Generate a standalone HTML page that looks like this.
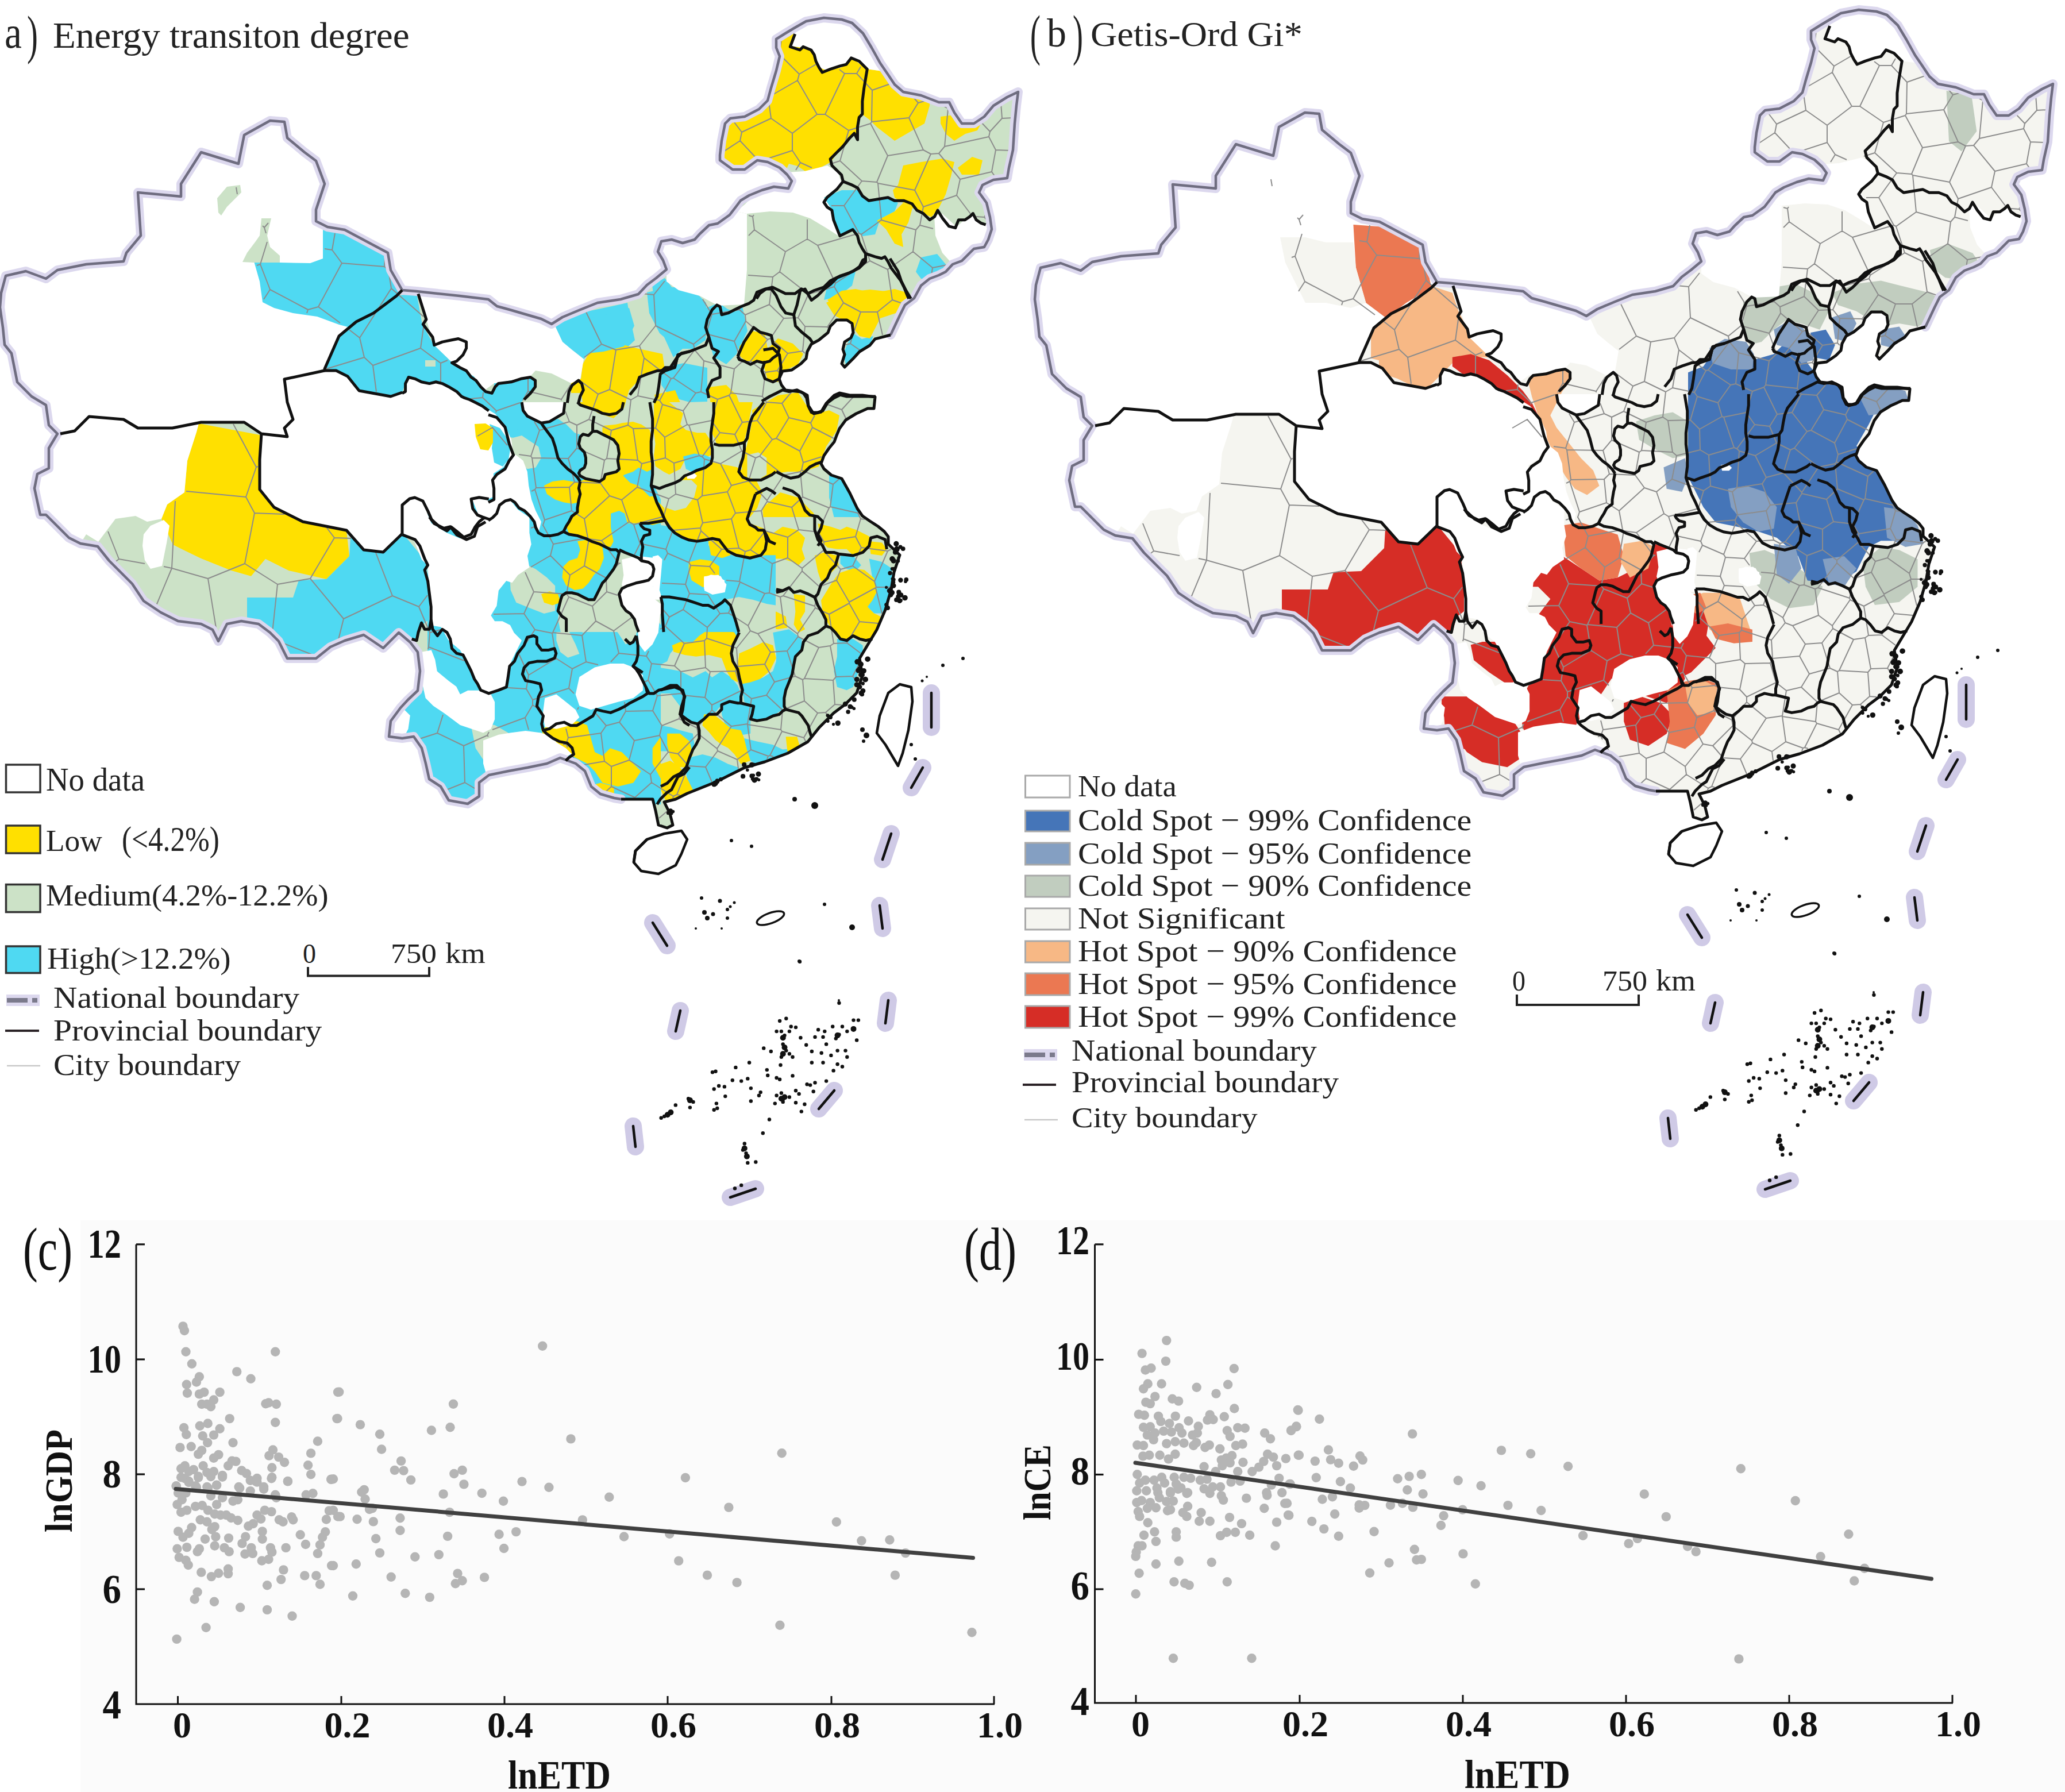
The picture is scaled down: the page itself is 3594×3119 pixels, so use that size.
<!DOCTYPE html><html><head><meta charset="utf-8"><style>html,body{margin:0;padding:0;background:#fff}svg{display:block}text{font-family:"Liberation Serif","Times New Roman",serif}</style></head><body>
<svg xmlns="http://www.w3.org/2000/svg" width="3594" height="3119" viewBox="0 0 3594 3119">
<rect width="3594" height="3119" fill="#fff"/>
<rect x="140" y="2124" width="3454" height="995" fill="#fbfbfb"/>
<clipPath id="clipA"><polygon points="70,896 60,850 65,825 85,815 85,780 100,755 85,740 80,705 55,690 30,665 20,615 8,600 5,570 0,535 2,510 10,480 45,472 80,485 100,470 150,460 215,455 220,440 245,410 240,335 315,342 315,320 350,265 415,285 425,235 470,210 495,212 500,240 530,265 550,280 565,320 550,365 550,385 570,395 600,400 675,440 680,470 700,505 725,507 800,515 850,521 865,533 887,539 911,546 942,555 960,564 979,552 1010,539 1040,527 1080,521 1111,512 1126,496 1142,484 1160,469 1154,453 1145,438 1151,420 1169,417 1188,423 1209,417 1218,407 1234,392 1249,389 1270,374 1280,361 1289,349 1304,340 1326,331 1347,325 1372,328 1378,315 1370,304 1357,292 1336,282 1318,279 1296,295 1275,295 1253,279 1253,270 1256,245 1262,215 1271,206 1296,203 1321,190 1336,175 1342,153 1351,123 1357,98 1351,83 1351,68 1367,58 1382,49 1403,37 1434,31 1465,34 1483,40 1502,58 1517,83 1532,110 1545,129 1557,147 1572,160 1603,166 1634,178 1652,178 1661,196 1674,215 1695,215 1713,203 1729,184 1753,169 1772,160 1769,184 1766,215 1763,261 1756,292 1753,310 1729,313 1710,322 1704,335 1717,353 1723,378 1726,399 1720,417 1713,430 1695,433 1686,442 1674,454 1658,460 1646,473 1634,479 1618,485 1603,497 1591,519 1575,531 1566,549 1550,583 1523,590 1514,601 1496,612 1485,624 1470,639 1465,633 1470,617 1467,608 1470,595 1481,588 1485,579 1483,563 1474,557 1456,557 1445,568 1441,579 1425,592 1412,599 1405,612 1403,624 1394,633 1378,644 1362,646 1356,659 1360,670 1367,679 1394,682 1405,688 1407,706 1416,720 1429,717 1438,702 1452,688 1461,684 1479,688 1501,688 1523,691 1521,711 1510,711 1490,720 1472,731 1461,746 1456,758 1452,769 1443,780 1434,793 1429,807 1434,816 1447,827 1465,833 1479,858 1492,885 1501,898 1514,907 1528,916 1539,925 1546,934 1546,947 1566,966 1556,996 1551,1026 1541,1061 1526,1096 1511,1121 1496,1146 1501,1176 1491,1206 1471,1226 1451,1241 1426,1266 1406,1291 1371,1311 1331,1326 1296,1336 1276,1346 1246,1361 1221,1371 1196,1381 1176,1391 1156,1396 1166,1416 1171,1436 1161,1441 1146,1436 1141,1411 1136,1391 1106,1391 1081,1391 1069,1389 1045,1382 1029,1369 1018,1342 1002,1329 975,1319 952,1329 918,1336 885,1342 851,1349 834,1362 834,1386 814,1399 781,1393 767,1369 747,1356 741,1329 734,1302 720,1282 700,1285 677,1282 680,1255 697,1232 710,1218 727,1202 731,1168 727,1135 714,1118 694,1101 667,1128 633,1105 600,1115 575,1126 550,1146 500,1146 485,1116 470,1101 450,1086 420,1081 395,1086 380,1116 370,1096 350,1086 310,1081 280,1066 250,1046 230,1016 210,996 190,976 170,951 140,946 120,936 100,916 80,896"/><polygon points="1106,1481 1126,1461 1156,1451 1186,1446 1196,1461 1186,1486 1176,1506 1146,1521 1116,1516 1103,1501"/><polygon points="1566,1191 1586,1196 1588,1221 1581,1271 1571,1311 1563,1333 1541,1296 1526,1276 1531,1246 1546,1206"/></clipPath>
<polygon points="70,896 60,850 65,825 85,815 85,780 100,755 85,740 80,705 55,690 30,665 20,615 8,600 5,570 0,535 2,510 10,480 45,472 80,485 100,470 150,460 215,455 220,440 245,410 240,335 315,342 315,320 350,265 415,285 425,235 470,210 495,212 500,240 530,265 550,280 565,320 550,365 550,385 570,395 600,400 675,440 680,470 700,505 725,507 800,515 850,521 865,533 887,539 911,546 942,555 960,564 979,552 1010,539 1040,527 1080,521 1111,512 1126,496 1142,484 1160,469 1154,453 1145,438 1151,420 1169,417 1188,423 1209,417 1218,407 1234,392 1249,389 1270,374 1280,361 1289,349 1304,340 1326,331 1347,325 1372,328 1378,315 1370,304 1357,292 1336,282 1318,279 1296,295 1275,295 1253,279 1253,270 1256,245 1262,215 1271,206 1296,203 1321,190 1336,175 1342,153 1351,123 1357,98 1351,83 1351,68 1367,58 1382,49 1403,37 1434,31 1465,34 1483,40 1502,58 1517,83 1532,110 1545,129 1557,147 1572,160 1603,166 1634,178 1652,178 1661,196 1674,215 1695,215 1713,203 1729,184 1753,169 1772,160 1769,184 1766,215 1763,261 1756,292 1753,310 1729,313 1710,322 1704,335 1717,353 1723,378 1726,399 1720,417 1713,430 1695,433 1686,442 1674,454 1658,460 1646,473 1634,479 1618,485 1603,497 1591,519 1575,531 1566,549 1550,583 1523,590 1514,601 1496,612 1485,624 1470,639 1465,633 1470,617 1467,608 1470,595 1481,588 1485,579 1483,563 1474,557 1456,557 1445,568 1441,579 1425,592 1412,599 1405,612 1403,624 1394,633 1378,644 1362,646 1356,659 1360,670 1367,679 1394,682 1405,688 1407,706 1416,720 1429,717 1438,702 1452,688 1461,684 1479,688 1501,688 1523,691 1521,711 1510,711 1490,720 1472,731 1461,746 1456,758 1452,769 1443,780 1434,793 1429,807 1434,816 1447,827 1465,833 1479,858 1492,885 1501,898 1514,907 1528,916 1539,925 1546,934 1546,947 1566,966 1556,996 1551,1026 1541,1061 1526,1096 1511,1121 1496,1146 1501,1176 1491,1206 1471,1226 1451,1241 1426,1266 1406,1291 1371,1311 1331,1326 1296,1336 1276,1346 1246,1361 1221,1371 1196,1381 1176,1391 1156,1396 1166,1416 1171,1436 1161,1441 1146,1436 1141,1411 1136,1391 1106,1391 1081,1391 1069,1389 1045,1382 1029,1369 1018,1342 1002,1329 975,1319 952,1329 918,1336 885,1342 851,1349 834,1362 834,1386 814,1399 781,1393 767,1369 747,1356 741,1329 734,1302 720,1282 700,1285 677,1282 680,1255 697,1232 710,1218 727,1202 731,1168 727,1135 714,1118 694,1101 667,1128 633,1105 600,1115 575,1126 550,1146 500,1146 485,1116 470,1101 450,1086 420,1081 395,1086 380,1116 370,1096 350,1086 310,1081 280,1066 250,1046 230,1016 210,996 190,976 170,951 140,946 120,936 100,916 80,896" fill="#CCE2C7"/>
<g clip-path="url(#clipA)">
<polygon points="442,455 487,457 540,458 562,450 562,400 600,405 653,426 680,450 693,471 703,505 690,515 650,545 620,560 613,571 590,565 552,551 510,545 477,536 457,526 452,490" fill="#4FD9F2"/>
<polygon points="422,456 430,440 445,420 452,410 455,380 472,380 465,410 470,430 487,445 487,457 442,457" fill="#CCE2C7"/>
<polygon points="380,370 378,345 395,325 418,322 420,335 395,360 385,375" fill="#CCE2C7"/>
<polygon points="565,642 590,585 620,560 650,545 690,515 725,510 735,565 755,600 787,631 798,638 811,647 825,655 842,680 854,685 860,673 860,667 900,660 923,655 932,664 932,676 907,700 910,716 934,736 945,738 954,752 968,765 972,783 972,801 981,812 1004,828 1008,837 1004,854 1008,868 1006,890 988,908 985,930 972,935 956,939 945,935 936,926 934,912 928,899 914,895 901,890 896,879 890,870 879,872 870,884 861,895 852,904 845,897 834,890 825,881 818,872 825,863 838,868 856,868 861,857 858,846 865,837 870,823 879,817 888,808 892,794 888,783 883,770 881,756 874,745 865,734 856,727 838,718 825,712 816,705 803,694 794,689 778,676 765,665 751,665 740,674 722,658 709,656 700,683 680,690 625,680 605,655 585,645" fill="#4FD9F2"/>
<polygon points="827,736 849,737 858,759 858,786 836,784 828,760" fill="#FFE000"/>
<polygon points="887,761 915,765 943,790 943,814 925,815 900,800 887,780" fill="#CCE2C7"/>
<polygon points="740,627 758,627 758,638 740,638" fill="#CCE2C7"/>
<polygon points="346,737 452,757 452,852 477,883 527,908 603,923 608,968 568,1008 502,993 462,973 437,1003 402,993 352,973 321,958 301,948 281,903 291,878 321,857 326,802 342,752" fill="#FFE000"/>
<polygon points="150,930 171,943 201,903 236,898 256,908 250,930 248,950 252,975 262,990 282,985 290,945 296,948 321,963 352,973 402,993 437,1003 462,973 502,993 515,1005 510,1035 440,1040 430,1086 420,1081 395,1086 380,1116 370,1096 350,1086 310,1081 280,1066 250,1046 230,1016 210,996 190,976 170,951" fill="#CCE2C7"/>
<polygon points="430,1040 510,1040 520,1010 568,1008 608,968 610,935 640,960 700,927 741,977 747,1034 747,1078 734,1088 727,1115 714,1118 694,1101 667,1128 633,1105 600,1115 575,1126 550,1146 500,1146 485,1116 470,1101 450,1086 430,1086" fill="#4FD9F2"/>
<polygon points="966,567 985,555 1022,542 1065,533 1092,527 1095,546 1105,592 1089,607 1065,601 1034,604 1016,625 997,610 979,595" fill="#4FD9F2"/>
<polygon points="1135,496 1157,484 1181,515 1218,533 1234,536 1228,592 1206,607 1188,607 1172,622 1151,576 1141,540" fill="#4FD9F2"/>
<polygon points="1234,546 1249,533 1280,542 1292,533 1301,576 1286,607 1261,631 1243,613 1231,585" fill="#4FD9F2"/>
<polygon points="1151,640 1190,632 1231,640 1231,699 1200,700 1165,690 1151,670" fill="#4FD9F2"/>
<polygon points="1253,279 1253,270 1256,245 1262,215 1271,206 1296,203 1321,190 1336,175 1342,153 1351,123 1357,98 1351,83 1351,68 1367,58 1382,49 1382,58 1376,80 1397,83 1416,89 1425,117 1440,123 1465,117 1483,101 1508,120 1505,147 1499,178 1496,209 1492,239 1483,233 1465,255 1446,282 1422,295 1403,299 1388,289 1373,285 1367,298 1357,292 1336,282 1318,279 1296,295 1275,295" fill="#FFE000"/>
<polygon points="1508,120 1530,123 1545,129 1557,147 1572,160 1603,166 1618,175 1618,184 1609,215 1588,227 1557,245 1526,221 1514,209 1502,200 1505,147" fill="#FFE000"/>
<polygon points="1637,203 1660,200 1674,215 1695,215 1709,212 1701,227 1680,233 1661,245 1646,233 1637,215" fill="#FFE000"/>
<polygon points="1563,322 1572,288 1603,282 1640,276 1661,282 1655,307 1646,338 1634,362 1621,378 1588,362 1557,344 1554,331" fill="#FFE000"/>
<polygon points="1667,292 1692,273 1710,279 1704,304 1674,304" fill="#FFE000"/>
<polygon points="1434,344 1465,331 1496,331 1508,347 1548,344 1563,353 1557,368 1532,381 1523,408 1502,411 1483,399 1465,411 1456,393 1446,362" fill="#4FD9F2"/>
<polygon points="1526,384 1557,368 1572,353 1588,362 1581,387 1569,408 1572,430 1557,424 1542,399" fill="#FFE000"/>
<polygon points="1603,448 1631,442 1646,460 1649,485 1624,491 1603,485 1594,473" fill="#4FD9F2"/>
<polygon points="1440,497 1465,479 1489,473 1483,497 1459,516 1434,522" fill="#4FD9F2"/>
<polygon points="1440,522 1465,506 1489,503 1520,510 1557,503 1581,510 1585,528 1557,540 1526,550 1480,556 1465,550" fill="#FFE000"/>
<polygon points="1485,580 1500,590 1520,585 1514,601 1496,612 1485,624 1472,635 1468,615 1475,598" fill="#4FD9F2"/>
<polygon points="1014,634 1032,603 1068,596 1112,607 1153,616 1157,643 1121,652 1095,679 1086,710 1068,728 1041,719 1014,701 1010,670" fill="#FFE000"/>
<polygon points="994,659 1016,659 1016,684 994,684" fill="#FFE000"/>
<polygon points="1050,741 1090,737 1121,750 1130,786 1130,830 1126,857 1148,879 1157,902 1121,915 1086,911 1068,893 1050,870 1032,866 1010,857 1014,839 1050,821 1059,790" fill="#FFE000"/>
<polygon points="992,902 1014,888 1050,893 1068,911 1063,946 1037,951 1014,942 992,929" fill="#FFE000"/>
<polygon points="947,848 987,839 1005,857 1001,870 970,875 952,866" fill="#FFE000"/>
<polygon points="979,973 1014,946 1041,955 1050,973 1032,1000 1005,1022 987,1013 979,991" fill="#FFE000"/>
<polygon points="1139,687 1175,679 1184,701 1179,741 1202,750 1229,750 1237,777 1229,795 1202,804 1184,812 1153,812 1139,790 1139,750 1144,714" fill="#FFE000"/>
<polygon points="1233,674 1264,670 1282,688 1291,714 1300,750 1282,768 1246,768 1233,741 1237,705" fill="#FFE000"/>
<polygon points="1309,714 1354,688 1389,683 1403,705 1425,719 1443,714 1461,723 1456,750 1438,777 1425,812 1398,821 1371,821 1336,826 1295,821 1287,804 1300,777 1313,750" fill="#FFE000"/>
<polygon points="1166,835 1202,821 1237,804 1282,813 1313,830 1327,857 1318,884 1304,902 1327,929 1331,955 1309,969 1273,955 1246,942 1211,938 1184,929 1166,902 1162,866" fill="#FFE000"/>
<polygon points="1327,884 1358,857 1389,866 1416,893 1425,924 1452,938 1470,929 1496,929 1514,946 1532,969 1514,991 1479,982 1447,973 1425,960 1398,973 1371,982 1349,978 1336,955 1331,929" fill="#FFE000"/>
<polygon points="1425,1045 1452,1000 1487,987 1514,991 1532,1018 1532,1063 1523,1098 1505,1116 1470,1116 1447,1089 1429,1071" fill="#FFE000"/>
<polygon points="1287,1129 1313,1116 1345,1121 1349,1161 1336,1188 1304,1192 1287,1170" fill="#FFE000"/>
<polygon points="1170,1116 1202,1107 1237,1098 1273,1094 1282,1116 1277,1152 1260,1170 1233,1156 1202,1147 1175,1134" fill="#FFE000"/>
<polygon points="1202,982 1229,969 1246,973 1242,1004 1220,1018 1202,1004" fill="#FFE000"/>
<polygon points="947,1259 987,1254 1014,1268 1050,1277 1068,1300 1080,1330 1100,1370 1080,1391 1046,1386 1026,1371 1016,1346 996,1331 976,1321 956,1331 950,1300" fill="#FFE000"/>
<polygon points="1287,603 1309,576 1331,580 1336,607 1354,589 1380,598 1398,616 1389,634 1362,647 1354,665 1336,661 1327,629 1300,629 1287,620" fill="#FFE000"/>
<polygon points="1438,527 1470,509 1514,504 1559,509 1577,527 1559,545 1532,554 1514,589 1496,585 1479,563 1452,549" fill="#FFE000"/>
<polygon points="963,567 1005,558 1050,549 1095,536 1104,567 1086,603 1050,612 1014,616 987,607 970,589" fill="#4FD9F2"/>
<polygon points="1126,509 1166,500 1202,500 1229,527 1229,580 1202,603 1175,603 1148,580 1130,545" fill="#4FD9F2"/>
<polygon points="1229,536 1251,527 1282,549 1291,580 1282,616 1264,634 1242,621 1233,589" fill="#4FD9F2"/>
<polygon points="1063,902 1104,911 1130,929 1148,946 1157,969 1139,991 1104,1004 1068,996 1050,973 1059,946" fill="#4FD9F2"/>
<polygon points="1112,920 1157,911 1184,929 1202,955 1202,982 1193,1018 1229,1022 1264,1027 1291,1013 1327,1013 1349,1045 1336,1058 1291,1058 1246,1049 1202,1045 1157,1049 1130,1027 1121,991 1112,955" fill="#4FD9F2"/>
<polygon points="912,1116 952,1098 996,1098 1032,1089 1068,1098 1095,1125 1112,1161 1121,1196 1112,1232 1086,1250 1050,1250 1032,1232 1010,1214 987,1223 961,1237 934,1223 916,1196 907,1161" fill="#4FD9F2"/>
<polygon points="1443,826 1470,830 1487,866 1496,902 1487,929 1470,924 1452,902 1443,866" fill="#4FD9F2"/>
<polygon points="1461,1116 1496,1107 1514,1134 1505,1170 1487,1205 1461,1214 1443,1188 1452,1152" fill="#4FD9F2"/>
<polygon points="1291,1188 1336,1188 1362,1161 1389,1125 1398,1152 1380,1196 1362,1232 1336,1259 1300,1259 1291,1223" fill="#4FD9F2"/>
<polygon points="1139,1170 1179,1161 1215,1179 1246,1196 1264,1237 1246,1268 1202,1286 1166,1272 1139,1237" fill="#4FD9F2"/>
<polygon points="1014,1254 1050,1250 1086,1259 1112,1286 1130,1330 1140,1380 1110,1391 1081,1391 1075,1350 1050,1300 1020,1280" fill="#4FD9F2"/>
<polygon points="854,1013 889,991 916,1004 934,1058 961,1080 979,1116 934,1125 889,1170 867,1196 854,1147 862,1080" fill="#4FD9F2"/>
<polygon points="912,801 950,810 980,830 1008,860 1008,935 970,940 930,930 914,900" fill="#4FD9F2"/>
<polygon points="934,1000 970,995 1000,1030 990,1060 950,1070 925,1050" fill="#4FD9F2"/>
<polygon points="741,1150 760,1175 790,1180 810,1210 834,1240 840,1275 800,1280 780,1300 760,1290 745,1270 740,1230 735,1190" fill="#4FD9F2"/>
<polygon points="870,1180 890,1160 930,1170 950,1200 946,1260 930,1280 900,1290 880,1270 870,1230" fill="#4FD9F2"/>
<polygon points="760,1300 800,1300 830,1330 835,1362 814,1370 790,1350 770,1330" fill="#4FD9F2"/>
<polygon points="1150.0,900.0 1568.5,900.0 1568.5,1400.0 1150.0,1400.0" fill="#CCE2C7"/>
<polygon points="1150.0,914.0 1166.7,916.7 1177.9,927.9 1194.6,936.3 1211.4,941.9 1233.7,939.1 1230.9,972.5 1200.2,980.9 1200.2,1017.2 1222.5,1031.1 1225.3,1003.2 1264.4,1006.0 1267.2,1028.3 1286.7,1025.6 1283.9,1011.6 1295.1,1006.0 1289.5,983.7 1289.5,969.8 1306.2,972.5 1323.0,980.9 1331.4,992.1 1339.7,1000.4 1345.3,1017.2 1345.3,1028.3 1328.6,1033.9 1317.4,1045.1 1295.1,1056.2 1278.3,1067.4 1272.8,1067.4 1267.2,1056.2 1261.6,1045.1 1233.7,1050.7 1205.8,1050.7 1177.9,1042.3 1150.0,1045.1" fill="#4FD9F2"/>
<polygon points="1150.0,1056.2 1166.7,1073.0 1177.9,1095.3 1205.8,1092.5 1217.0,1073.0 1233.7,1067.4 1267.2,1073.0 1281.1,1078.6 1286.7,1100.9 1281.1,1112.1 1272.8,1123.2 1256.0,1123.2 1250.4,1117.6 1233.7,1114.8 1211.4,1114.8 1205.8,1123.2 1177.9,1123.2 1166.7,1137.2 1161.2,1151.1 1150.0,1156.7" fill="#4FD9F2"/>
<polygon points="1150.0,1162.3 1166.7,1165.1 1183.5,1167.9 1205.8,1179.0 1228.1,1167.9 1239.3,1179.0 1256.0,1167.9 1272.8,1179.0 1283.9,1193.0 1289.5,1206.9 1289.5,1223.7 1275.6,1223.7 1256.0,1226.5 1242.1,1243.2 1225.3,1251.6 1214.2,1259.9 1203.0,1257.1 1191.9,1251.6 1183.5,1243.2 1183.5,1229.2 1166.7,1206.9 1150.0,1206.9" fill="#4FD9F2"/>
<polygon points="1345.3,1100.9 1373.2,1095.3 1395.5,1112.1 1395.5,1131.6 1384.4,1142.7 1381.6,1156.7 1378.8,1173.4 1373.2,1187.4 1367.6,1201.3 1364.8,1215.3 1362.1,1234.8 1345.3,1246.0 1328.6,1251.6 1311.8,1254.4 1306.2,1246.0 1306.2,1229.2 1295.1,1220.9 1292.3,1201.3 1289.5,1190.2 1311.8,1184.6 1328.6,1179.0 1345.3,1167.9 1350.9,1151.1 1350.9,1137.2" fill="#4FD9F2"/>
<polygon points="1456.9,1112.1 1484.8,1112.1 1501.6,1123.2 1501.6,1151.1 1490.4,1179.0 1484.8,1195.8 1473.7,1201.3 1456.9,1195.8 1451.3,1167.9 1456.9,1142.7" fill="#4FD9F2"/>
<polygon points="1512.7,972.5 1535.0,978.1 1551.8,989.3 1554.6,1017.2 1546.2,1045.1 1535.0,1067.4 1521.1,1067.4 1509.9,1056.2 1512.7,1031.1 1518.3,1006.0" fill="#4FD9F2"/>
<polygon points="1462.5,964.2 1484.8,967.0 1498.8,983.7 1487.6,994.9 1470.9,989.3 1462.5,980.9" fill="#4FD9F2"/>
<polygon points="1256.0,1223.7 1270.0,1220.9 1283.9,1223.7 1300.7,1226.5 1311.8,1229.2 1309.0,1243.2 1306.2,1251.6 1306.2,1276.7 1289.5,1279.5 1272.8,1271.1 1261.6,1259.9 1256.0,1243.2" fill="#4FD9F2"/>
<polygon points="1295.1,1285.0 1317.4,1290.6 1345.3,1296.2 1362.1,1304.6 1390.0,1301.8 1401.1,1290.6 1406.7,1296.2 1395.5,1318.5 1373.2,1329.7 1345.3,1335.3 1323.0,1335.3 1306.2,1324.1 1295.1,1307.4" fill="#4FD9F2"/>
<polygon points="1200.2,1318.5 1222.5,1312.9 1244.9,1318.5 1267.2,1329.7 1283.9,1335.3 1289.5,1352.0 1272.8,1368.8 1250.4,1379.9 1233.7,1391.1 1211.4,1400.0 1200.2,1400.0 1197.4,1374.3 1194.6,1346.4" fill="#4FD9F2"/>
<polygon points="1150.0,1262.7 1166.7,1265.5 1183.5,1271.1 1205.8,1276.7 1208.6,1296.2 1200.2,1312.9 1183.5,1307.4 1166.7,1307.4 1150.0,1307.4" fill="#4FD9F2"/>
<polygon points="1166.7,900.0 1242.1,900.0 1242.1,933.5 1233.7,939.1 1211.4,941.9 1194.6,936.3 1177.9,927.9 1166.7,916.7" fill="#FFE000"/>
<polygon points="1256.0,900.0 1292.3,900.0 1306.2,911.2 1328.6,919.5 1331.4,927.9 1331.4,950.2 1325.8,964.2 1317.4,967.0 1300.7,964.2 1283.9,961.4 1267.2,958.6 1258.8,953.0 1256.0,941.9 1247.7,936.3 1256.0,916.7" fill="#FFE000"/>
<polygon points="1200.2,978.1 1233.7,972.5 1250.4,983.7 1253.2,1006.0 1233.7,1017.2 1217.0,1017.2 1203.0,1006.0" fill="#FFE000"/>
<polygon points="1233.7,941.9 1256.0,941.9 1267.2,958.6 1272.8,972.5 1256.0,978.1 1236.5,972.5" fill="#FFE000"/>
<polygon points="1247.7,969.8 1283.9,967.0 1295.1,983.7 1295.1,1006.0 1283.9,1011.6 1286.7,1025.6 1267.2,1028.3 1264.4,1006.0 1253.2,1006.0" fill="#CCE2C7"/>
<polygon points="1323.0,922.3 1345.3,927.9 1362.1,916.7 1387.2,922.3 1401.1,936.3 1395.5,955.8 1401.1,972.5 1390.0,983.7 1378.8,978.1 1362.1,972.5 1345.3,972.5 1328.6,967.0 1320.2,955.8 1328.6,941.9" fill="#FFE000"/>
<polygon points="1417.9,967.0 1434.6,961.4 1456.9,967.0 1459.7,983.7 1445.8,997.7 1440.2,1011.6 1429.0,1011.6 1423.4,994.9" fill="#FFE000"/>
<polygon points="1423.4,911.2 1445.8,916.7 1462.5,922.3 1473.7,916.7 1490.4,922.3 1512.7,933.5 1515.5,950.2 1501.6,961.4 1484.8,967.0 1473.7,955.8 1456.9,955.8 1440.2,953.0 1429.0,941.9" fill="#FFE000"/>
<polygon points="1512.7,941.9 1535.0,944.6 1543.4,955.8 1535.0,967.0 1515.5,964.2" fill="#FFE000"/>
<polygon points="1429.0,1045.1 1445.8,1017.2 1459.7,997.7 1484.8,989.3 1504.4,992.1 1521.1,1006.0 1526.7,1028.3 1518.3,1045.1 1509.9,1056.2 1521.1,1067.4 1532.3,1073.0 1529.5,1095.3 1518.3,1112.1 1496.0,1114.8 1484.8,1106.5 1473.7,1114.8 1462.5,1112.1 1454.1,1100.9 1445.8,1092.5 1437.4,1078.6 1431.8,1067.4" fill="#FFE000"/>
<polygon points="1169.5,1123.2 1183.5,1117.6 1205.8,1117.6 1217.0,1106.5 1233.7,1095.3 1256.0,1092.5 1278.3,1100.9 1283.9,1112.1 1275.6,1123.2 1272.8,1137.2 1275.6,1151.1 1283.9,1165.1 1283.9,1187.4 1272.8,1181.8 1264.4,1167.9 1256.0,1145.5 1233.7,1140.0 1211.4,1142.7 1191.9,1140.0 1172.3,1134.4" fill="#FFE000"/>
<polygon points="1286.7,1137.2 1306.2,1128.8 1328.6,1117.6 1345.3,1123.2 1350.9,1145.5 1339.7,1167.9 1323.0,1181.8 1306.2,1187.4 1292.3,1190.2 1286.7,1173.4 1283.9,1156.7" fill="#FFE000"/>
<polygon points="1331.4,1067.4 1350.9,1064.6 1367.6,1073.0 1370.4,1092.5 1353.7,1095.3 1336.9,1092.5 1331.4,1081.4" fill="#FFE000"/>
<polygon points="1381.6,1033.9 1401.1,1036.7 1401.1,1064.6 1392.7,1078.6 1401.1,1095.3 1390.0,1100.9 1381.6,1086.9 1384.4,1064.6" fill="#FFE000"/>
<polygon points="1225.3,1243.2 1242.1,1243.2 1256.0,1254.4 1272.8,1268.3 1289.5,1271.1 1295.1,1285.0 1300.7,1307.4 1306.2,1324.1 1289.5,1329.7 1278.3,1312.9 1267.2,1301.8 1256.0,1296.2 1244.9,1287.8 1233.7,1273.9 1222.5,1262.7" fill="#FFE000"/>
<polygon points="1367.6,1282.3 1387.2,1282.3 1392.7,1301.8 1384.4,1312.9 1370.4,1307.4" fill="#FFE000"/>
<polygon points="1161.2,1276.7 1183.5,1276.7 1200.2,1290.6 1205.8,1312.9 1194.6,1335.3 1177.9,1335.3 1166.7,1318.5 1161.2,1296.2" fill="#FFE000"/>
<polygon points="1150.0,1329.7 1166.7,1324.1 1183.5,1335.3 1194.6,1352.0 1205.8,1374.3 1200.2,1400.0 1161.2,1400.0 1150.0,1374.3" fill="#FFE000"/>
<polygon points="744.0,800.0 1150.1,800.0 1150.1,1399.9 677.0,1399.9 677.0,1201.7 744.0,1201.7" fill="#4FD9F2"/>
<polygon points="971.6,1044.4 985.0,1034.3 1001.7,1031.0 1018.5,1034.3 1035.2,1021.0 1052.0,1007.6 1068.7,987.5 1075.4,967.4 1095.5,974.1 1122.3,987.5 1135.7,1000.9 1129.0,1014.3 1115.6,1021.0 1102.2,1034.3 1088.8,1054.4 1095.5,1074.5 1108.9,1094.6 1105.5,1114.7 1088.8,1121.4 1075.4,1101.3 1062.0,1087.9 1045.3,1084.6 1028.5,1091.3 1015.1,1101.3 1001.7,1094.6 988.3,1081.2 975.0,1067.8" fill="#CCE2C7"/>
<polygon points="894.6,1014.3 911.3,994.2 928.1,987.5 948.2,1000.9 968.3,1014.3 978.3,1034.3 971.6,1054.4 968.3,1074.5 961.6,1087.9 948.2,1094.6 934.8,1087.9 924.7,1067.8 908.0,1054.4 898.0,1034.3" fill="#CCE2C7"/>
<polygon points="968.3,1087.9 988.3,1094.6 1001.7,1121.4 1008.4,1138.1 988.3,1144.8 975.0,1134.8 968.3,1114.7" fill="#CCE2C7"/>
<polygon points="948.2,840.2 975.0,833.5 1001.7,836.8 1011.8,860.3 1001.7,877.0 978.3,877.0 958.2,867.0 948.2,853.6" fill="#FFE000"/>
<polygon points="978.3,987.5 995.0,974.1 1008.4,957.3 1028.5,947.3 1045.3,954.0 1052.0,974.1 1041.9,1000.9 1028.5,1017.6 1011.8,1027.7 991.7,1027.7 981.7,1010.9" fill="#FFE000"/>
<polygon points="988.3,900.4 1001.7,887.0 1015.1,880.3 1008.4,860.3 1015.1,836.8 1035.2,840.2 1055.3,830.1 1075.4,833.5 1068.7,860.3 1068.7,887.0 1065.3,910.5 1062.0,933.9 1045.3,940.6 1028.5,933.9 1008.4,927.2 995.0,917.2" fill="#FFE000"/>
<polygon points="1082.1,900.4 1095.5,883.7 1115.6,867.0 1135.7,863.6 1155.7,883.7 1162.4,907.1 1135.7,913.8 1115.6,910.5" fill="#FFE000"/>
<polygon points="944.8,1034.3 961.6,1031.0 978.3,1041.0 975.0,1054.4 951.5,1056.1" fill="#FFE000"/>
<polygon points="941.5,1268.7 961.6,1262.0 985.0,1258.7 1005.1,1255.3 1021.8,1262.0 1028.5,1285.4 1035.2,1308.9 1048.6,1315.6 1062.0,1302.2 1082.1,1308.9 1102.2,1329.0 1115.6,1342.4 1102.2,1362.4 1075.4,1369.1 1048.6,1362.4 1035.2,1342.4 1021.8,1329.0 1001.7,1318.9 988.3,1308.9 968.3,1295.5 948.2,1285.4" fill="#FFE000"/>
<polygon points="1135.7,1302.2 1150.1,1282.1 1150.1,1355.7 1135.7,1329.0" fill="#FFE000"/>
<polygon points="1021.8,1369.1 1045.3,1362.4 1068.7,1369.1 1068.7,1399.9 1025.2,1399.9" fill="#FFE000"/>
<polygon points="821.0,1268.7 841.0,1258.7 861.1,1262.0 884.6,1275.4 881.2,1295.5 861.1,1308.9 841.0,1322.3 827.7,1302.2" fill="#CCE2C7"/>
<polygon points="1122.3,1034.3 1142.4,1031.0 1150.1,1034.3 1150.1,1087.9 1135.7,1067.8" fill="#CCE2C7"/>
<polygon points="942.0,736.3 971.1,729.1 985.6,738.7 1000.1,753.3 1014.6,758.1 1019.5,772.6 1019.5,796.9 1009.8,821.1 1009.8,838.0 1007.4,869.5 1005.0,891.3 985.6,915.5 975.9,930.0 990.4,930.0 1019.5,937.3 1067.9,956.7 1077.6,961.5 1072.8,980.9 1053.4,1009.9 1034.0,1043.8 985.6,1031.7 975.9,1043.8 971.1,1077.7 975.9,1100.0 850.0,1100.0 850.0,905.8 864.5,893.7 879.1,871.9 896.0,874.3 913.0,888.9 932.3,908.2 942.0,927.6 929.9,908.2 922.6,893.7 917.8,869.5 922.6,845.3 917.8,821.1 910.5,801.7 898.4,792.0 891.2,772.6 898.4,748.4 922.6,736.3" fill="#4FD9F2"/>
<polygon points="888.7,763.0 908.1,758.1 922.6,767.8 937.2,777.5 942.0,796.9 932.3,813.8 917.8,816.2 898.4,804.1 891.2,787.2" fill="#CCE2C7"/>
<polygon points="1031.6,750.8 1024.3,758.1 1014.6,755.7 1009.8,760.5 1007.4,772.6 1009.8,779.9 1017.1,787.2 1019.5,796.9 1019.5,806.5 1017.1,813.8 1009.8,818.6 1007.4,823.5 1009.8,828.3 1014.6,830.8 1019.5,833.2 1031.6,835.6 1043.7,838.0 1051.0,833.2 1053.4,825.9 1063.1,823.5 1072.8,821.1 1077.6,816.2 1075.2,801.7 1077.6,789.6 1075.2,775.1 1067.9,765.4 1058.2,760.5 1048.5,755.7 1038.9,750.8" fill="#CCE2C7"/>
<polygon points="886.3,990.6 913.0,980.9 932.3,990.6 951.7,1005.1 966.2,1019.6 966.2,1063.2 946.9,1068.0 922.6,1058.4 898.4,1048.7 888.7,1026.9" fill="#CCE2C7"/>
<polygon points="1077.6,961.5 1087.3,961.5 1099.4,966.3 1111.5,971.2 1116.3,976.0 1128.5,978.5 1135.7,983.3 1138.1,990.6 1135.7,1002.7 1128.5,1009.9 1118.8,1012.3 1106.7,1014.8 1092.1,1019.6 1082.4,1024.5 1077.6,1034.1 1080.0,1043.8 1082.4,1053.5 1089.7,1063.2 1097.0,1068.0 1104.2,1077.7 1106.7,1087.4 1111.5,1100.0 975.9,1100.0 971.1,1077.7 973.5,1053.5 975.9,1043.8 978.3,1036.6 985.6,1031.7 1005.0,1034.1 1024.3,1043.8 1034.0,1043.8 1043.7,1024.5 1053.4,1009.9 1067.9,990.6 1075.2,971.2" fill="#CCE2C7"/>
<polygon points="1005.0,700.0 1084.9,700.0 1082.4,712.1 1072.8,719.4 1060.7,721.8 1048.5,719.4 1038.9,714.5 1024.3,709.7 1009.8,704.8" fill="#FFE000"/>
<polygon points="1048.5,743.6 1063.1,741.2 1082.4,736.3 1101.8,733.9 1116.3,738.7 1130.9,748.4 1135.7,772.6 1133.3,796.9 1135.7,816.2 1126.0,821.1 1111.5,813.8 1101.8,821.1 1087.3,825.9 1080.0,830.8 1077.6,816.2 1075.2,801.7 1077.6,789.6 1075.2,775.1 1067.9,765.4 1058.2,760.5 1048.5,755.7" fill="#FFE000"/>
<polygon points="1009.8,838.0 1019.5,833.2 1031.6,835.6 1043.7,838.0 1051.0,833.2 1053.4,825.9 1063.1,823.5 1077.6,821.1 1087.3,830.8 1097.0,840.4 1111.5,845.3 1121.2,855.0 1130.9,864.6 1143.0,874.3 1150.2,888.9 1157.5,905.8 1143.0,908.2 1128.5,910.7 1113.9,910.7 1092.1,913.1 1082.4,908.2 1067.9,893.7 1063.1,898.5 1063.1,917.9 1067.9,942.1 1063.1,951.8 1053.4,951.8 1043.7,947.0 1029.2,942.1 1019.5,937.3 1005.0,932.4 990.4,930.0 985.6,915.5 990.4,908.2 995.3,898.5 1005.0,891.3 1005.0,884.0 1007.4,869.5 1009.8,859.8 1007.4,850.1" fill="#FFE000"/>
<polygon points="1063.1,893.7 1077.6,888.9 1087.3,893.7 1092.1,910.7 1111.5,910.7 1121.2,920.3 1130.9,922.8 1130.9,930.0 1121.2,932.4 1116.3,942.1 1118.8,951.8 1116.3,966.3 1111.5,971.2 1099.4,966.3 1087.3,961.5 1077.6,956.7 1072.8,956.7 1067.9,942.1 1063.1,917.9" fill="#4FD9F2"/>
<polygon points="946.9,845.3 961.4,838.0 980.8,835.6 995.3,838.0 1007.4,840.4 1009.8,857.4 1007.4,874.3 995.3,876.8 980.8,874.3 966.2,869.5 951.7,859.8" fill="#FFE000"/>
<polygon points="1135.7,700.0 1242.3,700.0 1237.4,767.8 1237.4,796.9 1227.7,813.8 1213.2,818.6 1191.4,828.3 1174.5,840.4 1147.8,850.1 1133.3,845.3 1135.7,772.6" fill="#CCE2C7"/>
<polygon points="1138.1,700.0 1164.8,700.0 1176.9,709.7 1189.0,719.4 1184.1,738.7 1193.8,748.4 1213.2,753.3 1227.7,753.3 1237.4,767.8 1237.4,792.0 1227.7,796.9 1208.4,792.0 1193.8,796.9 1189.0,806.5 1184.1,816.2 1174.5,821.1 1164.8,825.9 1155.1,821.1 1140.6,811.4 1138.1,792.0 1140.6,772.6 1138.1,753.3 1138.1,729.1" fill="#FFE000"/>
<polygon points="1189.0,794.4 1208.4,789.6 1227.7,792.0 1237.4,796.9 1232.6,809.0 1218.0,818.6 1203.5,821.1 1193.8,816.2" fill="#4FD9F2"/>
<polygon points="1164.8,855.0 1179.3,850.1 1193.8,835.6 1213.2,830.8 1227.7,825.9 1242.3,821.1 1261.6,825.9 1281.0,835.6 1285.8,850.1 1295.5,864.6 1310.0,874.3 1305.2,893.7 1300.4,908.2 1310.0,917.9 1322.2,925.2 1331.8,932.4 1331.8,956.7 1319.7,966.3 1305.2,971.2 1285.8,966.3 1266.5,961.5 1256.8,947.0 1247.1,939.7 1227.7,939.7 1213.2,942.1 1198.7,939.7 1184.1,932.4 1172.0,922.8 1162.3,910.7 1155.1,893.7 1159.9,874.3" fill="#FFE000"/>
<polygon points="1140.6,850.1 1159.9,845.3 1174.5,840.4 1189.0,835.6 1203.5,835.6 1213.2,845.3 1208.4,864.6 1193.8,884.0 1174.5,888.9 1159.9,884.0 1150.2,869.5" fill="#CCE2C7"/>
<polygon points="1242.3,700.0 1310.0,700.0 1305.2,724.2 1300.4,748.4 1295.5,767.8 1281.0,772.6 1261.6,772.6 1247.1,772.6 1239.8,748.4" fill="#FFE000"/>
<polygon points="1319.7,709.7 1334.3,700.0 1350.0,700.0 1350.0,821.1 1334.3,830.8 1314.9,835.6 1297.9,835.6 1290.7,821.1 1293.1,801.7 1297.9,782.3 1302.8,763.0 1310.0,729.1" fill="#FFE000"/>
<polygon points="1300.4,792.0 1319.7,787.2 1334.3,796.9 1334.3,825.9 1319.7,835.6 1300.4,830.8" fill="#CCE2C7"/>
<polygon points="1116.3,976.0 1135.7,966.3 1164.8,961.5 1184.1,956.7 1203.5,951.8 1227.7,947.0 1261.6,961.5 1281.0,968.8 1310.0,973.6 1331.8,966.3 1350.0,966.3 1350.0,1100.0 1152.7,1100.0 1150.2,1039.0 1135.7,1014.8 1138.1,990.6" fill="#4FD9F2"/>
<polygon points="1198.7,978.5 1218.0,973.6 1237.4,976.0 1251.9,985.7 1251.9,1005.1 1237.4,1019.6 1222.9,1022.0 1203.5,1009.9 1198.7,993.0" fill="#FFE000"/>
<polygon points="1232.6,942.1 1251.9,939.7 1266.5,951.8 1271.3,966.3 1256.8,971.2 1237.4,966.3" fill="#FFE000"/>
<polygon points="942.0,1034.1 956.5,1029.3 971.1,1034.1 975.9,1048.7 961.4,1053.5 946.9,1048.7" fill="#FFE000"/>
<polygon points="1005.0,942.1 1019.5,939.7 1034.0,944.6 1048.5,951.8 1051.0,971.2 1043.7,990.6 1034.0,1000.2 1024.3,1014.8 1014.6,1024.5 1000.1,1026.9 985.6,1019.6 978.3,1005.1 980.8,985.7 990.4,976.0 1005.0,971.2 1009.8,956.7" fill="#FFE000"/>
<polygon points="1261.6,1043.8 1285.8,1039.0 1310.0,1043.8 1334.3,1051.1 1350.0,1053.5 1350.0,1100.0 1285.8,1100.0 1276.2,1068.0" fill="#CCE2C7"/>
<polygon points="105,755 100,755 85,740 80,705 55,690 30,665 20,615 8,600 5,570 0,535 2,510 10,480 45,472 80,485 100,470 150,460 215,455 220,440 245,410 240,335 315,342 315,320 350,265 415,285 425,235 470,210 495,212 500,240 530,265 550,280 565,320 550,365 550,385 570,395 600,400 675,440 680,470 700,505 690,515 650,545 620,560 590,585 565,642 495,660 500,700 510,730 495,745 500,760 455,755 425,735 350,735 300,745 240,745 215,730 155,725 130,750" fill="#ffffff"/>
<polygon points="495,660 565,645 585,645 605,655 625,680 680,690 700,684 705.6,681.6 705.6,667.6 711,656.5 722.3,659 733.5,664.8 747.4,667.6 758.6,664.8 781,673 795,681.6 803,690 817,695.5 839.5,706.7 862,720.6 878.6,740 890,765 892.5,785 890,793 876,813 859,824 859,846 862,863 850.7,868.5 834,866 820,868.5 823,885 831,896 845,902 852,904 843,901 834,908 827,917 820,930 807,935 794,924 785,917 778,924 765,917 751,904 745,890 736,872 722,866 713,868 700,879 700,929 667,961 633,957 603,923 527,908 477,883 452,852 452,800 455,755 500,760 495,745 510,730 500,700" fill="#ffffff"/>
<polygon points="105,755 130,750 155,725 215,730 240,745 300,745 350,735 346,737 342,752 326,802 321,857 291,878 281,903 256,908 236,898 201,903 171,943 150,930 140,946 120,936 100,916 80,896 70,896 60,850 65,825 85,815 85,780 100,755" fill="#ffffff"/>
<polygon points="250,930 262,915 285,905 295,915 290,945 282,985 262,990 252,975 248,950" fill="#ffffff"/>
<polygon points="921.4,927.2 924.7,947.3 918.0,967.4 921.4,987.5 901.3,1000.9 891.3,1014.3 881.2,1010.9 867.8,1027.7 864.5,1054.4 854.4,1071.2 861.1,1081.2 874.5,1081.2 887.9,1087.9 894.6,1101.3 908.0,1114.7 901.3,1128.1 891.3,1148.2 884.6,1168.3 881.2,1198.4 854.4,1208.4 834.3,1201.7 817.6,1161.6 800.9,1131.4 780.8,1114.7 767.4,1091.3 747.3,1087.9 747.3,1034.3 744.0,984.1 733.9,974.1 720.5,940.6 700.4,930.6 700.4,877.0 717.2,867.0 733.9,870.3 750.7,910.5 777.4,927.2 800.9,937.3 824.3,927.2 834.3,900.4 821.0,867.0 834.3,863.6 854.4,873.7 867.8,880.3 887.9,870.3 901.3,887.0 921.4,900.4" fill="#ffffff"/>
<polygon points="733.9,1134.8 750.7,1131.4 757.3,1148.2 760.7,1168.3 780.8,1185.0 794.2,1195.0 800.9,1208.4 814.3,1201.7 834.3,1201.7 854.4,1208.4 861.1,1221.8 861.1,1252.0 854.4,1268.7 841.0,1275.4 821.0,1268.7 800.9,1262.0 774.1,1241.9 754.0,1228.5 740.6,1215.1 733.9,1185.0" fill="#ffffff"/>
<polygon points="841.0,1288.8 867.8,1278.7 887.9,1275.4 914.7,1272.0 941.5,1275.4 961.6,1282.1 968.3,1292.1 985.0,1302.2 995.0,1312.2 975.0,1322.3 934.8,1335.7 901.3,1342.4 867.8,1349.0 847.7,1352.4 841.0,1329.0" fill="#ffffff"/>
<polygon points="1008.4,1178.3 1035.2,1161.6 1062.0,1154.9 1085.4,1154.9 1102.2,1161.6 1118.9,1175.0 1118.9,1201.7 1102.2,1215.1 1075.4,1221.8 1052.0,1228.5 1028.5,1235.2 1008.4,1228.5 1001.7,1208.4" fill="#ffffff"/>
<polygon points="948.2,1215.1 968.3,1208.4 985.0,1221.8 1001.7,1235.2 1008.4,1248.6 995.0,1262.0 968.3,1268.7 948.2,1265.3 944.8,1241.9" fill="#ffffff"/>
<polygon points="1082.1,974.1 1108.9,967.4 1135.7,970.7 1145.7,987.5 1142.4,1014.3 1122.3,1034.3 1102.2,1041.0 1088.8,1034.3 1082.1,1017.6 1085.4,1000.9" fill="#ffffff"/>
<polygon points="1112.2,1061.1 1135.7,1057.8 1149.0,1067.8 1145.7,1101.3 1135.7,1121.4 1122.3,1134.8 1112.2,1121.4 1108.9,1087.9" fill="#ffffff"/>
<polygon points="677.0,1228.5 700.4,1231.9 713.8,1245.3 710.5,1268.7 700.4,1288.8 680.3,1288.8" fill="#ffffff"/>
<polygon points="1226,1006 1245,1002 1261,1010 1261,1031 1240,1035 1226,1028" fill="#ffffff"/>
<polygon points="1382,58 1376,80 1397,83 1416,89 1425,117 1440,123 1465,117 1483,101 1508,120 1530,123 1545,129 1532,110 1517,83 1502,58 1483,40 1465,34 1434,31 1403,37" fill="#ffffff"/>
<polygon points="1370,300 1400,298 1440,288 1459,301 1465,320 1434,344 1446,362 1456,393 1460,411 1440,398 1410,380 1380,370 1340,368 1300,372 1281,368 1296,356 1308,344 1324,331 1342,325 1367,325 1376,319" fill="#ffffff"/>
<polygon points="811,600 830,560 850,521 865,533 887,539 911,546 942,555 960,564 965,580 963,600 950,620 932,640 923,655 900,660 860,667 842,680 825,655 811,647 798,638 787,631" fill="#ffffff"/>
<polygon points="728,511 800,515 850,521 865,533 887,539 911,546 942,555 960,564 966,567 979,595 997,610 1016,625 1010,660 994,667 980,660 960,650 932,645 923,655 900,660 860,667 842,680 825,655 811,647 798,638 787,631 755,600 742,556" fill="#ffffff"/>
<polygon points="1145,438 1151,420 1169,417 1188,423 1209,417 1218,407 1234,392 1249,389 1270,374 1281,368 1300,372 1300,470 1295,530 1250,532 1218,515 1181,505 1160,490 1160,469 1154,453" fill="#ffffff"/>
<polygon points="1626,375 1640,372 1665,395 1680,381 1692,374 1701,384 1716,390 1723,378 1726,399 1720,417 1713,430 1695,433 1686,442 1674,454 1658,460 1640,440 1628,410" fill="#ffffff"/>
<polygon points="1225.3,1003.2 1250.4,1000.4 1264.4,1017.2 1261.6,1031.1 1242.1,1031.1 1225.3,1025.6" fill="#ffffff"/>
<polygon points="908.1,700.0 983.2,700.0 980.8,719.4 968.6,726.6 956.5,733.9 942.0,736.3 932.3,731.5 917.8,724.2 910.5,714.5" fill="#ffffff"/>
<polygon points="886.3,792.0 898.4,792.0 910.5,801.7 917.8,821.1 920.2,845.3 925.1,869.5 932.3,888.9 942.0,908.2 937.2,927.6 929.9,908.2 922.6,898.5 913.0,888.9 903.3,884.0 896.0,874.3 888.7,869.5 879.1,871.9 869.4,879.2 864.5,893.7 857.3,901.0 850.0,905.8 850.0,874.3 859.7,869.5 859.7,850.1 857.3,835.6 864.5,825.9 879.1,816.2 886.3,801.7" fill="#ffffff"/>
<polygon points="1135.7,968.8 1145.4,966.3 1152.7,973.6 1150.2,1002.7 1147.8,1026.9 1152.7,1043.8 1140.6,1043.8 1135.7,1026.9 1138.1,1002.7" fill="#ffffff"/>
<polygon points="1082.4,1024.5 1092.1,1019.6 1106.7,1014.8 1118.8,1012.3 1128.5,1009.9 1135.7,1014.8 1140.6,1043.8 1152.7,1053.5 1150.2,1068.0 1140.6,1077.7 1128.5,1087.4 1116.3,1100.0 1106.7,1087.4 1104.2,1077.7 1097.0,1068.0 1089.7,1063.2 1082.4,1053.5 1080.0,1043.8 1077.6,1034.1" fill="#ffffff"/>
<polygon points="1193.8,823.5 1205.9,821.1 1213.2,828.3 1208.4,833.2 1196.2,833.2" fill="#ffffff"/>
<polygon points="1225.3,1005.1 1237.4,1000.2 1254.4,1002.7 1264.0,1019.6 1256.8,1031.7 1237.4,1031.7 1225.3,1022.0" fill="#ffffff"/>
<polygon points="442,455 487,457 540,458 562,450 562,400 600,405 653,426 680,450 693,471 703,505 690,515 650,545 620,560 613,571 590,565 552,551 510,545 477,536 457,526 452,490" fill="#4FD9F2"/>
<polygon points="422,456 430,440 445,420 452,410 455,380 472,380 465,410 470,430 487,445 487,457 442,457" fill="#CCE2C7"/>
<polygon points="380,370 378,345 395,325 418,322 420,335 395,360 385,375" fill="#CCE2C7"/>
<polygon points="852,738 870,745 884,765 888,783 885,800 875,812 860,805 856,780 858,760" fill="#4FD9F2"/>
<polygon points="826,738 845,737 858,745 858,770 850,784 836,782 828,760" fill="#FFE000"/>
<path d="M446,813 L428,865M446,813 L406,738M428,865 L324,855M362,1007 L378,1105M362,1007 L426,981M426,981 L483,1017M483,1017 L474,1101M428,865 L443,893M443,893 L426,981M305,872 L299,989M299,989 L362,1007M550,1142 L489,1118M588,1117 L598,1077M598,1077 L540,1007M540,1007 L483,1017M540,1007 L582,936M443,893 L495,895M569,919 L582,936M449,812 L446,813M1587,166 L1598,179M1616,174 L1598,179M669,464 L595,458M669,464 L670,445M595,458 L578,435M578,435 L583,406M568,642 L634,622M634,622 L649,636M655,682 L649,636M676,470 L681,502M676,470 L677,470M681,502 L737,551M669,464 L676,470M595,458 L554,534M554,534 L592,562M608,574 L626,588M626,588 L681,502M634,622 L626,588M732,606 L649,636M732,606 L739,556M774,1376 L809,1362M831,1375 L809,1362M188,925 L207,973M207,973 L198,980M299,989 L299,989M207,973 L252,981M285,986 L299,989M299,989 L271,1056M598,1077 L683,1037M582,936 L611,937M683,1037 L654,962M927,1227 L942,1237M927,1227 L914,1249M989,1284 L985,1268M989,1284 L985,1295M914,1249 L920,1270M985,1295 L980,1296M1361,1273 L1399,1284M1361,1273 L1340,1315M1346,1317 L1340,1315M1402,1290 L1399,1284M1340,1315 L1337,1316M1337,1316 L1335,1321M1706,211 L1723,229M1742,179 L1744,206M1744,206 L1723,229M1650,189 L1654,188M1650,189 L1636,181M1764,205 L1744,206M1358,67 L1360,68M1379,54 L1360,68M727,1287 L761,1276M809,1362 L807,1298M761,1276 L807,1298M850,1282 L848,1280M807,1298 L848,1280M914,1249 L857,1270M851,1274 L848,1280M536,539 L534,545M536,539 L470,504M470,504 L459,521M554,534 L536,539M578,435 L565,433M465,421 L453,460M453,460 L470,504M453,460 L447,462M1489,934 L1498,903M1489,934 L1434,943M1443,884 L1445,882M1443,884 L1424,926M1445,882 L1493,893M1493,893 L1498,903M1424,926 L1434,943M927,1227 L927,1218M1005,1235 L1007,1231M999,1207 L990,1198M927,1218 L990,1198M1098,696 L1110,689M1098,696 L1061,678M1110,689 L1121,623M1061,678 L1072,609M1072,609 L1113,602M1121,623 L1113,602M1025,730 L1041,686M1025,730 L1064,749M1041,686 L1061,678M1064,749 L1093,740M1093,740 L1098,696M1168,659 L1121,623M1168,659 L1148,697M1148,697 L1110,689M985,1295 L988,1301M996,1315 L1001,1325M1178,1383 L1183,1384M1178,1383 L1172,1386M1171,1389 L1172,1386M1161,1412 L1147,1424M1178,1383 L1198,1333M1239,1361 L1228,1335M1228,1335 L1198,1333M1337,1316 L1307,1305M1285,1338 L1283,1322M1307,1305 L1283,1322M1213,1267 L1239,1236M1213,1267 L1215,1277M1239,1236 L1273,1264M1215,1277 L1248,1303M1273,1264 L1248,1303M1228,1335 L1249,1307M1283,1322 L1249,1307M1215,1277 L1180,1312M1180,1312 L1198,1333M1248,1303 L1249,1307M1360,68 L1357,90M463,406 L460,396M467,388 L460,396M460,396 L457,393M413,338 L411,326M1360,98 L1391,129M1391,129 L1420,112M1157,489 L1138,513M1117,511 L1138,513M1141,567 L1138,513M1141,567 L1113,602M1072,609 L1047,599M1047,599 L1018,539M761,1276 L771,1244M683,1037 L729,1056M745,1130 L746,1126M746,1126 L748,1101M729,1056 L748,1101M1499,953 L1484,985M1499,953 L1489,934M1433,958 L1434,943M1433,958 L1463,991M1463,991 L1484,985M1499,953 L1545,959M1545,959 L1522,1012M1484,985 L1522,1012M1450,843 L1445,882M1450,843 L1395,818M1443,884 L1397,865M1395,818 L1393,821M1393,821 L1397,865M1390,922 L1424,926M1390,922 L1378,883M1397,865 L1378,883M1351,763 L1392,785M1351,763 L1344,765M1395,818 L1398,805M1398,805 L1392,785M1393,821 L1364,827M1364,827 L1322,794M1344,765 L1322,794M1493,892 L1493,893M1498,903 L1505,904M1551,956 L1551,956M1551,956 L1545,959M1168,659 L1172,658M1141,567 L1207,599M1172,658 L1209,609M1207,599 L1209,609M1351,763 L1373,727M1373,727 L1361,702M1344,765 L1318,732M1318,732 L1334,700M1361,702 L1334,700M1269,688 L1272,684M1269,688 L1292,735M1272,684 L1327,690M1318,732 L1292,735M1334,700 L1327,690M1303,837 L1273,845M1303,837 L1335,871M1280,893 L1266,856M1280,893 L1325,889M1273,845 L1266,856M1325,889 L1335,873M1335,873 L1335,871M1364,827 L1335,871M1322,794 L1315,797M1315,797 L1303,837M1332,924 L1371,935M1332,924 L1325,889M1390,922 L1371,935M1378,883 L1335,873M1202,984 L1235,986M1202,984 L1199,979M1199,979 L1220,924M1235,986 L1256,956M1256,956 L1220,924M1193,1017 L1202,984M1193,1017 L1200,1033M1233,1035 L1232,1035M1244,998 L1235,986M1200,1033 L1232,1035M1152,1015 L1193,1017M1156,975 L1162,963M1162,963 L1199,979M1315,797 L1291,785M1273,845 L1254,807M1254,807 L1291,785M1222,863 L1226,799M1222,863 L1266,856M1254,807 L1226,799M1292,735 L1279,756M1279,756 L1291,785M1225,628 L1278,642M1225,628 L1220,682M1278,642 L1272,684M1269,688 L1249,695M1249,695 L1220,682M1172,658 L1211,684M1225,628 L1209,609M1211,684 L1220,682M1056,798 L1110,801M1056,798 L1064,749M1093,740 L1102,746M1110,801 L1102,746M840,692 L820,694M840,692 L841,683M779,627 L767,632M767,632 L767,665M864,715 L863,718M857,743 L857,744M864,715 L840,692M857,744 L831,759M732,606 L767,632M1134,1155 L1174,1159M1134,1155 L1128,1184M1128,1184 L1144,1211M1144,1211 L1185,1207M1185,1207 L1185,1169M1185,1169 L1174,1159M1063,1152 L1077,1137M1122,1187 L1128,1184M1125,1142 L1077,1137M1125,1142 L1134,1155M1087,1222 L1089,1238M1089,1238 L1136,1237M1136,1237 L1144,1211M1189,1210 L1182,1251M1189,1210 L1185,1207M1182,1251 L1152,1263M1152,1263 L1136,1237M1191,1120 L1226,1115M1191,1120 L1174,1159M1228,1162 L1226,1115M1228,1162 L1185,1169M989,1284 L1046,1276M1011,1332 L1052,1325M1052,1325 L1046,1276M1033,1237 L1055,1263M1089,1238 L1078,1257M1078,1257 L1055,1263M1046,1276 L1055,1263M1551,956 L1551,956M1525,1022 L1524,1023M1525,1022 L1549,1022M1524,1023 L1535,1068M1522,1012 L1525,1022M1650,189 L1644,255M1723,229 L1721,238M1644,255 L1721,238M1760,262 L1733,261M1733,309 L1726,299M1726,299 L1733,261M1721,238 L1733,261M1718,369 L1713,378M1713,378 L1717,382M1552,145 L1518,157M1598,179 L1582,205M1582,205 L1517,212M1517,212 L1518,157M1498,116 L1491,128M1518,157 L1491,128M1461,121 L1470,128M1491,128 L1470,128M1313,400 L1303,410M1313,400 L1310,377M1310,377 L1303,375M746,1126 L808,1150M927,1218 L916,1199M884,1197 L916,1199M1472,728 L1465,713M1451,763 L1414,744M1465,713 L1440,704M1418,723 L1411,736M1414,744 L1411,736M1485,691 L1465,713M1398,805 L1430,795M1392,785 L1414,744M1373,727 L1411,736M1450,843 L1460,834M1441,1247 L1437,1240M1465,1227 L1453,1226M1453,1226 L1437,1240M1399,1284 L1423,1241M1423,1241 L1437,1240M1493,1190 L1484,1177M1484,1177 L1495,1156M1463,991 L1456,1010M1524,1023 L1478,1048M1456,1010 L1478,1048M1286,954 L1256,956M1286,954 L1297,960M1264,1010 L1287,1012M1287,1012 L1297,960M1332,924 L1306,957M1286,954 L1273,903M1273,903 L1280,893M1297,960 L1306,957M1189,1061 L1231,1092M1189,1061 L1200,1033M1232,1035 L1253,1068M1253,1068 L1231,1092M1361,702 L1377,683M1214,870 L1176,860M1214,870 L1223,910M1223,910 L1219,919M1219,919 L1171,923M1155,899 L1171,923M1155,899 L1164,868M1164,868 L1176,860M1273,903 L1223,910M1222,863 L1214,870M1220,924 L1219,919M1162,963 L1159,956M1159,956 L1171,923M1109,848 L1164,868M1109,848 L1117,807M1173,806 L1176,860M1173,806 L1158,797M1158,797 L1117,807M1217,793 L1222,795M1217,793 L1199,740M1222,795 L1253,753M1199,740 L1238,732M1253,753 L1238,732M1173,806 L1217,793M1226,799 L1222,795M1279,756 L1253,753M1249,695 L1238,732M1189,715 L1196,739M1189,715 L1153,704M1196,739 L1157,761M1153,704 L1141,745M1141,745 L1157,761M1211,684 L1189,715M1199,740 L1196,739M1148,697 L1153,704M1158,797 L1157,761M1102,746 L1141,745M1110,801 L1117,807M729,1056 L744,1036M968,1146 L961,1102M968,1146 L996,1164M996,1164 L1020,1152M1020,1152 L1013,1106M1013,1106 L962,1101M961,1102 L962,1101M990,1198 L996,1164M916,1199 L920,1175M920,1175 L968,1146M1041,1157 L1020,1152M986,1034 L992,1001M986,1034 L929,1030M992,1001 L958,967M929,1030 L914,996M958,967 L924,987M1191,1120 L1158,1090M1125,1142 L1129,1133M1149,1095 L1158,1090M1189,1061 L1165,1074M1226,1115 L1230,1111M1231,1092 L1230,1111M1165,1074 L1158,1090M1077,1137 L1068,1098M1068,1098 L1099,1075M1013,1106 L1037,1081M1068,1098 L1037,1081M990,1039 L1031,1055M990,1039 L962,1101M1037,1081 L1031,1055M1159,956 L1114,946M1155,899 L1103,913M1114,946 L1103,913M1109,848 L1082,870M1082,870 L1095,908M1095,908 L1103,913M919,659 L919,681M919,681 L977,695M977,695 L993,670M864,715 L905,701M910,697 L919,681M930,734 L939,749M939,749 L991,734M991,734 L984,716M977,697 L977,695M1047,599 L1017,622M1025,730 L1004,740M1041,686 L1010,663M1004,740 L991,734M1051,1381 L1064,1369M1052,1325 L1064,1334M1064,1369 L1064,1334M1105,1388 L1105,1388M1064,1369 L1105,1388M1172,1386 L1134,1362M1105,1388 L1134,1362M1517,212 L1515,215M1515,215 L1477,227M1470,128 L1436,199M1477,227 L1436,199M1256,266 L1288,245M1288,245 L1317,276M1312,374 L1310,377M1385,296 L1393,283M1379,262 L1393,283M1379,262 L1330,278M1288,245 L1291,230M1275,209 L1291,230M859,1069 L912,1068M900,1137 L903,1138M903,1138 L931,1096M931,1096 L912,1068M748,1101 L767,1096M929,1030 L912,1068M920,1175 L903,1138M961,1102 L931,1096M986,1034 L990,1039M1527,543 L1498,543M1527,543 L1536,583M1498,543 L1487,575M1482,591 L1480,598M1496,609 L1480,598M1573,529 L1553,522M1553,522 L1527,543M1469,358 L1447,358M1469,358 L1495,406M1495,406 L1423,427M1405,382 L1405,416M1405,416 L1423,427M1500,315 L1469,358M1500,315 L1462,280M1462,280 L1443,286M1413,292 L1393,283M1367,438 L1405,416M1367,438 L1313,400M1582,205 L1607,261M1515,215 L1545,271M1607,261 L1545,271M1500,315 L1526,317M1462,280 L1477,227M1545,271 L1526,317M1453,1226 L1450,1184M1484,1177 L1455,1178M1450,1184 L1455,1178M1361,1273 L1359,1270M1307,1305 L1301,1261M1359,1270 L1301,1261M1273,1264 L1301,1260M1301,1261 L1301,1260M1423,1241 L1400,1220M1400,1181 L1450,1184M1400,1181 L1397,1183M1397,1183 L1400,1220M1359,1270 L1362,1236M1400,1220 L1362,1236M1189,1210 L1227,1214M1228,1162 L1236,1169M1236,1169 L1227,1214M1213,1267 L1182,1251M1239,1236 L1239,1227M1227,1214 L1239,1227M1288,1013 L1331,1033M1288,1013 L1268,1067M1331,1033 L1302,1089M1268,1067 L1302,1089M1287,1012 L1288,1013M1253,1068 L1268,1067M1230,1111 L1282,1128M1282,1128 L1306,1098M1306,1098 L1302,1089M1327,690 L1332,648M1357,649 L1353,645M1332,648 L1353,645M1056,798 L1052,801M1004,740 L1004,780M1052,801 L1004,780M958,967 L963,947M963,947 L945,914M924,919 L930,917M944,914 L945,914M1031,1055 L1056,1030M1056,1030 L1075,1036M1114,946 L1104,966M1165,1074 L1154,1061M1017,985 L1055,1006M1017,985 L1025,938M1025,938 L1047,941M1047,941 L1077,981M1055,1006 L1077,981M992,1001 L1017,985M1056,1030 L1055,1006M1023,936 L963,947M1023,936 L1025,938M1095,908 L1047,941M1080,980 L1077,981M1132,1348 L1095,1323M1132,1348 L1163,1309M1163,1309 L1148,1280M1148,1280 L1104,1289M1104,1289 L1095,1323M1064,1334 L1095,1323M1134,1362 L1132,1348M1180,1312 L1163,1309M1152,1263 L1148,1280M1078,1257 L1104,1289M1379,232 L1422,199M1379,232 L1342,206M1422,199 L1388,140M1388,140 L1341,167M1338,177 L1342,206M1379,262 L1379,232M1436,199 L1422,199M1291,230 L1342,206M1391,129 L1388,140M1454,493 L1423,427M1454,493 L1514,454M1495,406 L1499,408M1514,454 L1499,408M1526,317 L1528,319M1528,319 L1534,383M1499,408 L1534,383M1671,312 L1634,267M1671,312 L1665,340M1665,340 L1607,360M1634,267 L1620,268M1620,268 L1592,331M1592,331 L1607,360M1644,255 L1634,267M1726,299 L1671,312M1713,378 L1699,377M1689,372 L1665,340M1607,261 L1620,268M1528,319 L1592,331M1654,460 L1623,466M1624,398 L1601,392M1623,466 L1589,438M1589,438 L1594,400M1601,392 L1594,400M1621,480 L1623,466M1607,360 L1601,392M1553,522 L1545,469M1545,469 L1589,438M1545,469 L1514,454M1534,383 L1594,400M1400,1181 L1425,1127M1455,1178 L1445,1124M1445,1124 L1425,1127M1370,1133 L1384,1177M1370,1133 L1389,1108M1397,1183 L1384,1177M1425,1127 L1389,1108M1331,1156 L1284,1160M1331,1156 L1348,1187M1348,1187 L1334,1210M1334,1210 L1308,1216M1308,1216 L1290,1202M1290,1202 L1280,1168M1280,1168 L1284,1160M1341,1135 L1331,1156M1341,1135 L1319,1103M1282,1128 L1284,1160M1319,1103 L1306,1098M1370,1133 L1341,1135M1384,1177 L1348,1187M1362,1236 L1334,1210M1301,1260 L1308,1216M1239,1227 L1290,1202M1236,1169 L1280,1168M1306,957 L1344,981M1331,1033 L1339,1032M1339,1032 L1344,981M1371,935 L1371,971M1344,981 L1371,971M1433,958 L1396,989M1371,971 L1396,989M1456,1010 L1426,1021M1426,1021 L1396,994M1396,989 L1396,994M1480,598 L1472,600M1278,642 L1291,630M1332,648 L1306,629M1291,630 L1306,629M1017,903 L995,889M1017,903 L1061,863M995,889 L991,848M1061,863 L1045,841M1045,841 L1000,839M991,848 L1000,839M1023,936 L1017,903M948,905 L945,914M948,905 L995,889M1082,870 L1061,863M1052,801 L1045,841M1004,780 L989,798M989,798 L1000,839M924,794 L926,797M924,794 L903,791M926,797 L933,849M925,855 L931,852M933,849 L931,852M939,749 L924,794M989,798 L926,797M857,744 L883,775M894,789 L895,789M991,848 L933,849M948,905 L931,852M1474,1119 L1451,1120M1474,1119 L1496,1082M1451,1120 L1443,1069M1443,1069 L1478,1050M1496,1082 L1478,1050M1498,1137 L1474,1119M1445,1124 L1451,1120M1528,1085 L1496,1082M1478,1048 L1478,1050M1358,1039 L1363,1037M1358,1039 L1364,1085M1363,1037 L1418,1055M1364,1085 L1388,1103M1388,1103 L1419,1058M1418,1055 L1419,1058M1339,1032 L1358,1039M1396,994 L1363,1037M1319,1103 L1364,1085M1426,1021 L1418,1055M1389,1108 L1388,1103M1443,1069 L1419,1058M1498,543 L1468,527M1441,571 L1440,569M1440,569 L1468,527M1367,438 L1357,473M1454,493 L1452,499M1357,473 L1407,512M1407,512 L1452,499M1452,499 L1468,527M1207,599 L1229,581M1291,630 L1278,594M1278,594 L1229,581M1223,521 L1239,547M1229,581 L1239,547M1239,547 L1287,539M1286,533 L1287,539M1357,473 L1345,482M1302,479 L1345,482M1353,645 L1371,615M1401,615 L1397,611M1371,615 L1397,611M1440,569 L1401,568M1397,611 L1401,568M1407,512 L1389,553M1401,568 L1389,553M1298,559 L1297,548M1298,559 L1336,591M1297,548 L1339,530M1336,591 L1341,589M1341,589 L1364,554M1339,530 L1364,554M1278,594 L1298,559M1287,539 L1297,548M1306,629 L1336,591M1345,482 L1339,530M1371,615 L1341,589M1389,553 L1364,554" fill="none" stroke="#8c8c8c" stroke-width="2"/>
</g>
<polyline points="1081,1391 1069,1389 1045,1382 1029,1369 1018,1342 1002,1329 975,1319 952,1329 918,1336 885,1342 851,1349 834,1362 834,1386 814,1399 781,1393 767,1369 747,1356 741,1329 734,1302 720,1282 700,1285 677,1282 680,1255 697,1232 710,1218 727,1202 731,1168 727,1135 714,1118 694,1101 667,1128 633,1105 600,1115 575,1126 550,1146 500,1146 485,1116 470,1101 450,1086 420,1081 395,1086 380,1116 370,1096 350,1086 310,1081 280,1066 250,1046 230,1016 210,996 190,976 170,951 140,946 120,936 100,916 80,896 70,896 60,850 65,825 85,815 85,780 100,755 85,740 80,705 55,690 30,665 20,615 8,600 5,570 0,535 2,510 10,480 45,472 80,485 100,470 150,460 215,455 220,440 245,410 240,335 315,342 315,320 350,265 415,285 425,235 470,210 495,212 500,240 530,265 550,280 565,320 550,365 550,385 570,395 600,400 675,440 680,470 700,505 725,507 800,515 850,521 865,533 887,539 911,546 942,555 960,564 979,552 1010,539 1040,527 1080,521 1111,512 1126,496 1142,484 1160,469 1154,453 1145,438 1151,420 1169,417 1188,423 1209,417 1218,407 1234,392 1249,389 1270,374 1280,361 1289,349 1304,340 1326,331 1347,325 1372,328 1378,315 1370,304 1357,292 1336,282 1318,279 1296,295 1275,295 1253,279 1253,270 1256,245 1262,215 1271,206 1296,203 1321,190 1336,175 1342,153 1351,123 1357,98 1351,83 1351,68 1367,58 1382,49 1403,37 1434,31 1465,34 1483,40 1502,58 1517,83 1532,110 1545,129 1557,147 1572,160 1603,166 1634,178 1652,178 1661,196 1674,215 1695,215 1713,203 1729,184 1753,169 1772,160 1769,184 1766,215 1763,261 1756,292 1753,310 1729,313 1710,322 1704,335 1717,353 1723,378 1726,399 1720,417 1713,430 1695,433 1686,442 1674,454 1658,460 1646,473 1634,479 1618,485 1603,497 1591,519 1575,531 1566,549 1550,583" fill="none" stroke="#dcd8ee" stroke-width="16" stroke-linejoin="round" stroke-linecap="round"/>
<polyline points="1081,1391 1069,1389 1045,1382 1029,1369 1018,1342 1002,1329 975,1319 952,1329 918,1336 885,1342 851,1349 834,1362 834,1386 814,1399 781,1393 767,1369 747,1356 741,1329 734,1302 720,1282 700,1285 677,1282 680,1255 697,1232 710,1218 727,1202 731,1168 727,1135 714,1118 694,1101 667,1128 633,1105 600,1115 575,1126 550,1146 500,1146 485,1116 470,1101 450,1086 420,1081 395,1086 380,1116 370,1096 350,1086 310,1081 280,1066 250,1046 230,1016 210,996 190,976 170,951 140,946 120,936 100,916 80,896 70,896 60,850 65,825 85,815 85,780 100,755 85,740 80,705 55,690 30,665 20,615 8,600 5,570 0,535 2,510 10,480 45,472 80,485 100,470 150,460 215,455 220,440 245,410 240,335 315,342 315,320 350,265 415,285 425,235 470,210 495,212 500,240 530,265 550,280 565,320 550,365 550,385 570,395 600,400 675,440 680,470 700,505 725,507 800,515 850,521 865,533 887,539 911,546 942,555 960,564 979,552 1010,539 1040,527 1080,521 1111,512 1126,496 1142,484 1160,469 1154,453 1145,438 1151,420 1169,417 1188,423 1209,417 1218,407 1234,392 1249,389 1270,374 1280,361 1289,349 1304,340 1326,331 1347,325 1372,328 1378,315 1370,304 1357,292 1336,282 1318,279 1296,295 1275,295 1253,279 1253,270 1256,245 1262,215 1271,206 1296,203 1321,190 1336,175 1342,153 1351,123 1357,98 1351,83 1351,68 1367,58 1382,49 1403,37 1434,31 1465,34 1483,40 1502,58 1517,83 1532,110 1545,129 1557,147 1572,160 1603,166 1634,178 1652,178 1661,196 1674,215 1695,215 1713,203 1729,184 1753,169 1772,160 1769,184 1766,215 1763,261 1756,292 1753,310 1729,313 1710,322 1704,335 1717,353 1723,378 1726,399 1720,417 1713,430 1695,433 1686,442 1674,454 1658,460 1646,473 1634,479 1618,485 1603,497 1591,519 1575,531 1566,549 1550,583" fill="none" stroke="#6f6d80" stroke-width="4.5" stroke-linejoin="round"/>
<polyline points="1550,583 1523,590 1514,601 1496,612 1485,624 1470,639 1465,633 1470,617 1467,608 1470,595 1481,588 1485,579 1483,563 1474,557 1456,557 1445,568 1441,579 1425,592 1412,599 1405,612 1403,624 1394,633 1378,644 1362,646 1356,659 1360,670 1367,679 1394,682 1405,688 1407,706 1416,720 1429,717 1438,702 1452,688 1461,684 1479,688 1501,688 1523,691 1521,711 1510,711 1490,720 1472,731 1461,746 1456,758 1452,769 1443,780 1434,793 1429,807 1434,816 1447,827 1465,833 1479,858 1492,885 1501,898 1514,907 1528,916 1539,925 1546,934 1546,947 1566,966 1556,996 1551,1026 1541,1061 1526,1096 1511,1121 1496,1146 1501,1176 1491,1206 1471,1226 1451,1241 1426,1266 1406,1291 1371,1311 1331,1326 1296,1336 1276,1346 1246,1361 1221,1371 1196,1381 1176,1391 1156,1396 1166,1416 1171,1436 1161,1441 1146,1436 1141,1411 1136,1391 1106,1391 1081,1391" fill="none" stroke="#111" stroke-width="5" stroke-linejoin="round"/>
<polyline points="727.9,511.4 741.9,556.0 736.3,564.4 753.0,586.7 755.8,600.7 769.8,595.1 783.7,592.3 797.7,589.5 811.6,595.1 811.6,606.2 806.0,617.4 794.9,628.6 786.5,631.4 800.4,639.7 811.6,645.3 820.0,656.5 828.3,662.1 836.7,673.2 845.1,681.6 856.2,684.4 861.8,673.2 867.4,667.6 889.7,664.8 906.5,659.3 923.2,656.5 931.6,662.1 931.6,673.2 923.2,684.4 912.1,695.5" fill="none" stroke="#111" stroke-width="5" stroke-linejoin="round"/>
<polyline points="987.4,701.1 990.2,681.6 995.8,670.4 1006.9,662.1 1012.5,667.6 1015.3,678.8 1009.7,690.0 1006.9,701.1" fill="none" stroke="#111" stroke-width="5" stroke-linejoin="round"/>
<polyline points="1096.2,687.2 1107.4,673.2 1112.9,656.5 1126.9,650.9 1143.6,645.3 1152.0,645.3 1157.6,639.7 1174.3,639.7 1179.9,617.4 1200.0,611.8" fill="none" stroke="#111" stroke-width="5" stroke-linejoin="round"/>
<polyline points="845.1,902.0 831.1,896.4 822.8,885.3 820.0,868.5 833.9,865.7 850.7,868.5" fill="none" stroke="#111" stroke-width="5" stroke-linejoin="round"/>
<polyline points="850.7,715.1 839.5,706.7 828.3,701.1 817.2,695.5 808.8,692.7 803.2,690.0 794.9,681.6 780.9,673.2 769.8,667.6 758.6,664.8 747.4,667.6 733.5,664.8 722.3,659.3 711.2,656.5 705.6,667.6 705.6,681.6 700.0,684.4" fill="none" stroke="#111" stroke-width="5" stroke-linejoin="round"/>
<polyline points="1179.9,617.4 1174.3,639.7 1157.6,645.3 1149.2,650.9 1146.4,673.2 1143.6,690.0 1138.1,701.1" fill="none" stroke="#111" stroke-width="5" stroke-linejoin="round"/>
<polyline points="1150.0,645.3 1166.7,639.7 1177.9,623.0 1186.3,614.6 1200.2,611.8 1214.2,606.2 1228.1,600.7 1233.7,586.7 1228.1,570.0 1230.9,556.0 1239.3,539.3 1247.7,530.9 1253.2,533.7 1256.0,547.7 1267.2,544.9 1278.3,539.3 1289.5,533.7 1303.5,528.1 1311.8,522.5 1317.4,508.6 1331.4,503.0 1342.5,503.0 1350.9,514.2 1359.3,533.7 1367.6,544.9 1381.6,547.7 1387.2,530.9 1392.7,505.8 1401.1,503.0 1412.3,522.5 1423.4,514.2 1434.6,503.0 1445.8,494.6 1456.9,483.5 1470.9,477.9 1484.8,472.3 1496.0,464.0 1501.6,452.8 1507.1,450.0" fill="none" stroke="#111" stroke-width="5" stroke-linejoin="round"/>
<polyline points="1549.0,450.0 1562.9,472.3 1568.5,489.1 1576.9,505.8 1585.3,519.8" fill="none" stroke="#111" stroke-width="5" stroke-linejoin="round"/>
<polyline points="1381.6,547.7 1384.4,567.2 1395.5,578.3 1409.5,589.5 1415.1,597.9" fill="none" stroke="#111" stroke-width="5" stroke-linejoin="round"/>
<polyline points="1283.9,620.2 1295.1,595.1 1306.2,578.3 1311.8,570.0 1323.0,578.3 1334.2,581.1 1342.5,583.9 1345.3,597.9 1356.5,606.2 1353.7,617.4 1345.3,623.0 1339.7,628.6 1328.6,631.4 1317.4,628.6 1306.2,634.2 1295.1,628.6 1286.7,625.8 1283.9,620.2" fill="none" stroke="#111" stroke-width="5" stroke-linejoin="round"/>
<polyline points="1328.6,609.0 1345.3,606.2 1356.5,617.4 1359.3,639.7 1356.5,659.3 1345.3,664.8 1331.4,659.3 1325.8,645.3 1331.4,628.6" fill="none" stroke="#111" stroke-width="5" stroke-linejoin="round"/>
<polyline points="1233.7,586.7 1239.3,606.2 1250.4,611.8 1242.1,623.0 1253.2,639.7 1253.2,656.5 1239.3,662.1 1230.9,678.8 1233.7,692.7" fill="none" stroke="#111" stroke-width="5" stroke-linejoin="round"/>
<polyline points="1325.8,698.3 1339.7,690.0 1350.9,684.4 1362.1,678.8 1373.2,681.6 1387.2,678.8 1398.3,684.4 1403.9,692.7 1406.7,706.7 1412.3,717.9 1423.4,717.9 1431.8,715.1 1440.2,701.1 1451.3,692.7 1462.5,687.2 1473.7,690.0 1484.8,690.0 1501.6,690.0 1512.7,690.0 1523.9,690.0" fill="none" stroke="#111" stroke-width="5" stroke-linejoin="round"/>
<polyline points="1350.9,821.1 1362.1,826.7 1376.0,832.3 1390.0,829.5 1401.1,821.1 1409.5,812.7 1420.6,807.1 1429.0,804.4" fill="none" stroke="#111" stroke-width="5" stroke-linejoin="round"/>
<polyline points="1362.1,849.0 1378.8,854.6 1390.0,862.9 1395.5,874.1 1401.1,888.1 1409.5,896.4 1423.4,899.2 1431.8,907.6 1429.0,918.8 1423.4,929.9 1429.0,941.1 1423.4,950.0" fill="none" stroke="#111" stroke-width="5" stroke-linejoin="round"/>
<polyline points="747.4,900.0 755.8,911.2 772.5,919.5 783.7,916.7 794.9,930.7 811.6,939.1 825.6,933.5 831.1,916.7 845.1,908.4" fill="none" stroke="#111" stroke-width="5" stroke-linejoin="round"/>
<polyline points="700.0,930.7 722.3,939.1 730.7,950.2 739.1,972.5 744.6,983.7 739.1,992.1 744.6,1011.6 747.4,1033.9 750.2,1056.2 750.2,1078.6 747.4,1095.3 739.1,1095.3 733.5,1084.2 727.9,1100.9 725.1,1114.8 716.7,1112.1" fill="none" stroke="#111" stroke-width="5" stroke-linejoin="round"/>
<polyline points="750.2,1078.6 753.0,1095.3 761.4,1106.5 769.8,1095.3 778.1,1100.9 783.7,1112.1 786.5,1128.8 794.9,1137.2 806.0,1140.0 814.4,1156.7 820.0,1167.9 825.6,1181.8 831.1,1190.2 836.7,1201.3 850.7,1206.9 867.4,1201.3 881.4,1195.8 884.2,1179.0 886.9,1159.5 895.3,1151.1 900.9,1137.2 912.1,1123.2 917.6,1109.3 928.8,1106.5 934.4,1109.3 934.4,1120.4 942.7,1131.6 953.9,1131.6 965.1,1128.8 967.9,1137.2 965.1,1145.5 951.1,1151.1 934.4,1151.1 920.4,1153.9 912.1,1162.3 909.3,1173.4 914.8,1184.6 928.8,1187.4 940.0,1190.2 942.7,1201.3 937.2,1212.5 934.4,1229.2 940.0,1237.6 945.5,1246.0 942.7,1259.9 945.5,1271.1 956.7,1268.3 967.9,1259.9 981.8,1257.1 993.0,1262.7 1004.1,1262.7 1018.1,1254.4 1032.0,1246.0 1037.6,1234.8 1048.8,1237.6 1062.7,1240.4 1076.7,1234.8 1087.8,1229.2 1096.2,1223.7 1107.4,1218.1 1118.5,1212.5 1126.9,1206.9 1124.1,1195.8 1118.5,1184.6 1112.9,1173.4 1107.4,1165.1 1101.8,1159.5" fill="none" stroke="#111" stroke-width="5" stroke-linejoin="round"/>
<polyline points="1107.4,1106.5 1101.8,1117.6 1096.2,1120.4 1087.8,1112.1" fill="none" stroke="#111" stroke-width="5" stroke-linejoin="round"/>
<polyline points="1107.4,1106.5 1110.2,1123.2 1110.2,1140.0 1107.4,1151.1 1101.8,1159.5 1110.2,1165.1 1118.5,1170.6" fill="none" stroke="#111" stroke-width="5" stroke-linejoin="round"/>
<polyline points="1124.1,1195.8 1129.7,1206.9 1138.1,1206.9 1146.4,1201.3 1160.4,1198.5 1174.3,1195.8 1188.3,1201.3 1191.1,1212.5 1188.3,1234.8 1185.5,1246.0 1191.1,1257.1 1200.0,1262.7" fill="none" stroke="#111" stroke-width="5" stroke-linejoin="round"/>
<polyline points="945.5,1271.1 951.1,1276.7 962.3,1285.0 973.4,1290.6 987.4,1293.4 995.8,1301.8 998.5,1312.9 990.2,1318.5 984.6,1324.1" fill="none" stroke="#111" stroke-width="5" stroke-linejoin="round"/>
<polyline points="1200.0,1335.3 1191.1,1346.4 1179.9,1352.0 1174.3,1363.2 1168.8,1374.3 1160.4,1379.9 1149.2,1391.1 1143.6,1400.0" fill="none" stroke="#111" stroke-width="5" stroke-linejoin="round"/>
<polyline points="1417.9,900.0 1417.9,922.3 1423.4,939.1 1431.8,950.2 1437.4,961.4 1451.3,961.4 1459.7,964.2 1484.8,967.0 1501.6,961.4 1512.7,950.2 1515.5,936.3 1526.7,933.5 1540.6,939.1 1543.4,955.8" fill="none" stroke="#111" stroke-width="5" stroke-linejoin="round"/>
<polyline points="1350.9,1025.6 1362.1,1028.3 1373.2,1022.8 1381.6,1031.1 1392.7,1028.3 1406.7,1033.9 1417.9,1039.5 1423.4,1033.9 1429.0,1017.2 1440.2,1006.0 1445.8,992.1 1454.1,983.7 1459.7,964.2" fill="none" stroke="#111" stroke-width="5" stroke-linejoin="round"/>
<polyline points="1350.9,1031.1 1362.1,1028.3" fill="none" stroke="#111" stroke-width="5" stroke-linejoin="round"/>
<polyline points="1286.7,1100.9 1281.1,1112.1 1275.6,1123.2 1272.8,1137.2 1275.6,1151.1 1283.9,1165.1 1286.7,1179.0 1289.5,1190.2 1292.3,1201.3 1289.5,1212.5 1289.5,1223.7 1300.7,1226.5 1311.8,1229.2 1309.0,1243.2 1306.2,1251.6 1317.4,1254.4 1334.2,1251.6 1345.3,1246.0 1356.5,1243.2 1362.1,1237.6 1367.6,1234.8" fill="none" stroke="#111" stroke-width="5" stroke-linejoin="round"/>
<polyline points="1417.9,1039.5 1423.4,1053.5 1431.8,1067.4 1437.4,1078.6 1437.4,1089.7 1423.4,1100.9 1406.7,1106.5 1398.3,1117.6 1395.5,1131.6 1384.4,1142.7 1381.6,1156.7 1378.8,1173.4 1373.2,1187.4 1367.6,1201.3 1364.8,1215.3 1364.8,1229.2 1367.6,1234.8" fill="none" stroke="#111" stroke-width="5" stroke-linejoin="round"/>
<polyline points="1437.4,1089.7 1445.8,1092.5 1454.1,1100.9 1462.5,1112.1 1473.7,1114.8 1484.8,1106.5 1496.0,1112.1 1507.1,1114.8 1518.3,1112.1" fill="none" stroke="#111" stroke-width="5" stroke-linejoin="round"/>
<polyline points="1367.6,1234.8 1378.8,1237.6 1390.0,1240.4 1395.5,1246.0 1401.1,1254.4 1406.7,1262.7 1409.5,1273.9 1412.3,1282.3" fill="none" stroke="#111" stroke-width="5" stroke-linejoin="round"/>
<polyline points="1150.0,1201.3 1166.7,1193.0 1177.9,1193.0 1186.3,1201.3 1191.9,1212.5 1186.3,1229.2 1183.5,1243.2 1194.6,1251.6 1203.0,1257.1 1214.2,1259.9 1225.3,1251.6 1233.7,1243.2 1247.7,1243.2 1256.0,1234.8 1256.0,1226.5 1270.0,1220.9 1283.9,1223.7 1289.5,1223.7" fill="none" stroke="#111" stroke-width="5" stroke-linejoin="round"/>
<polyline points="1214.2,1259.9 1217.0,1271.1 1217.0,1285.0 1211.4,1296.2 1205.8,1304.6 1200.2,1318.5 1194.6,1335.3 1183.5,1346.4 1172.3,1352.0 1161.2,1363.2 1150.0,1368.8" fill="none" stroke="#111" stroke-width="5" stroke-linejoin="round"/>
<polyline points="1383.7,59.1 1375.3,81.4 1392.1,87.0 1397.7,81.4 1411.6,87.0 1417.2,95.3 1420.0,106.5 1425.6,117.7 1431.1,126.0 1445.1,120.4 1461.8,114.9 1473.0,112.1 1481.4,100.9 1495.3,106.5 1509.3,120.4 1506.5,137.2 1503.7,153.9 1500.9,176.2 1500.9,198.6 1495.3,204.2 1492.5,220.9 1492.5,243.2 1486.9,232.1 1478.6,240.4 1467.4,254.4 1456.2,265.5 1445.1,276.7 1447.9,287.9 1456.2,296.2 1464.6,304.6 1467.4,315.8 1481.4,321.3 1492.5,326.9 1500.9,340.9 1512.1,349.2 1528.8,346.5 1545.5,343.7 1556.7,349.2 1573.4,349.2 1587.4,354.8 1595.8,366.0 1606.9,371.6 1618.1,382.7 1626.5,377.1 1632.0,366.0 1640.4,379.9 1651.6,393.9 1662.7,396.7 1668.3,382.7 1679.5,382.7 1687.8,377.1 1693.4,371.6 1699.0,382.7 1707.4,388.3 1715.7,391.1" fill="none" stroke="#111" stroke-width="5" stroke-linejoin="round"/>
<polyline points="1467.4,315.8 1456.2,329.7 1439.5,343.7 1433.9,352.0 1439.5,360.4 1447.9,366.0 1450.7,382.7 1456.2,396.7 1461.8,410.6 1473.0,405.0 1484.2,399.5 1492.5,410.6 1495.3,421.8 1500.9,432.9 1506.5,441.3 1523.2,446.9 1534.4,449.7 1540.0,446.9 1545.5,455.3 1551.1,466.4 1559.5,477.6 1567.9,488.8 1573.4,499.9 1579.0,513.9 1581.8,520.0" fill="none" stroke="#111" stroke-width="5" stroke-linejoin="round"/>
<polyline points="1506.5,441.3 1506.5,455.3 1495.3,466.4 1478.6,474.8 1461.8,480.4 1445.1,488.8 1433.9,499.9 1417.2,505.5 1406.0,511.1 1394.9,502.7 1383.7,511.1 1367.0,511.1 1355.8,505.5 1344.6,499.9 1333.5,502.7 1322.3,511.1 1316.7,520.0" fill="none" stroke="#111" stroke-width="5" stroke-linejoin="round"/>
<polyline points="105.0,755.0 130.0,750.0 155.0,725.0 215.0,730.0 240.0,745.0 300.0,745.0 350.0,735.0 425.0,735.0 455.0,755.0 500.0,760.0 495.0,745.0 510.0,730.0 500.0,700.0 495.0,660.0 565.0,645.0 565.0,642.0 590.0,585.0 620.0,560.0 650.0,545.0 690.0,515.0 700.0,505.0" fill="none" stroke="#111" stroke-width="5" stroke-linejoin="round"/>
<polyline points="455.0,755.0 452.0,800.0 452.0,852.0 477.0,883.0 527.0,908.0 603.0,923.0 633.0,957.0 667.0,961.0 700.0,929.0" fill="none" stroke="#111" stroke-width="5" stroke-linejoin="round"/>
<polyline points="700.0,929.0 700.0,879.0 713.0,868.0 722.0,866.0 736.0,872.0 745.0,890.0 751.0,904.0 765.0,917.0 778.0,924.0 785.0,917.0 794.0,924.0 807.0,935.0 820.0,930.0 827.0,917.0 834.0,908.0 843.0,901.0 852.0,904.0" fill="none" stroke="#111" stroke-width="5" stroke-linejoin="round"/>
<polyline points="565.0,645.0 585.0,645.0 605.0,655.0 625.0,680.0 680.0,690.0 700.0,683.0" fill="none" stroke="#111" stroke-width="5" stroke-linejoin="round"/>
<polyline points="1103.0,1501.0 1106.0,1481.0 1126.0,1461.0" fill="none" stroke="#111" stroke-width="5" stroke-linejoin="round"/>
<polyline points="850.0,721.8 864.5,726.6 879.1,743.6 886.3,772.6 893.6,792.0 886.3,801.7 879.1,816.2 864.5,825.9 857.3,835.6 859.7,850.1 859.7,869.5 850.0,874.3" fill="none" stroke="#111" stroke-width="5" stroke-linejoin="round"/>
<polyline points="908.1,700.0 910.5,714.5 917.8,724.2 932.3,731.5 942.0,736.3 946.9,743.6 954.1,753.3 961.4,763.0 966.2,777.5 968.6,787.2 971.1,796.9 978.3,806.5 988.0,816.2 997.7,823.5 1005.0,830.8 1009.8,838.0" fill="none" stroke="#111" stroke-width="5" stroke-linejoin="round"/>
<polyline points="942.0,736.3 956.5,733.9 968.6,726.6 980.8,719.4 983.2,700.0" fill="none" stroke="#111" stroke-width="5" stroke-linejoin="round"/>
<polyline points="1005.0,700.0 1009.8,704.8 1024.3,709.7 1038.9,714.5 1048.5,719.4 1060.7,721.8 1072.8,719.4 1082.4,712.1 1084.9,700.0" fill="none" stroke="#111" stroke-width="5" stroke-linejoin="round"/>
<polyline points="1031.6,750.8 1024.3,758.1 1014.6,755.7 1009.8,760.5 1007.4,772.6 1009.8,779.9 1017.1,787.2 1019.5,796.9 1019.5,806.5 1017.1,813.8 1009.8,818.6 1007.4,823.5 1009.8,828.3 1014.6,830.8 1019.5,833.2 1031.6,835.6 1043.7,838.0 1051.0,833.2 1053.4,825.9 1063.1,823.5 1072.8,821.1 1077.6,816.2 1075.2,801.7 1077.6,789.6 1075.2,775.1 1067.9,765.4 1058.2,760.5 1048.5,755.7 1038.9,750.8 1031.6,750.8 1031.6,738.7 1034.0,724.2" fill="none" stroke="#111" stroke-width="5" stroke-linejoin="round"/>
<polyline points="1009.8,838.0 1007.4,850.1 1009.8,859.8 1007.4,869.5 1005.0,884.0 1005.0,891.3 995.3,898.5 990.4,908.2 985.6,915.5 980.8,925.2 971.1,930.0 959.0,932.4 946.9,932.4 937.2,927.6 932.3,917.9 929.9,908.2 922.6,898.5 913.0,888.9 903.3,884.0 896.0,874.3 888.7,869.5 879.1,871.9 869.4,879.2 864.5,893.7 857.3,901.0 850.0,905.8" fill="none" stroke="#111" stroke-width="5" stroke-linejoin="round"/>
<polyline points="980.8,925.2 990.4,930.0 1005.0,932.4 1019.5,937.3 1029.2,942.1 1043.7,947.0 1053.4,951.8 1063.1,956.7 1072.8,956.7 1077.6,961.5 1075.2,971.2 1072.8,980.9 1067.9,990.6 1060.7,1000.2 1053.4,1009.9 1048.5,1014.8 1043.7,1024.5 1038.9,1034.1 1034.0,1043.8 1024.3,1043.8 1014.6,1039.0 1005.0,1034.1 995.3,1031.7 985.6,1031.7 978.3,1036.6 975.9,1043.8 973.5,1053.5 971.1,1063.2 978.3,1072.9 985.6,1077.7 985.6,1100.0" fill="none" stroke="#111" stroke-width="5" stroke-linejoin="round"/>
<polyline points="1077.6,956.7 1087.3,961.5 1099.4,966.3 1111.5,971.2 1116.3,976.0 1128.5,978.5 1135.7,983.3 1138.1,990.6 1135.7,1002.7 1128.5,1009.9 1118.8,1012.3 1106.7,1014.8 1092.1,1019.6 1082.4,1024.5 1077.6,1034.1 1080.0,1043.8 1082.4,1053.5 1089.7,1063.2 1097.0,1068.0 1104.2,1077.7 1106.7,1087.4 1111.5,1100.0" fill="none" stroke="#111" stroke-width="5" stroke-linejoin="round"/>
<polyline points="1116.3,976.0 1116.3,966.3 1118.8,951.8 1116.3,942.1 1121.2,932.4 1130.9,930.0 1130.9,922.8 1121.2,920.3 1116.3,915.5 1113.9,910.7" fill="none" stroke="#111" stroke-width="5" stroke-linejoin="round"/>
<polyline points="1113.9,910.7 1128.5,910.7 1143.0,908.2 1157.5,905.8 1164.8,917.9 1174.5,927.6 1186.6,934.9 1198.7,939.7 1213.2,942.1 1227.7,939.7 1239.8,937.3 1251.9,939.7 1259.2,949.4 1266.5,959.1 1281.0,966.3 1293.1,968.8 1305.2,971.2 1314.9,968.8 1324.6,966.3 1331.8,956.7 1334.3,942.1 1331.8,930.0 1329.4,922.8" fill="none" stroke="#111" stroke-width="5" stroke-linejoin="round"/>
<polyline points="1130.9,700.0 1133.3,714.5 1135.7,729.1 1135.7,748.4 1133.3,767.8 1133.3,787.2 1135.7,806.5 1135.7,825.9 1133.3,845.3 1138.1,859.8 1143.0,874.3 1150.2,888.9 1157.5,905.8" fill="none" stroke="#111" stroke-width="5" stroke-linejoin="round"/>
<polyline points="1133.3,845.3 1147.8,850.1 1159.9,845.3 1174.5,840.4 1184.1,835.6 1191.4,828.3 1203.5,823.5 1213.2,818.6 1227.7,813.8 1237.4,806.5 1239.8,796.9 1239.8,782.3 1237.4,767.8 1237.4,753.3 1239.8,736.3 1242.3,719.4 1242.3,700.0" fill="none" stroke="#111" stroke-width="5" stroke-linejoin="round"/>
<polyline points="1242.3,772.6 1251.9,775.1 1261.6,775.1 1276.2,775.1 1285.8,772.6 1295.5,770.2 1300.4,763.0 1302.8,748.4 1305.2,736.3 1310.0,724.2 1319.7,712.1 1329.4,700.0" fill="none" stroke="#111" stroke-width="5" stroke-linejoin="round"/>
<polyline points="1295.5,770.2 1295.5,782.3 1293.1,796.9 1288.3,811.4 1285.8,821.1 1293.1,830.8 1305.2,835.6 1314.9,835.6 1324.6,835.6 1334.3,830.8 1343.9,825.9 1350.0,821.1" fill="none" stroke="#111" stroke-width="5" stroke-linejoin="round"/>
<polyline points="1314.9,859.8 1310.0,874.3 1305.2,888.9 1300.4,903.4 1305.2,913.1 1314.9,917.9 1319.7,922.8 1329.4,922.8 1334.3,932.4 1339.1,942.1 1350.0,947.0" fill="none" stroke="#111" stroke-width="5" stroke-linejoin="round"/>
<polyline points="1314.9,859.8 1324.6,855.0 1334.3,850.1 1343.9,855.0 1350.0,859.8" fill="none" stroke="#111" stroke-width="5" stroke-linejoin="round"/>
<polyline points="1150.2,1039.0 1164.8,1039.0 1179.3,1041.4 1193.8,1043.8 1208.4,1048.7 1222.9,1053.5 1232.6,1053.5 1242.3,1058.4 1256.8,1048.7 1261.6,1043.8 1271.3,1053.5 1276.2,1068.0 1281.0,1082.6 1285.8,1100.0" fill="none" stroke="#111" stroke-width="5" stroke-linejoin="round"/>
<polyline points="1150.2,1039.0 1152.7,1051.1 1152.7,1068.0 1155.1,1100.0" fill="none" stroke="#111" stroke-width="5" stroke-linejoin="round"/>
<polygon points="1106,1481 1126,1461 1156,1451 1186,1446 1196,1461 1186,1486 1176,1506 1146,1521 1116,1516 1103,1501" fill="none" stroke="#111" stroke-width="4.5" stroke-linejoin="round"/>
<polygon points="1566,1191 1586,1196 1588,1221 1581,1271 1571,1311 1563,1333 1541,1296 1526,1276 1531,1246 1546,1206" fill="#fff" stroke="#111" stroke-width="4.5" stroke-linejoin="round"/>
<line x1="1184" y1="1759" x2="1176" y2="1795" stroke="#cfcae6" stroke-width="30" stroke-linecap="round"/>
<line x1="1184" y1="1759" x2="1176" y2="1795" stroke="#111" stroke-width="4.5" stroke-linecap="round"/>
<line x1="1102" y1="1960" x2="1106" y2="1996" stroke="#cfcae6" stroke-width="30" stroke-linecap="round"/>
<line x1="1102" y1="1960" x2="1106" y2="1996" stroke="#111" stroke-width="4.5" stroke-linecap="round"/>
<line x1="1271" y1="2084" x2="1315" y2="2069" stroke="#cfcae6" stroke-width="30" stroke-linecap="round"/>
<line x1="1271" y1="2084" x2="1315" y2="2069" stroke="#111" stroke-width="4.5" stroke-linecap="round"/>
<line x1="1425" y1="1930" x2="1452" y2="1898" stroke="#cfcae6" stroke-width="30" stroke-linecap="round"/>
<line x1="1425" y1="1930" x2="1452" y2="1898" stroke="#111" stroke-width="4.5" stroke-linecap="round"/>
<line x1="1621" y1="1206" x2="1621" y2="1266" stroke="#cfcae6" stroke-width="30" stroke-linecap="round"/>
<line x1="1621" y1="1206" x2="1621" y2="1266" stroke="#111" stroke-width="4.5" stroke-linecap="round"/>
<line x1="1606" y1="1336" x2="1586" y2="1371" stroke="#cfcae6" stroke-width="30" stroke-linecap="round"/>
<line x1="1606" y1="1336" x2="1586" y2="1371" stroke="#111" stroke-width="4.5" stroke-linecap="round"/>
<line x1="1551" y1="1451" x2="1536" y2="1496" stroke="#cfcae6" stroke-width="30" stroke-linecap="round"/>
<line x1="1551" y1="1451" x2="1536" y2="1496" stroke="#111" stroke-width="4.5" stroke-linecap="round"/>
<line x1="1531" y1="1576" x2="1536" y2="1616" stroke="#cfcae6" stroke-width="30" stroke-linecap="round"/>
<line x1="1531" y1="1576" x2="1536" y2="1616" stroke="#111" stroke-width="4.5" stroke-linecap="round"/>
<line x1="1136" y1="1606" x2="1161" y2="1646" stroke="#cfcae6" stroke-width="30" stroke-linecap="round"/>
<line x1="1136" y1="1606" x2="1161" y2="1646" stroke="#111" stroke-width="4.5" stroke-linecap="round"/>
<line x1="1546" y1="1741" x2="1541" y2="1781" stroke="#cfcae6" stroke-width="30" stroke-linecap="round"/>
<line x1="1546" y1="1741" x2="1541" y2="1781" stroke="#111" stroke-width="4.5" stroke-linecap="round"/>
<g fill="#111"><circle cx="1392.0" cy="1673.7" r="3.2"/><circle cx="1460.4" cy="1745.7" r="3.2"/><circle cx="1368.3" cy="1772.8" r="3.2"/><circle cx="1357.1" cy="1777.0" r="3.2"/><circle cx="1376.7" cy="1786.7" r="3.2"/><circle cx="1385.0" cy="1788.1" r="3.2"/><circle cx="1359.9" cy="1795.1" r="3.2"/><circle cx="1351.6" cy="1795.1" r="3.2"/><circle cx="1365.5" cy="1802.1" r="3.2"/><circle cx="1373.9" cy="1795.1" r="3.2"/><circle cx="1424.1" cy="1792.3" r="3.2"/><circle cx="1435.3" cy="1795.1" r="3.2"/><circle cx="1449.2" cy="1786.7" r="3.2"/><circle cx="1466.0" cy="1786.7" r="3.2"/><circle cx="1485.5" cy="1775.6" r="3.2"/><circle cx="1493.9" cy="1775.6" r="3.2"/><circle cx="1485.5" cy="1789.5" r="3.2"/><circle cx="1474.3" cy="1795.1" r="3.2"/><circle cx="1460.4" cy="1800.7" r="3.2"/><circle cx="1454.8" cy="1807.6" r="3.2"/><circle cx="1418.5" cy="1804.9" r="3.2"/><circle cx="1432.5" cy="1804.9" r="3.2"/><circle cx="1491.1" cy="1810.4" r="3.2"/><circle cx="1393.4" cy="1806.2" r="3.2"/><circle cx="1403.2" cy="1818.8" r="3.2"/><circle cx="1412.9" cy="1830.0" r="3.2"/><circle cx="1429.7" cy="1832.8" r="3.2"/><circle cx="1438.1" cy="1817.4" r="3.2"/><circle cx="1457.6" cy="1828.6" r="3.2"/><circle cx="1446.4" cy="1836.9" r="3.2"/><circle cx="1474.3" cy="1839.7" r="3.2"/><circle cx="1471.5" cy="1828.6" r="3.2"/><circle cx="1329.2" cy="1824.4" r="3.2"/><circle cx="1341.8" cy="1830.0" r="3.2"/><circle cx="1362.7" cy="1817.4" r="3.2"/><circle cx="1368.3" cy="1828.6" r="3.2"/><circle cx="1359.9" cy="1839.7" r="3.2"/><circle cx="1373.9" cy="1834.2" r="3.2"/><circle cx="1379.5" cy="1839.7" r="3.2"/><circle cx="1358.5" cy="1853.7" r="3.2"/><circle cx="1412.9" cy="1849.5" r="3.2"/><circle cx="1432.5" cy="1849.5" r="3.2"/><circle cx="1457.6" cy="1852.3" r="3.2"/><circle cx="1466.0" cy="1856.5" r="3.2"/><circle cx="1450.6" cy="1863.4" r="3.2"/><circle cx="1304.1" cy="1849.5" r="3.2"/><circle cx="1280.4" cy="1857.9" r="3.2"/><circle cx="1245.5" cy="1864.8" r="3.2"/><circle cx="1240.0" cy="1866.2" r="3.2"/><circle cx="1334.8" cy="1862.1" r="3.2"/><circle cx="1336.2" cy="1871.8" r="3.2"/><circle cx="1351.6" cy="1876.0" r="3.2"/><circle cx="1357.1" cy="1878.8" r="3.2"/><circle cx="1379.5" cy="1872.4" r="3.2"/><circle cx="1438.1" cy="1881.6" r="3.2"/><circle cx="1404.6" cy="1887.2" r="3.2"/><circle cx="1418.5" cy="1884.4" r="3.2"/><circle cx="1410.2" cy="1888.6" r="3.2"/><circle cx="1274.8" cy="1880.2" r="3.2"/><circle cx="1290.2" cy="1881.6" r="3.2"/><circle cx="1301.3" cy="1877.4" r="3.2"/><circle cx="1306.9" cy="1894.1" r="3.2"/><circle cx="1242.7" cy="1895.5" r="3.2"/><circle cx="1251.1" cy="1890.0" r="3.2"/><circle cx="1260.9" cy="1891.4" r="3.2"/><circle cx="1262.3" cy="1908.1" r="3.2"/><circle cx="1323.7" cy="1901.1" r="3.2"/><circle cx="1320.9" cy="1906.7" r="3.2"/><circle cx="1351.6" cy="1906.7" r="3.2"/><circle cx="1359.9" cy="1902.5" r="3.2"/><circle cx="1362.7" cy="1913.7" r="3.2"/><circle cx="1373.9" cy="1909.5" r="3.2"/><circle cx="1385.0" cy="1898.3" r="3.2"/><circle cx="1390.6" cy="1903.9" r="3.2"/><circle cx="1415.7" cy="1899.7" r="3.2"/><circle cx="1348.8" cy="1920.6" r="3.2"/><circle cx="1362.7" cy="1917.9" r="3.2"/><circle cx="1385.0" cy="1919.3" r="3.2"/><circle cx="1400.4" cy="1922.0" r="3.2"/><circle cx="1394.8" cy="1934.6" r="3.2"/><circle cx="1246.9" cy="1920.6" r="3.2"/><circle cx="1248.3" cy="1929.0" r="3.2"/><circle cx="1242.7" cy="1931.8" r="3.2"/><circle cx="1306.9" cy="1916.5" r="3.2"/><circle cx="1339.0" cy="1948.5" r="3.2"/><circle cx="1327.8" cy="1972.3" r="3.2"/><circle cx="1175.8" cy="1923.4" r="3.2"/><circle cx="1198.1" cy="1912.3" r="3.2"/><circle cx="1206.5" cy="1917.9" r="3.2"/><circle cx="1200.9" cy="1927.6" r="3.2"/><circle cx="1167.4" cy="1937.4" r="3.2"/><circle cx="1156.2" cy="1943.0" r="3.2"/><circle cx="1150.7" cy="1945.8" r="3.2"/><circle cx="1295.8" cy="1990.4" r="3.2"/><circle cx="1293.0" cy="2001.6" r="3.2"/><circle cx="1298.5" cy="2007.1" r="3.2"/><circle cx="1301.3" cy="2023.9" r="3.2"/><circle cx="1315.3" cy="2022.5" r="3.2"/><circle cx="1279.0" cy="2068.5" r="3.2"/><circle cx="1290.2" cy="2062.9" r="3.2"/><circle cx="1362.7" cy="1806.2" r="5"/><circle cx="1365.5" cy="1823.0" r="5"/><circle cx="1362.7" cy="1834.2" r="5"/><circle cx="1485.5" cy="1790.9" r="5"/><circle cx="1457.6" cy="1802.1" r="5"/><circle cx="1359.9" cy="1912.3" r="5"/><circle cx="1365.5" cy="1909.5" r="5"/><circle cx="1295.8" cy="1998.8" r="5"/><circle cx="1299.9" cy="2012.7" r="5"/><circle cx="1161.8" cy="1940.2" r="5"/><circle cx="1167.4" cy="1936.0" r="5"/><circle cx="1200.9" cy="1915.1" r="5"/><circle cx="1383" cy="1391" r="4"/><circle cx="1418" cy="1402" r="6"/><circle cx="1273" cy="1463" r="3"/><circle cx="1308" cy="1473" r="3"/><circle cx="1221" cy="1563" r="3"/><circle cx="1253" cy="1568" r="3.5"/><circle cx="1278" cy="1571" r="2.5"/><circle cx="1226" cy="1588" r="4"/><circle cx="1241" cy="1591" r="3.5"/><circle cx="1266" cy="1583" r="3"/><circle cx="1231" cy="1598" r="4"/><circle cx="1266" cy="1598" r="3"/><circle cx="1256" cy="1616" r="2"/><circle cx="1211" cy="1616" r="2"/><circle cx="1271" cy="1578" r="2.5"/><circle cx="1435" cy="1574" r="3"/><circle cx="1483" cy="1614" r="5"/><circle cx="1391" cy="1673" r="3"/><circle cx="1460" cy="1741" r="2"/><circle cx="1501" cy="1270" r="4"/><circle cx="1508" cy="1280" r="5"/><circle cx="1503" cy="1290" r="3"/><circle cx="1586" cy="1296" r="3"/><circle cx="1593" cy="1321" r="3"/><circle cx="1641" cy="1158" r="3"/><circle cx="1676" cy="1146" r="3"/><circle cx="1605" cy="1185" r="2.5"/><circle cx="1613" cy="1178" r="2"/><circle cx="1568.0" cy="1035.7" r="4.4"/><circle cx="1555.2" cy="976.0" r="4.7"/><circle cx="1548.2" cy="1028.1" r="4.5"/><circle cx="1563.0" cy="976.3" r="3.2"/><circle cx="1556.2" cy="990.5" r="3.8"/><circle cx="1565.7" cy="1045.6" r="4.5"/><circle cx="1567.9" cy="1044.9" r="3.0"/><circle cx="1553.1" cy="1007.3" r="2.6"/><circle cx="1549.1" cy="997.5" r="3.7"/><circle cx="1577.3" cy="1008.9" r="3.8"/><circle cx="1563.9" cy="970.8" r="2.5"/><circle cx="1554.2" cy="1015.2" r="3.0"/><circle cx="1559.8" cy="946.4" r="4.6"/><circle cx="1552.9" cy="972.8" r="4.7"/><circle cx="1564.3" cy="1030.7" r="4.1"/><circle cx="1571.7" cy="955.1" r="3.9"/><circle cx="1564.2" cy="1033.1" r="3.4"/><circle cx="1567.1" cy="951.9" r="3.5"/><circle cx="1558.3" cy="961.0" r="4.5"/><circle cx="1560.1" cy="1043.9" r="4.0"/><circle cx="1567.4" cy="1009.8" r="4.2"/><circle cx="1552.8" cy="990.0" r="3.1"/><circle cx="1560.9" cy="955.7" r="4.9"/><circle cx="1554.9" cy="1013.2" r="3.3"/><circle cx="1576.0" cy="1012.2" r="2.8"/><circle cx="1575.0" cy="1040.5" r="4.8"/><circle cx="1555.7" cy="1008.7" r="3.0"/><circle cx="1564.3" cy="1033.1" r="3.0"/><circle cx="1563.2" cy="1038.5" r="3.9"/><circle cx="1551.0" cy="1024.7" r="3.1"/><circle cx="1542.9" cy="1052.6" r="3.7"/><circle cx="1555.1" cy="1019.3" r="4.4"/><circle cx="1542.6" cy="1022.3" r="2.6"/><circle cx="1544.9" cy="1058.0" r="4.1"/><circle cx="1552.3" cy="1031.4" r="4.7"/><circle cx="1550.3" cy="1035.4" r="4.2"/><circle cx="1498.5" cy="1174.4" r="4.4"/><circle cx="1510.1" cy="1147.2" r="4.8"/><circle cx="1491.1" cy="1191.7" r="4.5"/><circle cx="1493.9" cy="1167.0" r="4.5"/><circle cx="1491.3" cy="1182.5" r="4.5"/><circle cx="1501.8" cy="1189.7" r="3.1"/><circle cx="1495.2" cy="1162.9" r="2.9"/><circle cx="1498.3" cy="1206.2" r="3.9"/><circle cx="1498.1" cy="1156.1" r="4.9"/><circle cx="1500.3" cy="1208.5" r="3.8"/><circle cx="1501.9" cy="1202.3" r="4.4"/><circle cx="1503.2" cy="1167.6" r="4.7"/><circle cx="1499.6" cy="1204.3" r="2.7"/><circle cx="1500.0" cy="1174.4" r="4.9"/><circle cx="1496.3" cy="1195.6" r="4.2"/><circle cx="1506.1" cy="1182.6" r="4.9"/><circle cx="1498.0" cy="1165.5" r="3.0"/><circle cx="1492.1" cy="1151.8" r="4.8"/><circle cx="1486.8" cy="1217.8" r="4.0"/><circle cx="1479.6" cy="1229.9" r="4.1"/><circle cx="1476.1" cy="1239.0" r="3.7"/><circle cx="1482.6" cy="1230.9" r="3.0"/><circle cx="1471.2" cy="1225.3" r="4.4"/><circle cx="1486.3" cy="1233.2" r="2.8"/><circle cx="1458.3" cy="1258.6" r="4.7"/><circle cx="1450.5" cy="1260.6" r="2.6"/><circle cx="1440.6" cy="1245.3" r="3.1"/><circle cx="1445.0" cy="1248.2" r="3.9"/><circle cx="1440.8" cy="1255.0" r="2.9"/><circle cx="1311.7" cy="1330.7" r="3.3"/><circle cx="1320.0" cy="1347.2" r="4.5"/><circle cx="1311.1" cy="1349.5" r="3.0"/><circle cx="1308.4" cy="1331.3" r="4.5"/><circle cx="1320.7" cy="1357.3" r="2.6"/><circle cx="1300.8" cy="1340.2" r="2.8"/><circle cx="1310.1" cy="1355.5" r="3.3"/><circle cx="1317.6" cy="1355.5" r="2.8"/><circle cx="1314.5" cy="1358.2" r="3.0"/><circle cx="1308.4" cy="1350.4" r="4.0"/><circle cx="1293.1" cy="1351.2" r="4.1"/><circle cx="1316.4" cy="1355.7" r="3.3"/><circle cx="1313.1" cy="1357.8" r="4.7"/><circle cx="1295.2" cy="1330.9" r="4.1"/><circle cx="1244.7" cy="1363.5" r="4.9"/><circle cx="1248.3" cy="1358.8" r="3.6"/><circle cx="1254.5" cy="1356.5" r="3.5"/><circle cx="1242.9" cy="1364.9" r="4.6"/><circle cx="1248.3" cy="1360.6" r="3.8"/><circle cx="1163.2" cy="1414.9" r="3.3"/><circle cx="1166.9" cy="1411.6" r="4.4"/><circle cx="1168.7" cy="1416.0" r="2.7"/><circle cx="1171.4" cy="1412.6" r="2.8"/></g>
<ellipse cx="1341" cy="1598" rx="25" ry="9" transform="rotate(-20 1341 1598)" fill="none" stroke="#111" stroke-width="3.5"/>
<g transform="translate(1801,-14)">
<clipPath id="clipB"><polygon points="70,896 60,850 65,825 85,815 85,780 100,755 85,740 80,705 55,690 30,665 20,615 8,600 5,570 0,535 2,510 10,480 45,472 80,485 100,470 150,460 215,455 220,440 245,410 240,335 315,342 315,320 350,265 415,285 425,235 470,210 495,212 500,240 530,265 550,280 565,320 550,365 550,385 570,395 600,400 675,440 680,470 700,505 725,507 800,515 850,521 865,533 887,539 911,546 942,555 960,564 979,552 1010,539 1040,527 1080,521 1111,512 1126,496 1142,484 1160,469 1154,453 1145,438 1151,420 1169,417 1188,423 1209,417 1218,407 1234,392 1249,389 1270,374 1280,361 1289,349 1304,340 1326,331 1347,325 1372,328 1378,315 1370,304 1357,292 1336,282 1318,279 1296,295 1275,295 1253,279 1253,270 1256,245 1262,215 1271,206 1296,203 1321,190 1336,175 1342,153 1351,123 1357,98 1351,83 1351,68 1367,58 1382,49 1403,37 1434,31 1465,34 1483,40 1502,58 1517,83 1532,110 1545,129 1557,147 1572,160 1603,166 1634,178 1652,178 1661,196 1674,215 1695,215 1713,203 1729,184 1753,169 1772,160 1769,184 1766,215 1763,261 1756,292 1753,310 1729,313 1710,322 1704,335 1717,353 1723,378 1726,399 1720,417 1713,430 1695,433 1686,442 1674,454 1658,460 1646,473 1634,479 1618,485 1603,497 1591,519 1575,531 1566,549 1550,583 1523,590 1514,601 1496,612 1485,624 1470,639 1465,633 1470,617 1467,608 1470,595 1481,588 1485,579 1483,563 1474,557 1456,557 1445,568 1441,579 1425,592 1412,599 1405,612 1403,624 1394,633 1378,644 1362,646 1356,659 1360,670 1367,679 1394,682 1405,688 1407,706 1416,720 1429,717 1438,702 1452,688 1461,684 1479,688 1501,688 1523,691 1521,711 1510,711 1490,720 1472,731 1461,746 1456,758 1452,769 1443,780 1434,793 1429,807 1434,816 1447,827 1465,833 1479,858 1492,885 1501,898 1514,907 1528,916 1539,925 1546,934 1546,947 1566,966 1556,996 1551,1026 1541,1061 1526,1096 1511,1121 1496,1146 1501,1176 1491,1206 1471,1226 1451,1241 1426,1266 1406,1291 1371,1311 1331,1326 1296,1336 1276,1346 1246,1361 1221,1371 1196,1381 1176,1391 1156,1396 1166,1416 1171,1436 1161,1441 1146,1436 1141,1411 1136,1391 1106,1391 1081,1391 1069,1389 1045,1382 1029,1369 1018,1342 1002,1329 975,1319 952,1329 918,1336 885,1342 851,1349 834,1362 834,1386 814,1399 781,1393 767,1369 747,1356 741,1329 734,1302 720,1282 700,1285 677,1282 680,1255 697,1232 710,1218 727,1202 731,1168 727,1135 714,1118 694,1101 667,1128 633,1105 600,1115 575,1126 550,1146 500,1146 485,1116 470,1101 450,1086 420,1081 395,1086 380,1116 370,1096 350,1086 310,1081 280,1066 250,1046 230,1016 210,996 190,976 170,951 140,946 120,936 100,916 80,896"/><polygon points="1106,1481 1126,1461 1156,1451 1186,1446 1196,1461 1186,1486 1176,1506 1146,1521 1116,1516 1103,1501"/><polygon points="1566,1191 1586,1196 1588,1221 1581,1271 1571,1311 1563,1333 1541,1296 1526,1276 1531,1246 1546,1206"/></clipPath>
<polygon points="70,896 60,850 65,825 85,815 85,780 100,755 85,740 80,705 55,690 30,665 20,615 8,600 5,570 0,535 2,510 10,480 45,472 80,485 100,470 150,460 215,455 220,440 245,410 240,335 315,342 315,320 350,265 415,285 425,235 470,210 495,212 500,240 530,265 550,280 565,320 550,365 550,385 570,395 600,400 675,440 680,470 700,505 725,507 800,515 850,521 865,533 887,539 911,546 942,555 960,564 979,552 1010,539 1040,527 1080,521 1111,512 1126,496 1142,484 1160,469 1154,453 1145,438 1151,420 1169,417 1188,423 1209,417 1218,407 1234,392 1249,389 1270,374 1280,361 1289,349 1304,340 1326,331 1347,325 1372,328 1378,315 1370,304 1357,292 1336,282 1318,279 1296,295 1275,295 1253,279 1253,270 1256,245 1262,215 1271,206 1296,203 1321,190 1336,175 1342,153 1351,123 1357,98 1351,83 1351,68 1367,58 1382,49 1403,37 1434,31 1465,34 1483,40 1502,58 1517,83 1532,110 1545,129 1557,147 1572,160 1603,166 1634,178 1652,178 1661,196 1674,215 1695,215 1713,203 1729,184 1753,169 1772,160 1769,184 1766,215 1763,261 1756,292 1753,310 1729,313 1710,322 1704,335 1717,353 1723,378 1726,399 1720,417 1713,430 1695,433 1686,442 1674,454 1658,460 1646,473 1634,479 1618,485 1603,497 1591,519 1575,531 1566,549 1550,583 1523,590 1514,601 1496,612 1485,624 1470,639 1465,633 1470,617 1467,608 1470,595 1481,588 1485,579 1483,563 1474,557 1456,557 1445,568 1441,579 1425,592 1412,599 1405,612 1403,624 1394,633 1378,644 1362,646 1356,659 1360,670 1367,679 1394,682 1405,688 1407,706 1416,720 1429,717 1438,702 1452,688 1461,684 1479,688 1501,688 1523,691 1521,711 1510,711 1490,720 1472,731 1461,746 1456,758 1452,769 1443,780 1434,793 1429,807 1434,816 1447,827 1465,833 1479,858 1492,885 1501,898 1514,907 1528,916 1539,925 1546,934 1546,947 1566,966 1556,996 1551,1026 1541,1061 1526,1096 1511,1121 1496,1146 1501,1176 1491,1206 1471,1226 1451,1241 1426,1266 1406,1291 1371,1311 1331,1326 1296,1336 1276,1346 1246,1361 1221,1371 1196,1381 1176,1391 1156,1396 1166,1416 1171,1436 1161,1441 1146,1436 1141,1411 1136,1391 1106,1391 1081,1391 1069,1389 1045,1382 1029,1369 1018,1342 1002,1329 975,1319 952,1329 918,1336 885,1342 851,1349 834,1362 834,1386 814,1399 781,1393 767,1369 747,1356 741,1329 734,1302 720,1282 700,1285 677,1282 680,1255 697,1232 710,1218 727,1202 731,1168 727,1135 714,1118 694,1101 667,1128 633,1105 600,1115 575,1126 550,1146 500,1146 485,1116 470,1101 450,1086 420,1081 395,1086 380,1116 370,1096 350,1086 310,1081 280,1066 250,1046 230,1016 210,996 190,976 170,951 140,946 120,936 100,916 80,896" fill="#F5F5F0"/>
<g clip-path="url(#clipB)">
<polygon points="430,1040 510,1040 520,1010 568,1008 608,968 610,935 640,960 700,927 741,977 747,1034 747,1078 734,1088 727,1115 714,1118 694,1101 667,1128 633,1105 600,1115 575,1126 550,1146 500,1146 485,1116 470,1101 450,1086 430,1086" fill="#D62D26"/>
<polygon points="554.4,404.9 611.5,409.3 673.0,435.7 690.5,514.7 646.6,541.1 611.5,567.4 576.3,541.1 558.8,479.6" fill="#EB7852"/>
<polygon points="427.0,426.9 470.9,426.9 506.1,435.7 554.4,435.7 558.8,479.6 576.3,541.1 550.0,549.9 506.1,541.1 470.9,541.1 453.4,505.9 435.8,470.8" fill="#F5F5F0"/>
<polygon points="599.0,523.8 652.3,518.5 694.9,513.2 726.8,523.8 737.5,555.8 758.8,598.4 801.4,598.4 812.1,619.7 790.8,635.7 758.8,635.7 726.8,646.3 705.5,667.6 684.2,688.9 652.3,683.6 631.0,673.0 599.0,662.3" fill="#F7B885"/>
<polygon points="585.1,585.0 620.3,558.6 646.6,541.1 646.6,664.1 620.3,646.5 585.1,637.7" fill="#F7B885"/>
<polygon points="726.8,635.7 758.8,630.3 790.8,641.0 822.7,667.6 849.4,694.3 865.3,715.6 876.0,736.9 886.7,768.8 886.7,800.8 870.7,811.5 854.7,790.2 844.0,752.9 833.4,731.6 812.1,710.2 780.1,688.9 748.2,667.6 726.8,651.7" fill="#D62D26"/>
<polygon points="865.3,667.6 897.3,662.3 929.3,657.0 934.6,673.0 918.6,694.3 908.0,715.6 897.3,736.9 908.0,758.2 929.3,784.8 950.6,811.5 971.9,832.8 982.5,859.4 961.2,875.4 939.9,864.7 923.9,843.4 908.0,816.8 897.3,790.2 886.7,768.8 876.0,736.9 865.3,704.9 860.0,683.6" fill="#F7B885"/>
<polygon points="828.1,742.2 854.7,736.9 865.3,758.2 870.7,790.2 860.0,806.1 844.0,790.2 833.4,768.8" fill="#EB7852"/>
<polygon points="854.7,736.9 865.3,758.2 870.7,790.2 862.7,803.5 854.7,779.5" fill="#D62D26"/>
<polygon points="854.7,1008.6 886.7,987.2 918.6,981.9 950.6,1003.2 982.5,1024.5 1014.5,1019.2 1057.1,997.9 1078.4,960.6 1110.4,971.3 1137.0,997.9 1131.7,1013.9 1110.4,1035.2 1099.7,1056.5 1105.1,1088.5 1110.4,1109.8 1110.4,1141.7 1121.0,1163.0 1131.7,1195.0 1121.0,1216.3 1099.7,1237.6 1067.8,1227.0 1041.1,1216.3 1025.2,1205.6 1003.8,1195.0 982.5,1227.0 961.2,1248.3 945.2,1269.6 929.3,1301.5 897.3,1317.5 865.3,1317.5 849.4,1280.2 844.0,1248.3 854.7,1216.3 865.3,1195.0 854.7,1163.0 833.4,1152.4 812.1,1147.1 790.8,1173.7 764.1,1152.4 758.8,1136.4 780.1,1131.1 801.4,1131.1 833.4,1109.8 865.3,1099.1 881.3,1077.8 897.3,1056.5 876.0,1035.2 854.7,1035.2" fill="#D62D26"/>
<polygon points="918.6,928.6 950.6,923.3 982.5,934.0 1014.5,944.6 1025.2,981.9 1014.5,1019.2 982.5,1024.5 950.6,1003.2 923.9,981.9" fill="#EB7852"/>
<polygon points="1025.2,960.6 1057.1,955.3 1078.4,965.9 1067.8,1003.2 1035.8,1019.2 1019.8,992.6" fill="#F7B885"/>
<polygon points="1126.4,1072.5 1158.3,1067.1 1174.3,1088.5 1169.0,1120.4 1185.0,1141.7 1163.6,1163.0 1142.3,1184.3 1121.0,1195.0 1105.1,1163.0 1099.7,1131.1 1110.4,1099.1" fill="#D62D26"/>
<polygon points="1131.7,1056.5 1163.6,1045.8 1195.6,1045.8 1227.6,1056.5 1238.2,1088.5 1248.9,1120.4 1227.6,1131.1 1195.6,1120.4 1174.3,1109.8 1163.6,1077.8" fill="#F7B885"/>
<polygon points="1174.3,1104.4 1206.3,1099.1 1248.9,1109.8 1248.9,1131.1 1216.9,1133.7 1185.0,1125.7" fill="#EB7852"/>
<polygon points="1131.7,1051.2 1158.3,1045.8 1169.0,1072.5 1153.0,1083.1 1134.4,1072.5" fill="#EB7852"/>
<polygon points="1025.2,1237.6 1057.1,1227.0 1089.1,1237.6 1110.4,1258.9 1099.7,1290.9 1067.8,1312.2 1035.8,1301.5 1025.2,1269.6" fill="#D62D26"/>
<polygon points="1099.7,1216.3 1131.7,1200.3 1163.6,1195.0 1190.3,1205.6 1185.0,1258.9 1163.6,1290.9 1131.7,1317.5 1099.7,1306.9 1105.1,1269.6" fill="#EB7852"/>
<polygon points="1131.7,1205.6 1163.6,1197.7 1187.6,1211.0 1182.3,1253.6 1153.0,1258.9 1137.0,1237.6" fill="#F7B885"/>
<polygon points="710.9,1237.6 737.5,1227.0 769.5,1237.6 801.4,1258.9 833.4,1269.6 854.7,1301.5 849.4,1317.5 716.2,1317.5" fill="#D62D26"/>
<polygon points="758.8,1136.4 780.1,1131.1 812.1,1152.4 833.4,1163.0 849.4,1195.0 822.7,1205.6 790.8,1184.3 764.1,1163.0" fill="#D62D26"/>
<polygon points="708.1,1226.3 752.0,1226.3 787.2,1252.6 822.3,1270.2 848.7,1296.5 848.7,1331.7 822.3,1349.2 778.4,1340.5 752.0,1322.9 725.7,1287.8 708.1,1252.6" fill="#D62D26"/>
<polygon points="1232.9,539.8 1259.5,529.1 1291.5,513.2 1323.5,507.8 1355.4,523.8 1382.1,555.8 1366.1,587.7 1334.1,577.1 1307.5,571.7 1286.2,587.7 1264.9,609.0 1243.6,614.4 1232.9,587.7" fill="#C1CDBF"/>
<polygon points="1387.4,523.8 1430.0,507.8 1472.6,502.5 1515.2,513.2 1557.8,523.8 1584.5,539.8 1568.5,566.4 1536.5,582.4 1504.6,577.1 1472.6,582.4 1430.0,555.8 1398.0,545.1" fill="#C1CDBF"/>
<polygon points="1557.8,449.2 1589.8,438.6 1632.4,454.6 1653.7,486.5 1621.8,502.5 1584.5,497.2 1563.2,481.2" fill="#C1CDBF"/>
<polygon points="1046.5,747.5 1078.4,736.9 1110.4,731.6 1137.0,747.5 1137.0,806.1 1110.4,811.5 1078.4,795.5 1051.8,779.5" fill="#C1CDBF"/>
<polygon points="1243.6,976.6 1270.2,971.3 1307.5,987.2 1344.8,1013.9 1371.4,1035.2 1355.4,1067.1 1312.8,1072.5 1280.8,1056.5 1248.9,1024.5" fill="#C1CDBF"/>
<polygon points="1440.6,992.6 1472.6,965.9 1504.6,971.3 1536.5,987.2 1536.5,1035.2 1504.6,1061.8 1462.0,1067.1 1446.0,1035.2" fill="#C1CDBF"/>
<polygon points="1137.0,662.3 1163.6,651.7 1185.0,619.7 1216.9,609.0 1238.2,614.4 1248.9,641.0 1286.2,630.3 1307.5,609.0 1334.1,614.4 1344.8,646.3 1366.1,673.0 1382.1,683.6 1419.3,683.6 1430.0,710.2 1451.3,704.9 1462.0,731.6 1451.3,752.9 1430.0,790.2 1451.3,811.5 1477.9,843.4 1504.6,886.0 1525.9,918.0 1547.2,950.0 1515.2,955.3 1472.6,955.3 1451.3,965.9 1430.0,1008.6 1398.0,1029.9 1344.8,1024.5 1328.8,981.9 1291.5,950.0 1259.5,939.3 1238.2,934.0 1185.0,923.3 1163.6,896.7 1137.0,843.4" fill="#4575B8"/>
<polygon points="1350.1,593.1 1376.7,587.7 1392.7,614.4 1382.1,641.0 1355.4,635.7" fill="#4575B8"/>
<polygon points="1174.3,619.7 1200.9,603.7 1238.2,609.0 1251.5,630.3 1248.9,657.0 1211.6,657.0 1179.6,646.3" fill="#849FC2"/>
<polygon points="1286.2,587.7 1312.8,571.7 1334.1,582.4 1355.4,603.7 1355.4,641.0 1334.1,646.3 1312.8,619.7 1291.5,614.4" fill="#849FC2"/>
<polygon points="1387.4,566.4 1419.3,555.8 1430.0,577.1 1414.0,609.0 1392.7,603.7" fill="#849FC2"/>
<polygon points="1472.6,587.7 1504.6,582.4 1515.2,598.4 1493.9,619.7 1472.6,614.4" fill="#849FC2"/>
<polygon points="1430.0,694.3 1472.6,683.6 1515.2,694.3 1520.5,710.2 1493.9,731.6 1451.3,736.9" fill="#849FC2"/>
<polygon points="1094.4,827.4 1131.7,811.5 1137.0,843.4 1126.4,870.1 1099.7,864.7" fill="#849FC2"/>
<polygon points="1206.3,864.7 1238.2,859.4 1270.2,870.1 1291.5,896.7 1286.2,934.0 1259.5,939.3 1232.9,923.3 1211.6,896.7" fill="#849FC2"/>
<polygon points="1286.2,960.6 1323.5,965.9 1334.1,1003.2 1312.8,1029.9 1291.5,1013.9" fill="#849FC2"/>
<polygon points="1371.4,987.2 1408.7,981.9 1430.0,1003.2 1408.7,1035.2 1382.1,1029.9" fill="#849FC2"/>
<polygon points="1477.9,896.7 1515.2,902.0 1536.5,928.6 1547.2,960.6 1515.2,965.9 1483.3,950.0" fill="#849FC2"/>
<polygon points="1586.6,172.1 1630.5,180.9 1639.3,242.4 1612.9,277.5 1591.0,260.0" fill="#C1CDBF"/>
<polygon points="105,755 100,755 85,740 80,705 55,690 30,665 20,615 8,600 5,570 0,535 2,510 10,480 45,472 80,485 100,470 150,460 215,455 220,440 245,410 240,335 315,342 315,320 350,265 415,285 425,235 470,210 495,212 500,240 530,265 550,280 565,320 550,365 550,385 570,395 600,400 675,440 680,470 700,505 690,515 650,545 620,560 590,585 565,642 495,660 500,700 510,730 495,745 500,760 455,755 425,735 350,735 300,745 240,745 215,730 155,725 130,750" fill="#ffffff"/>
<polygon points="495,660 565,645 585,645 605,655 625,680 680,690 700,684 705.6,681.6 705.6,667.6 711,656.5 722.3,659 733.5,664.8 747.4,667.6 758.6,664.8 781,673 795,681.6 803,690 817,695.5 839.5,706.7 862,720.6 878.6,740 890,765 892.5,785 890,793 876,813 859,824 859,846 862,863 850.7,868.5 834,866 820,868.5 823,885 831,896 845,902 852,904 843,901 834,908 827,917 820,930 807,935 794,924 785,917 778,924 765,917 751,904 745,890 736,872 722,866 713,868 700,879 700,929 667,961 633,957 603,923 527,908 477,883 452,852 452,800 455,755 500,760 495,745 510,730 500,700" fill="#ffffff"/>
<polygon points="105,755 130,750 155,725 215,730 240,745 300,745 350,735 346,737 342,752 326,802 321,857 291,878 281,903 256,908 236,898 201,903 171,943 150,930 140,946 120,936 100,916 80,896 70,896 60,850 65,825 85,815 85,780 100,755" fill="#ffffff"/>
<polygon points="250,930 262,915 285,905 295,915 290,945 282,985 262,990 252,975 248,950" fill="#ffffff"/>
<polygon points="921.4,927.2 924.7,947.3 918.0,967.4 921.4,987.5 901.3,1000.9 891.3,1014.3 881.2,1010.9 867.8,1027.7 864.5,1054.4 854.4,1071.2 861.1,1081.2 874.5,1081.2 887.9,1087.9 894.6,1101.3 908.0,1114.7 901.3,1128.1 891.3,1148.2 884.6,1168.3 881.2,1198.4 854.4,1208.4 834.3,1201.7 817.6,1161.6 800.9,1131.4 780.8,1114.7 767.4,1091.3 747.3,1087.9 747.3,1034.3 744.0,984.1 733.9,974.1 720.5,940.6 700.4,930.6 700.4,877.0 717.2,867.0 733.9,870.3 750.7,910.5 777.4,927.2 800.9,937.3 824.3,927.2 834.3,900.4 821.0,867.0 834.3,863.6 854.4,873.7 867.8,880.3 887.9,870.3 901.3,887.0 921.4,900.4" fill="#ffffff"/>
<polygon points="733.9,1134.8 750.7,1131.4 757.3,1148.2 760.7,1168.3 780.8,1185.0 794.2,1195.0 800.9,1208.4 814.3,1201.7 834.3,1201.7 854.4,1208.4 861.1,1221.8 861.1,1252.0 854.4,1268.7 841.0,1275.4 821.0,1268.7 800.9,1262.0 774.1,1241.9 754.0,1228.5 740.6,1215.1 733.9,1185.0" fill="#ffffff"/>
<polygon points="841.0,1288.8 867.8,1278.7 887.9,1275.4 914.7,1272.0 941.5,1275.4 961.6,1282.1 968.3,1292.1 985.0,1302.2 995.0,1312.2 975.0,1322.3 934.8,1335.7 901.3,1342.4 867.8,1349.0 847.7,1352.4 841.0,1329.0" fill="#ffffff"/>
<polygon points="1008.4,1178.3 1035.2,1161.6 1062.0,1154.9 1085.4,1154.9 1102.2,1161.6 1118.9,1175.0 1118.9,1201.7 1102.2,1215.1 1075.4,1221.8 1052.0,1228.5 1028.5,1235.2 1008.4,1228.5 1001.7,1208.4" fill="#ffffff"/>
<polygon points="948.2,1215.1 968.3,1208.4 985.0,1221.8 1001.7,1235.2 1008.4,1248.6 995.0,1262.0 968.3,1268.7 948.2,1265.3 944.8,1241.9" fill="#ffffff"/>
<polygon points="1082.1,974.1 1108.9,967.4 1135.7,970.7 1145.7,987.5 1142.4,1014.3 1122.3,1034.3 1102.2,1041.0 1088.8,1034.3 1082.1,1017.6 1085.4,1000.9" fill="#ffffff"/>
<polygon points="1112.2,1061.1 1135.7,1057.8 1149.0,1067.8 1145.7,1101.3 1135.7,1121.4 1122.3,1134.8 1112.2,1121.4 1108.9,1087.9" fill="#ffffff"/>
<polygon points="677.0,1228.5 700.4,1231.9 713.8,1245.3 710.5,1268.7 700.4,1288.8 680.3,1288.8" fill="#ffffff"/>
<polygon points="1226,1006 1245,1002 1261,1010 1261,1031 1240,1035 1226,1028" fill="#ffffff"/>
<polygon points="1382,58 1376,80 1397,83 1416,89 1425,117 1440,123 1465,117 1483,101 1508,120 1530,123 1545,129 1532,110 1517,83 1502,58 1483,40 1465,34 1434,31 1403,37" fill="#ffffff"/>
<polygon points="1370,300 1400,298 1440,288 1459,301 1465,320 1434,344 1446,362 1456,393 1460,411 1440,398 1410,380 1380,370 1340,368 1300,372 1281,368 1296,356 1308,344 1324,331 1342,325 1367,325 1376,319" fill="#ffffff"/>
<polygon points="811,600 830,560 850,521 865,533 887,539 911,546 942,555 960,564 965,580 963,600 950,620 932,640 923,655 900,660 860,667 842,680 825,655 811,647 798,638 787,631" fill="#ffffff"/>
<polygon points="728,511 800,515 850,521 865,533 887,539 911,546 942,555 960,564 966,567 979,595 997,610 1016,625 1010,660 994,667 980,660 960,650 932,645 923,655 900,660 860,667 842,680 825,655 811,647 798,638 787,631 755,600 742,556" fill="#ffffff"/>
<polygon points="1145,438 1151,420 1169,417 1188,423 1209,417 1218,407 1234,392 1249,389 1270,374 1281,368 1300,372 1300,470 1295,530 1250,532 1218,515 1181,505 1160,490 1160,469 1154,453" fill="#ffffff"/>
<polygon points="1626,375 1640,372 1665,395 1680,381 1692,374 1701,384 1716,390 1723,378 1726,399 1720,417 1713,430 1695,433 1686,442 1674,454 1658,460 1640,440 1628,410" fill="#ffffff"/>
<polygon points="1225.3,1003.2 1250.4,1000.4 1264.4,1017.2 1261.6,1031.1 1242.1,1031.1 1225.3,1025.6" fill="#ffffff"/>
<polygon points="908.1,700.0 983.2,700.0 980.8,719.4 968.6,726.6 956.5,733.9 942.0,736.3 932.3,731.5 917.8,724.2 910.5,714.5" fill="#ffffff"/>
<polygon points="886.3,792.0 898.4,792.0 910.5,801.7 917.8,821.1 920.2,845.3 925.1,869.5 932.3,888.9 942.0,908.2 937.2,927.6 929.9,908.2 922.6,898.5 913.0,888.9 903.3,884.0 896.0,874.3 888.7,869.5 879.1,871.9 869.4,879.2 864.5,893.7 857.3,901.0 850.0,905.8 850.0,874.3 859.7,869.5 859.7,850.1 857.3,835.6 864.5,825.9 879.1,816.2 886.3,801.7" fill="#ffffff"/>
<polygon points="1135.7,968.8 1145.4,966.3 1152.7,973.6 1150.2,1002.7 1147.8,1026.9 1152.7,1043.8 1140.6,1043.8 1135.7,1026.9 1138.1,1002.7" fill="#ffffff"/>
<polygon points="1082.4,1024.5 1092.1,1019.6 1106.7,1014.8 1118.8,1012.3 1128.5,1009.9 1135.7,1014.8 1140.6,1043.8 1152.7,1053.5 1150.2,1068.0 1140.6,1077.7 1128.5,1087.4 1116.3,1100.0 1106.7,1087.4 1104.2,1077.7 1097.0,1068.0 1089.7,1063.2 1082.4,1053.5 1080.0,1043.8 1077.6,1034.1" fill="#ffffff"/>
<polygon points="1193.8,823.5 1205.9,821.1 1213.2,828.3 1208.4,833.2 1196.2,833.2" fill="#ffffff"/>
<polygon points="1225.3,1005.1 1237.4,1000.2 1254.4,1002.7 1264.0,1019.6 1256.8,1031.7 1237.4,1031.7 1225.3,1022.0" fill="#ffffff"/>
<polygon points="554.4,404.9 611.5,409.3 673.0,435.7 690.5,514.7 646.6,541.1 611.5,567.4 576.3,541.1 558.8,479.6" fill="#EB7852"/>
<polygon points="427.0,426.9 470.9,426.9 506.1,435.7 554.4,435.7 558.8,479.6 576.3,541.1 550.0,549.9 506.1,541.1 470.9,541.1 453.4,505.9 435.8,470.8" fill="#F5F5F0"/>
<path d="M446,813 L428,865M446,813 L406,738M428,865 L324,855M362,1007 L378,1105M362,1007 L426,981M426,981 L483,1017M483,1017 L474,1101M428,865 L443,893M443,893 L426,981M305,872 L299,989M299,989 L362,1007M550,1142 L489,1118M588,1117 L598,1077M598,1077 L540,1007M540,1007 L483,1017M540,1007 L582,936M443,893 L495,895M569,919 L582,936M449,812 L446,813M1587,166 L1598,179M1616,174 L1598,179M669,464 L595,458M669,464 L670,445M595,458 L578,435M578,435 L583,406M568,642 L634,622M634,622 L649,636M655,682 L649,636M676,470 L681,502M676,470 L677,470M681,502 L737,551M669,464 L676,470M595,458 L554,534M554,534 L592,562M608,574 L626,588M626,588 L681,502M634,622 L626,588M732,606 L649,636M732,606 L739,556M774,1376 L809,1362M831,1375 L809,1362M188,925 L207,973M207,973 L198,980M299,989 L299,989M207,973 L252,981M285,986 L299,989M299,989 L271,1056M598,1077 L683,1037M582,936 L611,937M683,1037 L654,962M927,1227 L942,1237M927,1227 L914,1249M989,1284 L985,1268M989,1284 L985,1295M914,1249 L920,1270M985,1295 L980,1296M1361,1273 L1399,1284M1361,1273 L1340,1315M1346,1317 L1340,1315M1402,1290 L1399,1284M1340,1315 L1337,1316M1337,1316 L1335,1321M1706,211 L1723,229M1742,179 L1744,206M1744,206 L1723,229M1650,189 L1654,188M1650,189 L1636,181M1764,205 L1744,206M1358,67 L1360,68M1379,54 L1360,68M727,1287 L761,1276M809,1362 L807,1298M761,1276 L807,1298M850,1282 L848,1280M807,1298 L848,1280M914,1249 L857,1270M851,1274 L848,1280M536,539 L534,545M536,539 L470,504M470,504 L459,521M554,534 L536,539M578,435 L565,433M465,421 L453,460M453,460 L470,504M453,460 L447,462M1489,934 L1498,903M1489,934 L1434,943M1443,884 L1445,882M1443,884 L1424,926M1445,882 L1493,893M1493,893 L1498,903M1424,926 L1434,943M927,1227 L927,1218M1005,1235 L1007,1231M999,1207 L990,1198M927,1218 L990,1198M1098,696 L1110,689M1098,696 L1061,678M1110,689 L1121,623M1061,678 L1072,609M1072,609 L1113,602M1121,623 L1113,602M1025,730 L1041,686M1025,730 L1064,749M1041,686 L1061,678M1064,749 L1093,740M1093,740 L1098,696M1168,659 L1121,623M1168,659 L1148,697M1148,697 L1110,689M985,1295 L988,1301M996,1315 L1001,1325M1178,1383 L1183,1384M1178,1383 L1172,1386M1171,1389 L1172,1386M1161,1412 L1147,1424M1178,1383 L1198,1333M1239,1361 L1228,1335M1228,1335 L1198,1333M1337,1316 L1307,1305M1285,1338 L1283,1322M1307,1305 L1283,1322M1213,1267 L1239,1236M1213,1267 L1215,1277M1239,1236 L1273,1264M1215,1277 L1248,1303M1273,1264 L1248,1303M1228,1335 L1249,1307M1283,1322 L1249,1307M1215,1277 L1180,1312M1180,1312 L1198,1333M1248,1303 L1249,1307M1360,68 L1357,90M463,406 L460,396M467,388 L460,396M460,396 L457,393M413,338 L411,326M1360,98 L1391,129M1391,129 L1420,112M1157,489 L1138,513M1117,511 L1138,513M1141,567 L1138,513M1141,567 L1113,602M1072,609 L1047,599M1047,599 L1018,539M761,1276 L771,1244M683,1037 L729,1056M745,1130 L746,1126M746,1126 L748,1101M729,1056 L748,1101M1499,953 L1484,985M1499,953 L1489,934M1433,958 L1434,943M1433,958 L1463,991M1463,991 L1484,985M1499,953 L1545,959M1545,959 L1522,1012M1484,985 L1522,1012M1450,843 L1445,882M1450,843 L1395,818M1443,884 L1397,865M1395,818 L1393,821M1393,821 L1397,865M1390,922 L1424,926M1390,922 L1378,883M1397,865 L1378,883M1351,763 L1392,785M1351,763 L1344,765M1395,818 L1398,805M1398,805 L1392,785M1393,821 L1364,827M1364,827 L1322,794M1344,765 L1322,794M1493,892 L1493,893M1498,903 L1505,904M1551,956 L1551,956M1551,956 L1545,959M1168,659 L1172,658M1141,567 L1207,599M1172,658 L1209,609M1207,599 L1209,609M1351,763 L1373,727M1373,727 L1361,702M1344,765 L1318,732M1318,732 L1334,700M1361,702 L1334,700M1269,688 L1272,684M1269,688 L1292,735M1272,684 L1327,690M1318,732 L1292,735M1334,700 L1327,690M1303,837 L1273,845M1303,837 L1335,871M1280,893 L1266,856M1280,893 L1325,889M1273,845 L1266,856M1325,889 L1335,873M1335,873 L1335,871M1364,827 L1335,871M1322,794 L1315,797M1315,797 L1303,837M1332,924 L1371,935M1332,924 L1325,889M1390,922 L1371,935M1378,883 L1335,873M1202,984 L1235,986M1202,984 L1199,979M1199,979 L1220,924M1235,986 L1256,956M1256,956 L1220,924M1193,1017 L1202,984M1193,1017 L1200,1033M1233,1035 L1232,1035M1244,998 L1235,986M1200,1033 L1232,1035M1152,1015 L1193,1017M1156,975 L1162,963M1162,963 L1199,979M1315,797 L1291,785M1273,845 L1254,807M1254,807 L1291,785M1222,863 L1226,799M1222,863 L1266,856M1254,807 L1226,799M1292,735 L1279,756M1279,756 L1291,785M1225,628 L1278,642M1225,628 L1220,682M1278,642 L1272,684M1269,688 L1249,695M1249,695 L1220,682M1172,658 L1211,684M1225,628 L1209,609M1211,684 L1220,682M1056,798 L1110,801M1056,798 L1064,749M1093,740 L1102,746M1110,801 L1102,746M840,692 L820,694M840,692 L841,683M779,627 L767,632M767,632 L767,665M864,715 L863,718M857,743 L857,744M864,715 L840,692M857,744 L831,759M732,606 L767,632M1134,1155 L1174,1159M1134,1155 L1128,1184M1128,1184 L1144,1211M1144,1211 L1185,1207M1185,1207 L1185,1169M1185,1169 L1174,1159M1063,1152 L1077,1137M1122,1187 L1128,1184M1125,1142 L1077,1137M1125,1142 L1134,1155M1087,1222 L1089,1238M1089,1238 L1136,1237M1136,1237 L1144,1211M1189,1210 L1182,1251M1189,1210 L1185,1207M1182,1251 L1152,1263M1152,1263 L1136,1237M1191,1120 L1226,1115M1191,1120 L1174,1159M1228,1162 L1226,1115M1228,1162 L1185,1169M989,1284 L1046,1276M1011,1332 L1052,1325M1052,1325 L1046,1276M1033,1237 L1055,1263M1089,1238 L1078,1257M1078,1257 L1055,1263M1046,1276 L1055,1263M1551,956 L1551,956M1525,1022 L1524,1023M1525,1022 L1549,1022M1524,1023 L1535,1068M1522,1012 L1525,1022M1650,189 L1644,255M1723,229 L1721,238M1644,255 L1721,238M1760,262 L1733,261M1733,309 L1726,299M1726,299 L1733,261M1721,238 L1733,261M1718,369 L1713,378M1713,378 L1717,382M1552,145 L1518,157M1598,179 L1582,205M1582,205 L1517,212M1517,212 L1518,157M1498,116 L1491,128M1518,157 L1491,128M1461,121 L1470,128M1491,128 L1470,128M1313,400 L1303,410M1313,400 L1310,377M1310,377 L1303,375M746,1126 L808,1150M927,1218 L916,1199M884,1197 L916,1199M1472,728 L1465,713M1451,763 L1414,744M1465,713 L1440,704M1418,723 L1411,736M1414,744 L1411,736M1485,691 L1465,713M1398,805 L1430,795M1392,785 L1414,744M1373,727 L1411,736M1450,843 L1460,834M1441,1247 L1437,1240M1465,1227 L1453,1226M1453,1226 L1437,1240M1399,1284 L1423,1241M1423,1241 L1437,1240M1493,1190 L1484,1177M1484,1177 L1495,1156M1463,991 L1456,1010M1524,1023 L1478,1048M1456,1010 L1478,1048M1286,954 L1256,956M1286,954 L1297,960M1264,1010 L1287,1012M1287,1012 L1297,960M1332,924 L1306,957M1286,954 L1273,903M1273,903 L1280,893M1297,960 L1306,957M1189,1061 L1231,1092M1189,1061 L1200,1033M1232,1035 L1253,1068M1253,1068 L1231,1092M1361,702 L1377,683M1214,870 L1176,860M1214,870 L1223,910M1223,910 L1219,919M1219,919 L1171,923M1155,899 L1171,923M1155,899 L1164,868M1164,868 L1176,860M1273,903 L1223,910M1222,863 L1214,870M1220,924 L1219,919M1162,963 L1159,956M1159,956 L1171,923M1109,848 L1164,868M1109,848 L1117,807M1173,806 L1176,860M1173,806 L1158,797M1158,797 L1117,807M1217,793 L1222,795M1217,793 L1199,740M1222,795 L1253,753M1199,740 L1238,732M1253,753 L1238,732M1173,806 L1217,793M1226,799 L1222,795M1279,756 L1253,753M1249,695 L1238,732M1189,715 L1196,739M1189,715 L1153,704M1196,739 L1157,761M1153,704 L1141,745M1141,745 L1157,761M1211,684 L1189,715M1199,740 L1196,739M1148,697 L1153,704M1158,797 L1157,761M1102,746 L1141,745M1110,801 L1117,807M729,1056 L744,1036M968,1146 L961,1102M968,1146 L996,1164M996,1164 L1020,1152M1020,1152 L1013,1106M1013,1106 L962,1101M961,1102 L962,1101M990,1198 L996,1164M916,1199 L920,1175M920,1175 L968,1146M1041,1157 L1020,1152M986,1034 L992,1001M986,1034 L929,1030M992,1001 L958,967M929,1030 L914,996M958,967 L924,987M1191,1120 L1158,1090M1125,1142 L1129,1133M1149,1095 L1158,1090M1189,1061 L1165,1074M1226,1115 L1230,1111M1231,1092 L1230,1111M1165,1074 L1158,1090M1077,1137 L1068,1098M1068,1098 L1099,1075M1013,1106 L1037,1081M1068,1098 L1037,1081M990,1039 L1031,1055M990,1039 L962,1101M1037,1081 L1031,1055M1159,956 L1114,946M1155,899 L1103,913M1114,946 L1103,913M1109,848 L1082,870M1082,870 L1095,908M1095,908 L1103,913M919,659 L919,681M919,681 L977,695M977,695 L993,670M864,715 L905,701M910,697 L919,681M930,734 L939,749M939,749 L991,734M991,734 L984,716M977,697 L977,695M1047,599 L1017,622M1025,730 L1004,740M1041,686 L1010,663M1004,740 L991,734M1051,1381 L1064,1369M1052,1325 L1064,1334M1064,1369 L1064,1334M1105,1388 L1105,1388M1064,1369 L1105,1388M1172,1386 L1134,1362M1105,1388 L1134,1362M1517,212 L1515,215M1515,215 L1477,227M1470,128 L1436,199M1477,227 L1436,199M1256,266 L1288,245M1288,245 L1317,276M1312,374 L1310,377M1385,296 L1393,283M1379,262 L1393,283M1379,262 L1330,278M1288,245 L1291,230M1275,209 L1291,230M859,1069 L912,1068M900,1137 L903,1138M903,1138 L931,1096M931,1096 L912,1068M748,1101 L767,1096M929,1030 L912,1068M920,1175 L903,1138M961,1102 L931,1096M986,1034 L990,1039M1527,543 L1498,543M1527,543 L1536,583M1498,543 L1487,575M1482,591 L1480,598M1496,609 L1480,598M1573,529 L1553,522M1553,522 L1527,543M1469,358 L1447,358M1469,358 L1495,406M1495,406 L1423,427M1405,382 L1405,416M1405,416 L1423,427M1500,315 L1469,358M1500,315 L1462,280M1462,280 L1443,286M1413,292 L1393,283M1367,438 L1405,416M1367,438 L1313,400M1582,205 L1607,261M1515,215 L1545,271M1607,261 L1545,271M1500,315 L1526,317M1462,280 L1477,227M1545,271 L1526,317M1453,1226 L1450,1184M1484,1177 L1455,1178M1450,1184 L1455,1178M1361,1273 L1359,1270M1307,1305 L1301,1261M1359,1270 L1301,1261M1273,1264 L1301,1260M1301,1261 L1301,1260M1423,1241 L1400,1220M1400,1181 L1450,1184M1400,1181 L1397,1183M1397,1183 L1400,1220M1359,1270 L1362,1236M1400,1220 L1362,1236M1189,1210 L1227,1214M1228,1162 L1236,1169M1236,1169 L1227,1214M1213,1267 L1182,1251M1239,1236 L1239,1227M1227,1214 L1239,1227M1288,1013 L1331,1033M1288,1013 L1268,1067M1331,1033 L1302,1089M1268,1067 L1302,1089M1287,1012 L1288,1013M1253,1068 L1268,1067M1230,1111 L1282,1128M1282,1128 L1306,1098M1306,1098 L1302,1089M1327,690 L1332,648M1357,649 L1353,645M1332,648 L1353,645M1056,798 L1052,801M1004,740 L1004,780M1052,801 L1004,780M958,967 L963,947M963,947 L945,914M924,919 L930,917M944,914 L945,914M1031,1055 L1056,1030M1056,1030 L1075,1036M1114,946 L1104,966M1165,1074 L1154,1061M1017,985 L1055,1006M1017,985 L1025,938M1025,938 L1047,941M1047,941 L1077,981M1055,1006 L1077,981M992,1001 L1017,985M1056,1030 L1055,1006M1023,936 L963,947M1023,936 L1025,938M1095,908 L1047,941M1080,980 L1077,981M1132,1348 L1095,1323M1132,1348 L1163,1309M1163,1309 L1148,1280M1148,1280 L1104,1289M1104,1289 L1095,1323M1064,1334 L1095,1323M1134,1362 L1132,1348M1180,1312 L1163,1309M1152,1263 L1148,1280M1078,1257 L1104,1289M1379,232 L1422,199M1379,232 L1342,206M1422,199 L1388,140M1388,140 L1341,167M1338,177 L1342,206M1379,262 L1379,232M1436,199 L1422,199M1291,230 L1342,206M1391,129 L1388,140M1454,493 L1423,427M1454,493 L1514,454M1495,406 L1499,408M1514,454 L1499,408M1526,317 L1528,319M1528,319 L1534,383M1499,408 L1534,383M1671,312 L1634,267M1671,312 L1665,340M1665,340 L1607,360M1634,267 L1620,268M1620,268 L1592,331M1592,331 L1607,360M1644,255 L1634,267M1726,299 L1671,312M1713,378 L1699,377M1689,372 L1665,340M1607,261 L1620,268M1528,319 L1592,331M1654,460 L1623,466M1624,398 L1601,392M1623,466 L1589,438M1589,438 L1594,400M1601,392 L1594,400M1621,480 L1623,466M1607,360 L1601,392M1553,522 L1545,469M1545,469 L1589,438M1545,469 L1514,454M1534,383 L1594,400M1400,1181 L1425,1127M1455,1178 L1445,1124M1445,1124 L1425,1127M1370,1133 L1384,1177M1370,1133 L1389,1108M1397,1183 L1384,1177M1425,1127 L1389,1108M1331,1156 L1284,1160M1331,1156 L1348,1187M1348,1187 L1334,1210M1334,1210 L1308,1216M1308,1216 L1290,1202M1290,1202 L1280,1168M1280,1168 L1284,1160M1341,1135 L1331,1156M1341,1135 L1319,1103M1282,1128 L1284,1160M1319,1103 L1306,1098M1370,1133 L1341,1135M1384,1177 L1348,1187M1362,1236 L1334,1210M1301,1260 L1308,1216M1239,1227 L1290,1202M1236,1169 L1280,1168M1306,957 L1344,981M1331,1033 L1339,1032M1339,1032 L1344,981M1371,935 L1371,971M1344,981 L1371,971M1433,958 L1396,989M1371,971 L1396,989M1456,1010 L1426,1021M1426,1021 L1396,994M1396,989 L1396,994M1480,598 L1472,600M1278,642 L1291,630M1332,648 L1306,629M1291,630 L1306,629M1017,903 L995,889M1017,903 L1061,863M995,889 L991,848M1061,863 L1045,841M1045,841 L1000,839M991,848 L1000,839M1023,936 L1017,903M948,905 L945,914M948,905 L995,889M1082,870 L1061,863M1052,801 L1045,841M1004,780 L989,798M989,798 L1000,839M924,794 L926,797M924,794 L903,791M926,797 L933,849M925,855 L931,852M933,849 L931,852M939,749 L924,794M989,798 L926,797M857,744 L883,775M894,789 L895,789M991,848 L933,849M948,905 L931,852M1474,1119 L1451,1120M1474,1119 L1496,1082M1451,1120 L1443,1069M1443,1069 L1478,1050M1496,1082 L1478,1050M1498,1137 L1474,1119M1445,1124 L1451,1120M1528,1085 L1496,1082M1478,1048 L1478,1050M1358,1039 L1363,1037M1358,1039 L1364,1085M1363,1037 L1418,1055M1364,1085 L1388,1103M1388,1103 L1419,1058M1418,1055 L1419,1058M1339,1032 L1358,1039M1396,994 L1363,1037M1319,1103 L1364,1085M1426,1021 L1418,1055M1389,1108 L1388,1103M1443,1069 L1419,1058M1498,543 L1468,527M1441,571 L1440,569M1440,569 L1468,527M1367,438 L1357,473M1454,493 L1452,499M1357,473 L1407,512M1407,512 L1452,499M1452,499 L1468,527M1207,599 L1229,581M1291,630 L1278,594M1278,594 L1229,581M1223,521 L1239,547M1229,581 L1239,547M1239,547 L1287,539M1286,533 L1287,539M1357,473 L1345,482M1302,479 L1345,482M1353,645 L1371,615M1401,615 L1397,611M1371,615 L1397,611M1440,569 L1401,568M1397,611 L1401,568M1407,512 L1389,553M1401,568 L1389,553M1298,559 L1297,548M1298,559 L1336,591M1297,548 L1339,530M1336,591 L1341,589M1341,589 L1364,554M1339,530 L1364,554M1278,594 L1298,559M1287,539 L1297,548M1306,629 L1336,591M1345,482 L1339,530M1371,615 L1341,589M1389,553 L1364,554" fill="none" stroke="#8c8c8c" stroke-width="2"/>
</g>
<polyline points="1081,1391 1069,1389 1045,1382 1029,1369 1018,1342 1002,1329 975,1319 952,1329 918,1336 885,1342 851,1349 834,1362 834,1386 814,1399 781,1393 767,1369 747,1356 741,1329 734,1302 720,1282 700,1285 677,1282 680,1255 697,1232 710,1218 727,1202 731,1168 727,1135 714,1118 694,1101 667,1128 633,1105 600,1115 575,1126 550,1146 500,1146 485,1116 470,1101 450,1086 420,1081 395,1086 380,1116 370,1096 350,1086 310,1081 280,1066 250,1046 230,1016 210,996 190,976 170,951 140,946 120,936 100,916 80,896 70,896 60,850 65,825 85,815 85,780 100,755 85,740 80,705 55,690 30,665 20,615 8,600 5,570 0,535 2,510 10,480 45,472 80,485 100,470 150,460 215,455 220,440 245,410 240,335 315,342 315,320 350,265 415,285 425,235 470,210 495,212 500,240 530,265 550,280 565,320 550,365 550,385 570,395 600,400 675,440 680,470 700,505 725,507 800,515 850,521 865,533 887,539 911,546 942,555 960,564 979,552 1010,539 1040,527 1080,521 1111,512 1126,496 1142,484 1160,469 1154,453 1145,438 1151,420 1169,417 1188,423 1209,417 1218,407 1234,392 1249,389 1270,374 1280,361 1289,349 1304,340 1326,331 1347,325 1372,328 1378,315 1370,304 1357,292 1336,282 1318,279 1296,295 1275,295 1253,279 1253,270 1256,245 1262,215 1271,206 1296,203 1321,190 1336,175 1342,153 1351,123 1357,98 1351,83 1351,68 1367,58 1382,49 1403,37 1434,31 1465,34 1483,40 1502,58 1517,83 1532,110 1545,129 1557,147 1572,160 1603,166 1634,178 1652,178 1661,196 1674,215 1695,215 1713,203 1729,184 1753,169 1772,160 1769,184 1766,215 1763,261 1756,292 1753,310 1729,313 1710,322 1704,335 1717,353 1723,378 1726,399 1720,417 1713,430 1695,433 1686,442 1674,454 1658,460 1646,473 1634,479 1618,485 1603,497 1591,519 1575,531 1566,549 1550,583" fill="none" stroke="#dcd8ee" stroke-width="16" stroke-linejoin="round" stroke-linecap="round"/>
<polyline points="1081,1391 1069,1389 1045,1382 1029,1369 1018,1342 1002,1329 975,1319 952,1329 918,1336 885,1342 851,1349 834,1362 834,1386 814,1399 781,1393 767,1369 747,1356 741,1329 734,1302 720,1282 700,1285 677,1282 680,1255 697,1232 710,1218 727,1202 731,1168 727,1135 714,1118 694,1101 667,1128 633,1105 600,1115 575,1126 550,1146 500,1146 485,1116 470,1101 450,1086 420,1081 395,1086 380,1116 370,1096 350,1086 310,1081 280,1066 250,1046 230,1016 210,996 190,976 170,951 140,946 120,936 100,916 80,896 70,896 60,850 65,825 85,815 85,780 100,755 85,740 80,705 55,690 30,665 20,615 8,600 5,570 0,535 2,510 10,480 45,472 80,485 100,470 150,460 215,455 220,440 245,410 240,335 315,342 315,320 350,265 415,285 425,235 470,210 495,212 500,240 530,265 550,280 565,320 550,365 550,385 570,395 600,400 675,440 680,470 700,505 725,507 800,515 850,521 865,533 887,539 911,546 942,555 960,564 979,552 1010,539 1040,527 1080,521 1111,512 1126,496 1142,484 1160,469 1154,453 1145,438 1151,420 1169,417 1188,423 1209,417 1218,407 1234,392 1249,389 1270,374 1280,361 1289,349 1304,340 1326,331 1347,325 1372,328 1378,315 1370,304 1357,292 1336,282 1318,279 1296,295 1275,295 1253,279 1253,270 1256,245 1262,215 1271,206 1296,203 1321,190 1336,175 1342,153 1351,123 1357,98 1351,83 1351,68 1367,58 1382,49 1403,37 1434,31 1465,34 1483,40 1502,58 1517,83 1532,110 1545,129 1557,147 1572,160 1603,166 1634,178 1652,178 1661,196 1674,215 1695,215 1713,203 1729,184 1753,169 1772,160 1769,184 1766,215 1763,261 1756,292 1753,310 1729,313 1710,322 1704,335 1717,353 1723,378 1726,399 1720,417 1713,430 1695,433 1686,442 1674,454 1658,460 1646,473 1634,479 1618,485 1603,497 1591,519 1575,531 1566,549 1550,583" fill="none" stroke="#6f6d80" stroke-width="4.5" stroke-linejoin="round"/>
<polyline points="1550,583 1523,590 1514,601 1496,612 1485,624 1470,639 1465,633 1470,617 1467,608 1470,595 1481,588 1485,579 1483,563 1474,557 1456,557 1445,568 1441,579 1425,592 1412,599 1405,612 1403,624 1394,633 1378,644 1362,646 1356,659 1360,670 1367,679 1394,682 1405,688 1407,706 1416,720 1429,717 1438,702 1452,688 1461,684 1479,688 1501,688 1523,691 1521,711 1510,711 1490,720 1472,731 1461,746 1456,758 1452,769 1443,780 1434,793 1429,807 1434,816 1447,827 1465,833 1479,858 1492,885 1501,898 1514,907 1528,916 1539,925 1546,934 1546,947 1566,966 1556,996 1551,1026 1541,1061 1526,1096 1511,1121 1496,1146 1501,1176 1491,1206 1471,1226 1451,1241 1426,1266 1406,1291 1371,1311 1331,1326 1296,1336 1276,1346 1246,1361 1221,1371 1196,1381 1176,1391 1156,1396 1166,1416 1171,1436 1161,1441 1146,1436 1141,1411 1136,1391 1106,1391 1081,1391" fill="none" stroke="#111" stroke-width="5" stroke-linejoin="round"/>
<polyline points="727.9,511.4 741.9,556.0 736.3,564.4 753.0,586.7 755.8,600.7 769.8,595.1 783.7,592.3 797.7,589.5 811.6,595.1 811.6,606.2 806.0,617.4 794.9,628.6 786.5,631.4 800.4,639.7 811.6,645.3 820.0,656.5 828.3,662.1 836.7,673.2 845.1,681.6 856.2,684.4 861.8,673.2 867.4,667.6 889.7,664.8 906.5,659.3 923.2,656.5 931.6,662.1 931.6,673.2 923.2,684.4 912.1,695.5" fill="none" stroke="#111" stroke-width="5" stroke-linejoin="round"/>
<polyline points="987.4,701.1 990.2,681.6 995.8,670.4 1006.9,662.1 1012.5,667.6 1015.3,678.8 1009.7,690.0 1006.9,701.1" fill="none" stroke="#111" stroke-width="5" stroke-linejoin="round"/>
<polyline points="1096.2,687.2 1107.4,673.2 1112.9,656.5 1126.9,650.9 1143.6,645.3 1152.0,645.3 1157.6,639.7 1174.3,639.7 1179.9,617.4 1200.0,611.8" fill="none" stroke="#111" stroke-width="5" stroke-linejoin="round"/>
<polyline points="845.1,902.0 831.1,896.4 822.8,885.3 820.0,868.5 833.9,865.7 850.7,868.5" fill="none" stroke="#111" stroke-width="5" stroke-linejoin="round"/>
<polyline points="850.7,715.1 839.5,706.7 828.3,701.1 817.2,695.5 808.8,692.7 803.2,690.0 794.9,681.6 780.9,673.2 769.8,667.6 758.6,664.8 747.4,667.6 733.5,664.8 722.3,659.3 711.2,656.5 705.6,667.6 705.6,681.6 700.0,684.4" fill="none" stroke="#111" stroke-width="5" stroke-linejoin="round"/>
<polyline points="1179.9,617.4 1174.3,639.7 1157.6,645.3 1149.2,650.9 1146.4,673.2 1143.6,690.0 1138.1,701.1" fill="none" stroke="#111" stroke-width="5" stroke-linejoin="round"/>
<polyline points="1150.0,645.3 1166.7,639.7 1177.9,623.0 1186.3,614.6 1200.2,611.8 1214.2,606.2 1228.1,600.7 1233.7,586.7 1228.1,570.0 1230.9,556.0 1239.3,539.3 1247.7,530.9 1253.2,533.7 1256.0,547.7 1267.2,544.9 1278.3,539.3 1289.5,533.7 1303.5,528.1 1311.8,522.5 1317.4,508.6 1331.4,503.0 1342.5,503.0 1350.9,514.2 1359.3,533.7 1367.6,544.9 1381.6,547.7 1387.2,530.9 1392.7,505.8 1401.1,503.0 1412.3,522.5 1423.4,514.2 1434.6,503.0 1445.8,494.6 1456.9,483.5 1470.9,477.9 1484.8,472.3 1496.0,464.0 1501.6,452.8 1507.1,450.0" fill="none" stroke="#111" stroke-width="5" stroke-linejoin="round"/>
<polyline points="1549.0,450.0 1562.9,472.3 1568.5,489.1 1576.9,505.8 1585.3,519.8" fill="none" stroke="#111" stroke-width="5" stroke-linejoin="round"/>
<polyline points="1381.6,547.7 1384.4,567.2 1395.5,578.3 1409.5,589.5 1415.1,597.9" fill="none" stroke="#111" stroke-width="5" stroke-linejoin="round"/>
<polyline points="1283.9,620.2 1295.1,595.1 1306.2,578.3 1311.8,570.0 1323.0,578.3 1334.2,581.1 1342.5,583.9 1345.3,597.9 1356.5,606.2 1353.7,617.4 1345.3,623.0 1339.7,628.6 1328.6,631.4 1317.4,628.6 1306.2,634.2 1295.1,628.6 1286.7,625.8 1283.9,620.2" fill="none" stroke="#111" stroke-width="5" stroke-linejoin="round"/>
<polyline points="1328.6,609.0 1345.3,606.2 1356.5,617.4 1359.3,639.7 1356.5,659.3 1345.3,664.8 1331.4,659.3 1325.8,645.3 1331.4,628.6" fill="none" stroke="#111" stroke-width="5" stroke-linejoin="round"/>
<polyline points="1233.7,586.7 1239.3,606.2 1250.4,611.8 1242.1,623.0 1253.2,639.7 1253.2,656.5 1239.3,662.1 1230.9,678.8 1233.7,692.7" fill="none" stroke="#111" stroke-width="5" stroke-linejoin="round"/>
<polyline points="1325.8,698.3 1339.7,690.0 1350.9,684.4 1362.1,678.8 1373.2,681.6 1387.2,678.8 1398.3,684.4 1403.9,692.7 1406.7,706.7 1412.3,717.9 1423.4,717.9 1431.8,715.1 1440.2,701.1 1451.3,692.7 1462.5,687.2 1473.7,690.0 1484.8,690.0 1501.6,690.0 1512.7,690.0 1523.9,690.0" fill="none" stroke="#111" stroke-width="5" stroke-linejoin="round"/>
<polyline points="1350.9,821.1 1362.1,826.7 1376.0,832.3 1390.0,829.5 1401.1,821.1 1409.5,812.7 1420.6,807.1 1429.0,804.4" fill="none" stroke="#111" stroke-width="5" stroke-linejoin="round"/>
<polyline points="1362.1,849.0 1378.8,854.6 1390.0,862.9 1395.5,874.1 1401.1,888.1 1409.5,896.4 1423.4,899.2 1431.8,907.6 1429.0,918.8 1423.4,929.9 1429.0,941.1 1423.4,950.0" fill="none" stroke="#111" stroke-width="5" stroke-linejoin="round"/>
<polyline points="747.4,900.0 755.8,911.2 772.5,919.5 783.7,916.7 794.9,930.7 811.6,939.1 825.6,933.5 831.1,916.7 845.1,908.4" fill="none" stroke="#111" stroke-width="5" stroke-linejoin="round"/>
<polyline points="700.0,930.7 722.3,939.1 730.7,950.2 739.1,972.5 744.6,983.7 739.1,992.1 744.6,1011.6 747.4,1033.9 750.2,1056.2 750.2,1078.6 747.4,1095.3 739.1,1095.3 733.5,1084.2 727.9,1100.9 725.1,1114.8 716.7,1112.1" fill="none" stroke="#111" stroke-width="5" stroke-linejoin="round"/>
<polyline points="750.2,1078.6 753.0,1095.3 761.4,1106.5 769.8,1095.3 778.1,1100.9 783.7,1112.1 786.5,1128.8 794.9,1137.2 806.0,1140.0 814.4,1156.7 820.0,1167.9 825.6,1181.8 831.1,1190.2 836.7,1201.3 850.7,1206.9 867.4,1201.3 881.4,1195.8 884.2,1179.0 886.9,1159.5 895.3,1151.1 900.9,1137.2 912.1,1123.2 917.6,1109.3 928.8,1106.5 934.4,1109.3 934.4,1120.4 942.7,1131.6 953.9,1131.6 965.1,1128.8 967.9,1137.2 965.1,1145.5 951.1,1151.1 934.4,1151.1 920.4,1153.9 912.1,1162.3 909.3,1173.4 914.8,1184.6 928.8,1187.4 940.0,1190.2 942.7,1201.3 937.2,1212.5 934.4,1229.2 940.0,1237.6 945.5,1246.0 942.7,1259.9 945.5,1271.1 956.7,1268.3 967.9,1259.9 981.8,1257.1 993.0,1262.7 1004.1,1262.7 1018.1,1254.4 1032.0,1246.0 1037.6,1234.8 1048.8,1237.6 1062.7,1240.4 1076.7,1234.8 1087.8,1229.2 1096.2,1223.7 1107.4,1218.1 1118.5,1212.5 1126.9,1206.9 1124.1,1195.8 1118.5,1184.6 1112.9,1173.4 1107.4,1165.1 1101.8,1159.5" fill="none" stroke="#111" stroke-width="5" stroke-linejoin="round"/>
<polyline points="1107.4,1106.5 1101.8,1117.6 1096.2,1120.4 1087.8,1112.1" fill="none" stroke="#111" stroke-width="5" stroke-linejoin="round"/>
<polyline points="1107.4,1106.5 1110.2,1123.2 1110.2,1140.0 1107.4,1151.1 1101.8,1159.5 1110.2,1165.1 1118.5,1170.6" fill="none" stroke="#111" stroke-width="5" stroke-linejoin="round"/>
<polyline points="1124.1,1195.8 1129.7,1206.9 1138.1,1206.9 1146.4,1201.3 1160.4,1198.5 1174.3,1195.8 1188.3,1201.3 1191.1,1212.5 1188.3,1234.8 1185.5,1246.0 1191.1,1257.1 1200.0,1262.7" fill="none" stroke="#111" stroke-width="5" stroke-linejoin="round"/>
<polyline points="945.5,1271.1 951.1,1276.7 962.3,1285.0 973.4,1290.6 987.4,1293.4 995.8,1301.8 998.5,1312.9 990.2,1318.5 984.6,1324.1" fill="none" stroke="#111" stroke-width="5" stroke-linejoin="round"/>
<polyline points="1200.0,1335.3 1191.1,1346.4 1179.9,1352.0 1174.3,1363.2 1168.8,1374.3 1160.4,1379.9 1149.2,1391.1 1143.6,1400.0" fill="none" stroke="#111" stroke-width="5" stroke-linejoin="round"/>
<polyline points="1417.9,900.0 1417.9,922.3 1423.4,939.1 1431.8,950.2 1437.4,961.4 1451.3,961.4 1459.7,964.2 1484.8,967.0 1501.6,961.4 1512.7,950.2 1515.5,936.3 1526.7,933.5 1540.6,939.1 1543.4,955.8" fill="none" stroke="#111" stroke-width="5" stroke-linejoin="round"/>
<polyline points="1350.9,1025.6 1362.1,1028.3 1373.2,1022.8 1381.6,1031.1 1392.7,1028.3 1406.7,1033.9 1417.9,1039.5 1423.4,1033.9 1429.0,1017.2 1440.2,1006.0 1445.8,992.1 1454.1,983.7 1459.7,964.2" fill="none" stroke="#111" stroke-width="5" stroke-linejoin="round"/>
<polyline points="1350.9,1031.1 1362.1,1028.3" fill="none" stroke="#111" stroke-width="5" stroke-linejoin="round"/>
<polyline points="1286.7,1100.9 1281.1,1112.1 1275.6,1123.2 1272.8,1137.2 1275.6,1151.1 1283.9,1165.1 1286.7,1179.0 1289.5,1190.2 1292.3,1201.3 1289.5,1212.5 1289.5,1223.7 1300.7,1226.5 1311.8,1229.2 1309.0,1243.2 1306.2,1251.6 1317.4,1254.4 1334.2,1251.6 1345.3,1246.0 1356.5,1243.2 1362.1,1237.6 1367.6,1234.8" fill="none" stroke="#111" stroke-width="5" stroke-linejoin="round"/>
<polyline points="1417.9,1039.5 1423.4,1053.5 1431.8,1067.4 1437.4,1078.6 1437.4,1089.7 1423.4,1100.9 1406.7,1106.5 1398.3,1117.6 1395.5,1131.6 1384.4,1142.7 1381.6,1156.7 1378.8,1173.4 1373.2,1187.4 1367.6,1201.3 1364.8,1215.3 1364.8,1229.2 1367.6,1234.8" fill="none" stroke="#111" stroke-width="5" stroke-linejoin="round"/>
<polyline points="1437.4,1089.7 1445.8,1092.5 1454.1,1100.9 1462.5,1112.1 1473.7,1114.8 1484.8,1106.5 1496.0,1112.1 1507.1,1114.8 1518.3,1112.1" fill="none" stroke="#111" stroke-width="5" stroke-linejoin="round"/>
<polyline points="1367.6,1234.8 1378.8,1237.6 1390.0,1240.4 1395.5,1246.0 1401.1,1254.4 1406.7,1262.7 1409.5,1273.9 1412.3,1282.3" fill="none" stroke="#111" stroke-width="5" stroke-linejoin="round"/>
<polyline points="1150.0,1201.3 1166.7,1193.0 1177.9,1193.0 1186.3,1201.3 1191.9,1212.5 1186.3,1229.2 1183.5,1243.2 1194.6,1251.6 1203.0,1257.1 1214.2,1259.9 1225.3,1251.6 1233.7,1243.2 1247.7,1243.2 1256.0,1234.8 1256.0,1226.5 1270.0,1220.9 1283.9,1223.7 1289.5,1223.7" fill="none" stroke="#111" stroke-width="5" stroke-linejoin="round"/>
<polyline points="1214.2,1259.9 1217.0,1271.1 1217.0,1285.0 1211.4,1296.2 1205.8,1304.6 1200.2,1318.5 1194.6,1335.3 1183.5,1346.4 1172.3,1352.0 1161.2,1363.2 1150.0,1368.8" fill="none" stroke="#111" stroke-width="5" stroke-linejoin="round"/>
<polyline points="1383.7,59.1 1375.3,81.4 1392.1,87.0 1397.7,81.4 1411.6,87.0 1417.2,95.3 1420.0,106.5 1425.6,117.7 1431.1,126.0 1445.1,120.4 1461.8,114.9 1473.0,112.1 1481.4,100.9 1495.3,106.5 1509.3,120.4 1506.5,137.2 1503.7,153.9 1500.9,176.2 1500.9,198.6 1495.3,204.2 1492.5,220.9 1492.5,243.2 1486.9,232.1 1478.6,240.4 1467.4,254.4 1456.2,265.5 1445.1,276.7 1447.9,287.9 1456.2,296.2 1464.6,304.6 1467.4,315.8 1481.4,321.3 1492.5,326.9 1500.9,340.9 1512.1,349.2 1528.8,346.5 1545.5,343.7 1556.7,349.2 1573.4,349.2 1587.4,354.8 1595.8,366.0 1606.9,371.6 1618.1,382.7 1626.5,377.1 1632.0,366.0 1640.4,379.9 1651.6,393.9 1662.7,396.7 1668.3,382.7 1679.5,382.7 1687.8,377.1 1693.4,371.6 1699.0,382.7 1707.4,388.3 1715.7,391.1" fill="none" stroke="#111" stroke-width="5" stroke-linejoin="round"/>
<polyline points="1467.4,315.8 1456.2,329.7 1439.5,343.7 1433.9,352.0 1439.5,360.4 1447.9,366.0 1450.7,382.7 1456.2,396.7 1461.8,410.6 1473.0,405.0 1484.2,399.5 1492.5,410.6 1495.3,421.8 1500.9,432.9 1506.5,441.3 1523.2,446.9 1534.4,449.7 1540.0,446.9 1545.5,455.3 1551.1,466.4 1559.5,477.6 1567.9,488.8 1573.4,499.9 1579.0,513.9 1581.8,520.0" fill="none" stroke="#111" stroke-width="5" stroke-linejoin="round"/>
<polyline points="1506.5,441.3 1506.5,455.3 1495.3,466.4 1478.6,474.8 1461.8,480.4 1445.1,488.8 1433.9,499.9 1417.2,505.5 1406.0,511.1 1394.9,502.7 1383.7,511.1 1367.0,511.1 1355.8,505.5 1344.6,499.9 1333.5,502.7 1322.3,511.1 1316.7,520.0" fill="none" stroke="#111" stroke-width="5" stroke-linejoin="round"/>
<polyline points="105.0,755.0 130.0,750.0 155.0,725.0 215.0,730.0 240.0,745.0 300.0,745.0 350.0,735.0 425.0,735.0 455.0,755.0 500.0,760.0 495.0,745.0 510.0,730.0 500.0,700.0 495.0,660.0 565.0,645.0 565.0,642.0 590.0,585.0 620.0,560.0 650.0,545.0 690.0,515.0 700.0,505.0" fill="none" stroke="#111" stroke-width="5" stroke-linejoin="round"/>
<polyline points="455.0,755.0 452.0,800.0 452.0,852.0 477.0,883.0 527.0,908.0 603.0,923.0 633.0,957.0 667.0,961.0 700.0,929.0" fill="none" stroke="#111" stroke-width="5" stroke-linejoin="round"/>
<polyline points="700.0,929.0 700.0,879.0 713.0,868.0 722.0,866.0 736.0,872.0 745.0,890.0 751.0,904.0 765.0,917.0 778.0,924.0 785.0,917.0 794.0,924.0 807.0,935.0 820.0,930.0 827.0,917.0 834.0,908.0 843.0,901.0 852.0,904.0" fill="none" stroke="#111" stroke-width="5" stroke-linejoin="round"/>
<polyline points="565.0,645.0 585.0,645.0 605.0,655.0 625.0,680.0 680.0,690.0 700.0,683.0" fill="none" stroke="#111" stroke-width="5" stroke-linejoin="round"/>
<polyline points="1103.0,1501.0 1106.0,1481.0 1126.0,1461.0" fill="none" stroke="#111" stroke-width="5" stroke-linejoin="round"/>
<polyline points="850.0,721.8 864.5,726.6 879.1,743.6 886.3,772.6 893.6,792.0 886.3,801.7 879.1,816.2 864.5,825.9 857.3,835.6 859.7,850.1 859.7,869.5 850.0,874.3" fill="none" stroke="#111" stroke-width="5" stroke-linejoin="round"/>
<polyline points="908.1,700.0 910.5,714.5 917.8,724.2 932.3,731.5 942.0,736.3 946.9,743.6 954.1,753.3 961.4,763.0 966.2,777.5 968.6,787.2 971.1,796.9 978.3,806.5 988.0,816.2 997.7,823.5 1005.0,830.8 1009.8,838.0" fill="none" stroke="#111" stroke-width="5" stroke-linejoin="round"/>
<polyline points="942.0,736.3 956.5,733.9 968.6,726.6 980.8,719.4 983.2,700.0" fill="none" stroke="#111" stroke-width="5" stroke-linejoin="round"/>
<polyline points="1005.0,700.0 1009.8,704.8 1024.3,709.7 1038.9,714.5 1048.5,719.4 1060.7,721.8 1072.8,719.4 1082.4,712.1 1084.9,700.0" fill="none" stroke="#111" stroke-width="5" stroke-linejoin="round"/>
<polyline points="1031.6,750.8 1024.3,758.1 1014.6,755.7 1009.8,760.5 1007.4,772.6 1009.8,779.9 1017.1,787.2 1019.5,796.9 1019.5,806.5 1017.1,813.8 1009.8,818.6 1007.4,823.5 1009.8,828.3 1014.6,830.8 1019.5,833.2 1031.6,835.6 1043.7,838.0 1051.0,833.2 1053.4,825.9 1063.1,823.5 1072.8,821.1 1077.6,816.2 1075.2,801.7 1077.6,789.6 1075.2,775.1 1067.9,765.4 1058.2,760.5 1048.5,755.7 1038.9,750.8 1031.6,750.8 1031.6,738.7 1034.0,724.2" fill="none" stroke="#111" stroke-width="5" stroke-linejoin="round"/>
<polyline points="1009.8,838.0 1007.4,850.1 1009.8,859.8 1007.4,869.5 1005.0,884.0 1005.0,891.3 995.3,898.5 990.4,908.2 985.6,915.5 980.8,925.2 971.1,930.0 959.0,932.4 946.9,932.4 937.2,927.6 932.3,917.9 929.9,908.2 922.6,898.5 913.0,888.9 903.3,884.0 896.0,874.3 888.7,869.5 879.1,871.9 869.4,879.2 864.5,893.7 857.3,901.0 850.0,905.8" fill="none" stroke="#111" stroke-width="5" stroke-linejoin="round"/>
<polyline points="980.8,925.2 990.4,930.0 1005.0,932.4 1019.5,937.3 1029.2,942.1 1043.7,947.0 1053.4,951.8 1063.1,956.7 1072.8,956.7 1077.6,961.5 1075.2,971.2 1072.8,980.9 1067.9,990.6 1060.7,1000.2 1053.4,1009.9 1048.5,1014.8 1043.7,1024.5 1038.9,1034.1 1034.0,1043.8 1024.3,1043.8 1014.6,1039.0 1005.0,1034.1 995.3,1031.7 985.6,1031.7 978.3,1036.6 975.9,1043.8 973.5,1053.5 971.1,1063.2 978.3,1072.9 985.6,1077.7 985.6,1100.0" fill="none" stroke="#111" stroke-width="5" stroke-linejoin="round"/>
<polyline points="1077.6,956.7 1087.3,961.5 1099.4,966.3 1111.5,971.2 1116.3,976.0 1128.5,978.5 1135.7,983.3 1138.1,990.6 1135.7,1002.7 1128.5,1009.9 1118.8,1012.3 1106.7,1014.8 1092.1,1019.6 1082.4,1024.5 1077.6,1034.1 1080.0,1043.8 1082.4,1053.5 1089.7,1063.2 1097.0,1068.0 1104.2,1077.7 1106.7,1087.4 1111.5,1100.0" fill="none" stroke="#111" stroke-width="5" stroke-linejoin="round"/>
<polyline points="1116.3,976.0 1116.3,966.3 1118.8,951.8 1116.3,942.1 1121.2,932.4 1130.9,930.0 1130.9,922.8 1121.2,920.3 1116.3,915.5 1113.9,910.7" fill="none" stroke="#111" stroke-width="5" stroke-linejoin="round"/>
<polyline points="1113.9,910.7 1128.5,910.7 1143.0,908.2 1157.5,905.8 1164.8,917.9 1174.5,927.6 1186.6,934.9 1198.7,939.7 1213.2,942.1 1227.7,939.7 1239.8,937.3 1251.9,939.7 1259.2,949.4 1266.5,959.1 1281.0,966.3 1293.1,968.8 1305.2,971.2 1314.9,968.8 1324.6,966.3 1331.8,956.7 1334.3,942.1 1331.8,930.0 1329.4,922.8" fill="none" stroke="#111" stroke-width="5" stroke-linejoin="round"/>
<polyline points="1130.9,700.0 1133.3,714.5 1135.7,729.1 1135.7,748.4 1133.3,767.8 1133.3,787.2 1135.7,806.5 1135.7,825.9 1133.3,845.3 1138.1,859.8 1143.0,874.3 1150.2,888.9 1157.5,905.8" fill="none" stroke="#111" stroke-width="5" stroke-linejoin="round"/>
<polyline points="1133.3,845.3 1147.8,850.1 1159.9,845.3 1174.5,840.4 1184.1,835.6 1191.4,828.3 1203.5,823.5 1213.2,818.6 1227.7,813.8 1237.4,806.5 1239.8,796.9 1239.8,782.3 1237.4,767.8 1237.4,753.3 1239.8,736.3 1242.3,719.4 1242.3,700.0" fill="none" stroke="#111" stroke-width="5" stroke-linejoin="round"/>
<polyline points="1242.3,772.6 1251.9,775.1 1261.6,775.1 1276.2,775.1 1285.8,772.6 1295.5,770.2 1300.4,763.0 1302.8,748.4 1305.2,736.3 1310.0,724.2 1319.7,712.1 1329.4,700.0" fill="none" stroke="#111" stroke-width="5" stroke-linejoin="round"/>
<polyline points="1295.5,770.2 1295.5,782.3 1293.1,796.9 1288.3,811.4 1285.8,821.1 1293.1,830.8 1305.2,835.6 1314.9,835.6 1324.6,835.6 1334.3,830.8 1343.9,825.9 1350.0,821.1" fill="none" stroke="#111" stroke-width="5" stroke-linejoin="round"/>
<polyline points="1314.9,859.8 1310.0,874.3 1305.2,888.9 1300.4,903.4 1305.2,913.1 1314.9,917.9 1319.7,922.8 1329.4,922.8 1334.3,932.4 1339.1,942.1 1350.0,947.0" fill="none" stroke="#111" stroke-width="5" stroke-linejoin="round"/>
<polyline points="1314.9,859.8 1324.6,855.0 1334.3,850.1 1343.9,855.0 1350.0,859.8" fill="none" stroke="#111" stroke-width="5" stroke-linejoin="round"/>
<polyline points="1150.2,1039.0 1164.8,1039.0 1179.3,1041.4 1193.8,1043.8 1208.4,1048.7 1222.9,1053.5 1232.6,1053.5 1242.3,1058.4 1256.8,1048.7 1261.6,1043.8 1271.3,1053.5 1276.2,1068.0 1281.0,1082.6 1285.8,1100.0" fill="none" stroke="#111" stroke-width="5" stroke-linejoin="round"/>
<polyline points="1150.2,1039.0 1152.7,1051.1 1152.7,1068.0 1155.1,1100.0" fill="none" stroke="#111" stroke-width="5" stroke-linejoin="round"/>
<polygon points="1106,1481 1126,1461 1156,1451 1186,1446 1196,1461 1186,1486 1176,1506 1146,1521 1116,1516 1103,1501" fill="none" stroke="#111" stroke-width="4.5" stroke-linejoin="round"/>
<polygon points="1566,1191 1586,1196 1588,1221 1581,1271 1571,1311 1563,1333 1541,1296 1526,1276 1531,1246 1546,1206" fill="#fff" stroke="#111" stroke-width="4.5" stroke-linejoin="round"/>
<line x1="1184" y1="1759" x2="1176" y2="1795" stroke="#cfcae6" stroke-width="30" stroke-linecap="round"/>
<line x1="1184" y1="1759" x2="1176" y2="1795" stroke="#111" stroke-width="4.5" stroke-linecap="round"/>
<line x1="1102" y1="1960" x2="1106" y2="1996" stroke="#cfcae6" stroke-width="30" stroke-linecap="round"/>
<line x1="1102" y1="1960" x2="1106" y2="1996" stroke="#111" stroke-width="4.5" stroke-linecap="round"/>
<line x1="1271" y1="2084" x2="1315" y2="2069" stroke="#cfcae6" stroke-width="30" stroke-linecap="round"/>
<line x1="1271" y1="2084" x2="1315" y2="2069" stroke="#111" stroke-width="4.5" stroke-linecap="round"/>
<line x1="1425" y1="1930" x2="1452" y2="1898" stroke="#cfcae6" stroke-width="30" stroke-linecap="round"/>
<line x1="1425" y1="1930" x2="1452" y2="1898" stroke="#111" stroke-width="4.5" stroke-linecap="round"/>
<line x1="1621" y1="1206" x2="1621" y2="1266" stroke="#cfcae6" stroke-width="30" stroke-linecap="round"/>
<line x1="1621" y1="1206" x2="1621" y2="1266" stroke="#111" stroke-width="4.5" stroke-linecap="round"/>
<line x1="1606" y1="1336" x2="1586" y2="1371" stroke="#cfcae6" stroke-width="30" stroke-linecap="round"/>
<line x1="1606" y1="1336" x2="1586" y2="1371" stroke="#111" stroke-width="4.5" stroke-linecap="round"/>
<line x1="1551" y1="1451" x2="1536" y2="1496" stroke="#cfcae6" stroke-width="30" stroke-linecap="round"/>
<line x1="1551" y1="1451" x2="1536" y2="1496" stroke="#111" stroke-width="4.5" stroke-linecap="round"/>
<line x1="1531" y1="1576" x2="1536" y2="1616" stroke="#cfcae6" stroke-width="30" stroke-linecap="round"/>
<line x1="1531" y1="1576" x2="1536" y2="1616" stroke="#111" stroke-width="4.5" stroke-linecap="round"/>
<line x1="1136" y1="1606" x2="1161" y2="1646" stroke="#cfcae6" stroke-width="30" stroke-linecap="round"/>
<line x1="1136" y1="1606" x2="1161" y2="1646" stroke="#111" stroke-width="4.5" stroke-linecap="round"/>
<line x1="1546" y1="1741" x2="1541" y2="1781" stroke="#cfcae6" stroke-width="30" stroke-linecap="round"/>
<line x1="1546" y1="1741" x2="1541" y2="1781" stroke="#111" stroke-width="4.5" stroke-linecap="round"/>
<g fill="#111"><circle cx="1392.0" cy="1673.7" r="3.2"/><circle cx="1460.4" cy="1745.7" r="3.2"/><circle cx="1368.3" cy="1772.8" r="3.2"/><circle cx="1357.1" cy="1777.0" r="3.2"/><circle cx="1376.7" cy="1786.7" r="3.2"/><circle cx="1385.0" cy="1788.1" r="3.2"/><circle cx="1359.9" cy="1795.1" r="3.2"/><circle cx="1351.6" cy="1795.1" r="3.2"/><circle cx="1365.5" cy="1802.1" r="3.2"/><circle cx="1373.9" cy="1795.1" r="3.2"/><circle cx="1424.1" cy="1792.3" r="3.2"/><circle cx="1435.3" cy="1795.1" r="3.2"/><circle cx="1449.2" cy="1786.7" r="3.2"/><circle cx="1466.0" cy="1786.7" r="3.2"/><circle cx="1485.5" cy="1775.6" r="3.2"/><circle cx="1493.9" cy="1775.6" r="3.2"/><circle cx="1485.5" cy="1789.5" r="3.2"/><circle cx="1474.3" cy="1795.1" r="3.2"/><circle cx="1460.4" cy="1800.7" r="3.2"/><circle cx="1454.8" cy="1807.6" r="3.2"/><circle cx="1418.5" cy="1804.9" r="3.2"/><circle cx="1432.5" cy="1804.9" r="3.2"/><circle cx="1491.1" cy="1810.4" r="3.2"/><circle cx="1393.4" cy="1806.2" r="3.2"/><circle cx="1403.2" cy="1818.8" r="3.2"/><circle cx="1412.9" cy="1830.0" r="3.2"/><circle cx="1429.7" cy="1832.8" r="3.2"/><circle cx="1438.1" cy="1817.4" r="3.2"/><circle cx="1457.6" cy="1828.6" r="3.2"/><circle cx="1446.4" cy="1836.9" r="3.2"/><circle cx="1474.3" cy="1839.7" r="3.2"/><circle cx="1471.5" cy="1828.6" r="3.2"/><circle cx="1329.2" cy="1824.4" r="3.2"/><circle cx="1341.8" cy="1830.0" r="3.2"/><circle cx="1362.7" cy="1817.4" r="3.2"/><circle cx="1368.3" cy="1828.6" r="3.2"/><circle cx="1359.9" cy="1839.7" r="3.2"/><circle cx="1373.9" cy="1834.2" r="3.2"/><circle cx="1379.5" cy="1839.7" r="3.2"/><circle cx="1358.5" cy="1853.7" r="3.2"/><circle cx="1412.9" cy="1849.5" r="3.2"/><circle cx="1432.5" cy="1849.5" r="3.2"/><circle cx="1457.6" cy="1852.3" r="3.2"/><circle cx="1466.0" cy="1856.5" r="3.2"/><circle cx="1450.6" cy="1863.4" r="3.2"/><circle cx="1304.1" cy="1849.5" r="3.2"/><circle cx="1280.4" cy="1857.9" r="3.2"/><circle cx="1245.5" cy="1864.8" r="3.2"/><circle cx="1240.0" cy="1866.2" r="3.2"/><circle cx="1334.8" cy="1862.1" r="3.2"/><circle cx="1336.2" cy="1871.8" r="3.2"/><circle cx="1351.6" cy="1876.0" r="3.2"/><circle cx="1357.1" cy="1878.8" r="3.2"/><circle cx="1379.5" cy="1872.4" r="3.2"/><circle cx="1438.1" cy="1881.6" r="3.2"/><circle cx="1404.6" cy="1887.2" r="3.2"/><circle cx="1418.5" cy="1884.4" r="3.2"/><circle cx="1410.2" cy="1888.6" r="3.2"/><circle cx="1274.8" cy="1880.2" r="3.2"/><circle cx="1290.2" cy="1881.6" r="3.2"/><circle cx="1301.3" cy="1877.4" r="3.2"/><circle cx="1306.9" cy="1894.1" r="3.2"/><circle cx="1242.7" cy="1895.5" r="3.2"/><circle cx="1251.1" cy="1890.0" r="3.2"/><circle cx="1260.9" cy="1891.4" r="3.2"/><circle cx="1262.3" cy="1908.1" r="3.2"/><circle cx="1323.7" cy="1901.1" r="3.2"/><circle cx="1320.9" cy="1906.7" r="3.2"/><circle cx="1351.6" cy="1906.7" r="3.2"/><circle cx="1359.9" cy="1902.5" r="3.2"/><circle cx="1362.7" cy="1913.7" r="3.2"/><circle cx="1373.9" cy="1909.5" r="3.2"/><circle cx="1385.0" cy="1898.3" r="3.2"/><circle cx="1390.6" cy="1903.9" r="3.2"/><circle cx="1415.7" cy="1899.7" r="3.2"/><circle cx="1348.8" cy="1920.6" r="3.2"/><circle cx="1362.7" cy="1917.9" r="3.2"/><circle cx="1385.0" cy="1919.3" r="3.2"/><circle cx="1400.4" cy="1922.0" r="3.2"/><circle cx="1394.8" cy="1934.6" r="3.2"/><circle cx="1246.9" cy="1920.6" r="3.2"/><circle cx="1248.3" cy="1929.0" r="3.2"/><circle cx="1242.7" cy="1931.8" r="3.2"/><circle cx="1306.9" cy="1916.5" r="3.2"/><circle cx="1339.0" cy="1948.5" r="3.2"/><circle cx="1327.8" cy="1972.3" r="3.2"/><circle cx="1175.8" cy="1923.4" r="3.2"/><circle cx="1198.1" cy="1912.3" r="3.2"/><circle cx="1206.5" cy="1917.9" r="3.2"/><circle cx="1200.9" cy="1927.6" r="3.2"/><circle cx="1167.4" cy="1937.4" r="3.2"/><circle cx="1156.2" cy="1943.0" r="3.2"/><circle cx="1150.7" cy="1945.8" r="3.2"/><circle cx="1295.8" cy="1990.4" r="3.2"/><circle cx="1293.0" cy="2001.6" r="3.2"/><circle cx="1298.5" cy="2007.1" r="3.2"/><circle cx="1301.3" cy="2023.9" r="3.2"/><circle cx="1315.3" cy="2022.5" r="3.2"/><circle cx="1279.0" cy="2068.5" r="3.2"/><circle cx="1290.2" cy="2062.9" r="3.2"/><circle cx="1362.7" cy="1806.2" r="5"/><circle cx="1365.5" cy="1823.0" r="5"/><circle cx="1362.7" cy="1834.2" r="5"/><circle cx="1485.5" cy="1790.9" r="5"/><circle cx="1457.6" cy="1802.1" r="5"/><circle cx="1359.9" cy="1912.3" r="5"/><circle cx="1365.5" cy="1909.5" r="5"/><circle cx="1295.8" cy="1998.8" r="5"/><circle cx="1299.9" cy="2012.7" r="5"/><circle cx="1161.8" cy="1940.2" r="5"/><circle cx="1167.4" cy="1936.0" r="5"/><circle cx="1200.9" cy="1915.1" r="5"/><circle cx="1383" cy="1391" r="4"/><circle cx="1418" cy="1402" r="6"/><circle cx="1273" cy="1463" r="3"/><circle cx="1308" cy="1473" r="3"/><circle cx="1221" cy="1563" r="3"/><circle cx="1253" cy="1568" r="3.5"/><circle cx="1278" cy="1571" r="2.5"/><circle cx="1226" cy="1588" r="4"/><circle cx="1241" cy="1591" r="3.5"/><circle cx="1266" cy="1583" r="3"/><circle cx="1231" cy="1598" r="4"/><circle cx="1266" cy="1598" r="3"/><circle cx="1256" cy="1616" r="2"/><circle cx="1211" cy="1616" r="2"/><circle cx="1271" cy="1578" r="2.5"/><circle cx="1435" cy="1574" r="3"/><circle cx="1483" cy="1614" r="5"/><circle cx="1391" cy="1673" r="3"/><circle cx="1460" cy="1741" r="2"/><circle cx="1501" cy="1270" r="4"/><circle cx="1508" cy="1280" r="5"/><circle cx="1503" cy="1290" r="3"/><circle cx="1586" cy="1296" r="3"/><circle cx="1593" cy="1321" r="3"/><circle cx="1641" cy="1158" r="3"/><circle cx="1676" cy="1146" r="3"/><circle cx="1605" cy="1185" r="2.5"/><circle cx="1613" cy="1178" r="2"/><circle cx="1568.0" cy="1035.7" r="4.4"/><circle cx="1555.2" cy="976.0" r="4.7"/><circle cx="1548.2" cy="1028.1" r="4.5"/><circle cx="1563.0" cy="976.3" r="3.2"/><circle cx="1556.2" cy="990.5" r="3.8"/><circle cx="1565.7" cy="1045.6" r="4.5"/><circle cx="1567.9" cy="1044.9" r="3.0"/><circle cx="1553.1" cy="1007.3" r="2.6"/><circle cx="1549.1" cy="997.5" r="3.7"/><circle cx="1577.3" cy="1008.9" r="3.8"/><circle cx="1563.9" cy="970.8" r="2.5"/><circle cx="1554.2" cy="1015.2" r="3.0"/><circle cx="1559.8" cy="946.4" r="4.6"/><circle cx="1552.9" cy="972.8" r="4.7"/><circle cx="1564.3" cy="1030.7" r="4.1"/><circle cx="1571.7" cy="955.1" r="3.9"/><circle cx="1564.2" cy="1033.1" r="3.4"/><circle cx="1567.1" cy="951.9" r="3.5"/><circle cx="1558.3" cy="961.0" r="4.5"/><circle cx="1560.1" cy="1043.9" r="4.0"/><circle cx="1567.4" cy="1009.8" r="4.2"/><circle cx="1552.8" cy="990.0" r="3.1"/><circle cx="1560.9" cy="955.7" r="4.9"/><circle cx="1554.9" cy="1013.2" r="3.3"/><circle cx="1576.0" cy="1012.2" r="2.8"/><circle cx="1575.0" cy="1040.5" r="4.8"/><circle cx="1555.7" cy="1008.7" r="3.0"/><circle cx="1564.3" cy="1033.1" r="3.0"/><circle cx="1563.2" cy="1038.5" r="3.9"/><circle cx="1551.0" cy="1024.7" r="3.1"/><circle cx="1542.9" cy="1052.6" r="3.7"/><circle cx="1555.1" cy="1019.3" r="4.4"/><circle cx="1542.6" cy="1022.3" r="2.6"/><circle cx="1544.9" cy="1058.0" r="4.1"/><circle cx="1552.3" cy="1031.4" r="4.7"/><circle cx="1550.3" cy="1035.4" r="4.2"/><circle cx="1498.5" cy="1174.4" r="4.4"/><circle cx="1510.1" cy="1147.2" r="4.8"/><circle cx="1491.1" cy="1191.7" r="4.5"/><circle cx="1493.9" cy="1167.0" r="4.5"/><circle cx="1491.3" cy="1182.5" r="4.5"/><circle cx="1501.8" cy="1189.7" r="3.1"/><circle cx="1495.2" cy="1162.9" r="2.9"/><circle cx="1498.3" cy="1206.2" r="3.9"/><circle cx="1498.1" cy="1156.1" r="4.9"/><circle cx="1500.3" cy="1208.5" r="3.8"/><circle cx="1501.9" cy="1202.3" r="4.4"/><circle cx="1503.2" cy="1167.6" r="4.7"/><circle cx="1499.6" cy="1204.3" r="2.7"/><circle cx="1500.0" cy="1174.4" r="4.9"/><circle cx="1496.3" cy="1195.6" r="4.2"/><circle cx="1506.1" cy="1182.6" r="4.9"/><circle cx="1498.0" cy="1165.5" r="3.0"/><circle cx="1492.1" cy="1151.8" r="4.8"/><circle cx="1486.8" cy="1217.8" r="4.0"/><circle cx="1479.6" cy="1229.9" r="4.1"/><circle cx="1476.1" cy="1239.0" r="3.7"/><circle cx="1482.6" cy="1230.9" r="3.0"/><circle cx="1471.2" cy="1225.3" r="4.4"/><circle cx="1486.3" cy="1233.2" r="2.8"/><circle cx="1458.3" cy="1258.6" r="4.7"/><circle cx="1450.5" cy="1260.6" r="2.6"/><circle cx="1440.6" cy="1245.3" r="3.1"/><circle cx="1445.0" cy="1248.2" r="3.9"/><circle cx="1440.8" cy="1255.0" r="2.9"/><circle cx="1311.7" cy="1330.7" r="3.3"/><circle cx="1320.0" cy="1347.2" r="4.5"/><circle cx="1311.1" cy="1349.5" r="3.0"/><circle cx="1308.4" cy="1331.3" r="4.5"/><circle cx="1320.7" cy="1357.3" r="2.6"/><circle cx="1300.8" cy="1340.2" r="2.8"/><circle cx="1310.1" cy="1355.5" r="3.3"/><circle cx="1317.6" cy="1355.5" r="2.8"/><circle cx="1314.5" cy="1358.2" r="3.0"/><circle cx="1308.4" cy="1350.4" r="4.0"/><circle cx="1293.1" cy="1351.2" r="4.1"/><circle cx="1316.4" cy="1355.7" r="3.3"/><circle cx="1313.1" cy="1357.8" r="4.7"/><circle cx="1295.2" cy="1330.9" r="4.1"/><circle cx="1244.7" cy="1363.5" r="4.9"/><circle cx="1248.3" cy="1358.8" r="3.6"/><circle cx="1254.5" cy="1356.5" r="3.5"/><circle cx="1242.9" cy="1364.9" r="4.6"/><circle cx="1248.3" cy="1360.6" r="3.8"/><circle cx="1163.2" cy="1414.9" r="3.3"/><circle cx="1166.9" cy="1411.6" r="4.4"/><circle cx="1168.7" cy="1416.0" r="2.7"/><circle cx="1171.4" cy="1412.6" r="2.8"/></g>
<ellipse cx="1341" cy="1598" rx="25" ry="9" transform="rotate(-20 1341 1598)" fill="none" stroke="#111" stroke-width="3.5"/>
</g>
<text transform="translate(8.0,83.0) scale(0.8564,1)" font-size="78.7" font-weight="normal" fill="#222">a</text>
<text transform="translate(47.0,92.0) scale(0.6064,1)" font-size="93.5" font-weight="normal" fill="#222">)</text>
<text transform="translate(92.0,83.0) scale(1.0157,1)" font-size="64.1" font-weight="normal" fill="#222">Energy transiton degree</text>
<text transform="translate(1793.0,94.0) scale(0.5574,1)" font-size="96.4" font-weight="normal" fill="#222">(</text>
<text transform="translate(1822.0,81.0) scale(0.9645,1)" font-size="70.5" font-weight="normal" fill="#222">b</text>
<text transform="translate(1867.0,94.0) scale(0.5574,1)" font-size="96.4" font-weight="normal" fill="#222">)</text>
<text transform="translate(1898.0,80.0) scale(1.0330,1)" font-size="62.1" font-weight="normal" fill="#222">Getis-Ord Gi*</text>
<rect x="10.5" y="1331" width="59.5" height="48" fill="#fff" stroke="#333" stroke-width="3.5"/>
<rect x="10.5" y="1437" width="59.5" height="48" fill="#FFE000" stroke="#333" stroke-width="3.5"/>
<rect x="10.5" y="1539.5" width="59.5" height="48.0" fill="#CCE2C7" stroke="#333" stroke-width="3.5"/>
<rect x="10.5" y="1647" width="59.5" height="46.5" fill="#4FD9F2" stroke="#333" stroke-width="3.5"/>
<text transform="translate(80.0,1376.0) scale(0.9568,1)" font-size="57.3" font-weight="normal" fill="#222">No data</text>
<text transform="translate(80.0,1481.0) scale(0.9995,1)" font-size="53.4" font-weight="normal" fill="#222">Low</text>
<text transform="translate(212.0,1481.0) scale(0.8255,1)" font-size="62.1" font-weight="normal" fill="#222">(&lt;4.2%)</text>
<text transform="translate(80.0,1576.0) scale(1.0168,1)" font-size="53.4" font-weight="normal" fill="#222">Medium(4.2%-12.2%)</text>
<text transform="translate(82.0,1686.0) scale(1.0298,1)" font-size="53.4" font-weight="normal" fill="#222">High(&gt;12.2%)</text>
<text transform="translate(527.0,1676.0) scale(0.9412,1)" font-size="48.9" font-weight="normal" fill="#222">0</text>
<text transform="translate(680.0,1676.0) scale(1.0913,1)" font-size="48.9" font-weight="normal" fill="#222">750</text>
<text transform="translate(775.0,1676.0) scale(1.0859,1)" font-size="50.4" font-weight="normal" fill="#222">km</text>
<polyline points="536,1683 536,1698.5 747,1698.5 747,1683" fill="none" stroke="#222" stroke-width="4"/>
<rect x="11" y="1731" width="58" height="20" fill="#dcd8ee"/>
<rect x="12" y="1737" width="36" height="8" fill="#7b7a8c"/><rect x="56" y="1737" width="9" height="8" fill="#7b7a8c"/>
<text transform="translate(93.0,1754.0) scale(1.0878,1)" font-size="52.7" font-weight="normal" fill="#222">National boundary</text>
<line x1="9" y1="1794" x2="68" y2="1794" stroke="#2a2226" stroke-width="4"/>
<text transform="translate(93.0,1811.0) scale(1.0899,1)" font-size="52.7" font-weight="normal" fill="#222">Provincial boundary</text>
<line x1="12" y1="1855" x2="70" y2="1855" stroke="#c8c8c8" stroke-width="2.5"/>
<text transform="translate(93.0,1870.5) scale(1.0846,1)" font-size="52.3" font-weight="normal" fill="#222">City boundary</text>
<rect x="1784.5" y="1350" width="77.5" height="38" fill="#fff" stroke="#a9a9a9" stroke-width="3"/>
<g><text transform="translate(1876.0,1386.0) scale(1.0251,1)" font-size="53.4" font-weight="normal" fill="#222">No data</text></g>
<rect x="1784.5" y="1411" width="77.5" height="36" fill="#4575B8" stroke="#a9a9a9" stroke-width="3"/>
<g><text transform="translate(1876.0,1445.0) scale(1.0977,1)" font-size="53.0" font-weight="normal" fill="#222">Cold Spot − 99% Confidence</text></g>
<rect x="1784.5" y="1467" width="77.5" height="38" fill="#849FC2" stroke="#a9a9a9" stroke-width="3"/>
<g><text transform="translate(1876.0,1503.0) scale(1.0977,1)" font-size="53.0" font-weight="normal" fill="#222">Cold Spot − 95% Confidence</text></g>
<rect x="1784.5" y="1524" width="77.5" height="37" fill="#C1CDBF" stroke="#a9a9a9" stroke-width="3"/>
<g><text transform="translate(1876.0,1559.0) scale(1.0977,1)" font-size="53.0" font-weight="normal" fill="#222">Cold Spot − 90% Confidence</text></g>
<rect x="1784.5" y="1581" width="77.5" height="37" fill="#F5F5F0" stroke="#a9a9a9" stroke-width="3"/>
<g><text transform="translate(1876.0,1616.0) scale(1.1003,1)" font-size="53.4" font-weight="normal" fill="#222">Not Significant</text></g>
<rect x="1784.5" y="1638" width="77.5" height="37" fill="#F7B885" stroke="#a9a9a9" stroke-width="3"/>
<g><text transform="translate(1876.0,1673.0) scale(1.0892,1)" font-size="53.4" font-weight="normal" fill="#222">Hot Spot − 90% Confidence</text></g>
<rect x="1784.5" y="1694" width="77.5" height="38" fill="#EB7852" stroke="#a9a9a9" stroke-width="3"/>
<g><text transform="translate(1876.0,1730.0) scale(1.0892,1)" font-size="53.4" font-weight="normal" fill="#222">Hot Spot − 95% Confidence</text></g>
<rect x="1784.5" y="1751" width="77.5" height="38" fill="#D62D26" stroke="#a9a9a9" stroke-width="3"/>
<g><text transform="translate(1876.0,1787.0) scale(1.0892,1)" font-size="53.4" font-weight="normal" fill="#222">Hot Spot − 99% Confidence</text></g>
<text transform="translate(2632.0,1724.0) scale(0.8997,1)" font-size="51.1" font-weight="normal" fill="#222">0</text>
<text transform="translate(2789.0,1724.0) scale(1.0171,1)" font-size="51.1" font-weight="normal" fill="#222">750</text>
<text transform="translate(2882.0,1724.0) scale(1.0407,1)" font-size="51.8" font-weight="normal" fill="#222">km</text>
<polyline points="2640,1731 2640,1749 2852,1749 2852,1731" fill="none" stroke="#222" stroke-width="4"/>
<rect x="1782" y="1826" width="58" height="20" fill="#dcd8ee"/>
<rect x="1783" y="1832" width="36" height="8" fill="#7b7a8c"/><rect x="1827" y="1832" width="9" height="8" fill="#7b7a8c"/>
<text transform="translate(1865.0,1846.0) scale(1.1012,1)" font-size="51.9" font-weight="normal" fill="#222">National boundary</text>
<line x1="1780" y1="1888" x2="1838" y2="1888" stroke="#2a2226" stroke-width="4"/>
<text transform="translate(1865.0,1901.0) scale(1.1012,1)" font-size="51.9" font-weight="normal" fill="#222">Provincial boundary</text>
<line x1="1783" y1="1949" x2="1841" y2="1949" stroke="#c8c8c8" stroke-width="2.5"/>
<text transform="translate(1865.0,1962.0) scale(1.0938,1)" font-size="51.5" font-weight="normal" fill="#222">City boundary</text>
<polyline points="237,2165.8 237,2966 1731,2966" fill="none" stroke="#111" stroke-width="3"/>
<line x1="237" y1="2165.8" x2="252" y2="2165.8" stroke="#111" stroke-width="3.2"/>
<line x1="237" y1="2366" x2="252" y2="2366" stroke="#111" stroke-width="3.2"/>
<line x1="237" y1="2566" x2="252" y2="2566" stroke="#111" stroke-width="3.2"/>
<line x1="237" y1="2766" x2="252" y2="2766" stroke="#111" stroke-width="3.2"/>
<line x1="309.5" y1="2966" x2="309.5" y2="2952" stroke="#111" stroke-width="3"/>
<line x1="594" y1="2966" x2="594" y2="2952" stroke="#111" stroke-width="3"/>
<line x1="878" y1="2966" x2="878" y2="2952" stroke="#111" stroke-width="3"/>
<line x1="1162" y1="2966" x2="1162" y2="2952" stroke="#111" stroke-width="3"/>
<line x1="1447" y1="2966" x2="1447" y2="2952" stroke="#111" stroke-width="3"/>
<line x1="1730" y1="2966" x2="1730" y2="2952" stroke="#111" stroke-width="3"/>
<g fill="#b5b5b5"><circle cx="318.5" cy="2308.4" r="8.2"/><circle cx="321.0" cy="2316.0" r="8.2"/><circle cx="323.5" cy="2352.8" r="8.2"/><circle cx="333.9" cy="2373.7" r="8.2"/><circle cx="412.2" cy="2387.4" r="8.2"/><circle cx="436.5" cy="2399.7" r="8.2"/><circle cx="479.2" cy="2352.8" r="8.2"/><circle cx="346.9" cy="2396.3" r="8.2"/><circle cx="341.9" cy="2405.5" r="8.2"/><circle cx="324.8" cy="2409.7" r="8.2"/><circle cx="326.0" cy="2424.8" r="8.2"/><circle cx="346.9" cy="2426.4" r="8.2"/><circle cx="355.3" cy="2423.1" r="8.2"/><circle cx="382.6" cy="2423.1" r="8.2"/><circle cx="372.0" cy="2436.5" r="8.2"/><circle cx="351.1" cy="2444.0" r="8.2"/><circle cx="360.3" cy="2444.0" r="8.2"/><circle cx="367.0" cy="2448.2" r="8.2"/><circle cx="462.4" cy="2443.2" r="8.2"/><circle cx="467.5" cy="2441.5" r="8.2"/><circle cx="480.9" cy="2444.0" r="8.2"/><circle cx="588.0" cy="2423.0" r="8.2"/><circle cx="399.7" cy="2469.1" r="8.2"/><circle cx="479.2" cy="2475.8" r="8.2"/><circle cx="586.3" cy="2469.1" r="8.2"/><circle cx="320.1" cy="2485.0" r="8.2"/><circle cx="324.3" cy="2496.8" r="8.2"/><circle cx="347.8" cy="2481.7" r="8.2"/><circle cx="361.7" cy="2477.5" r="8.2"/><circle cx="382.6" cy="2486.7" r="8.2"/><circle cx="372.0" cy="2497.6" r="8.2"/><circle cx="352.8" cy="2499.3" r="8.2"/><circle cx="361.2" cy="2511.0" r="8.2"/><circle cx="405.5" cy="2511.0" r="8.2"/><circle cx="552.9" cy="2508.5" r="8.2"/><circle cx="313.4" cy="2519.4" r="8.2"/><circle cx="332.7" cy="2517.7" r="8.2"/><circle cx="351.1" cy="2524.4" r="8.2"/><circle cx="345.2" cy="2531.1" r="8.2"/><circle cx="380.4" cy="2531.9" r="8.2"/><circle cx="372.0" cy="2537.8" r="8.2"/><circle cx="475.0" cy="2523.5" r="8.2"/><circle cx="468.3" cy="2533.6" r="8.2"/><circle cx="485.0" cy="2536.1" r="8.2"/><circle cx="495.1" cy="2545.3" r="8.2"/><circle cx="541.1" cy="2529.4" r="8.2"/><circle cx="536.1" cy="2550.3" r="8.2"/><circle cx="403.8" cy="2542.8" r="8.2"/><circle cx="410.5" cy="2543.6" r="8.2"/><circle cx="397.1" cy="2551.2" r="8.2"/><circle cx="420.6" cy="2559.5" r="8.2"/><circle cx="429.0" cy="2564.6" r="8.2"/><circle cx="447.4" cy="2573.0" r="8.2"/><circle cx="447.4" cy="2579.6" r="8.2"/><circle cx="473.3" cy="2554.5" r="8.2"/><circle cx="473.3" cy="2571.3" r="8.2"/><circle cx="500.9" cy="2578.0" r="8.2"/><circle cx="541.1" cy="2566.2" r="8.2"/><circle cx="576.3" cy="2574.6" r="8.2"/><circle cx="315.1" cy="2556.2" r="8.2"/><circle cx="321.8" cy="2551.2" r="8.2"/><circle cx="328.5" cy="2561.2" r="8.2"/><circle cx="336.9" cy="2557.9" r="8.2"/><circle cx="345.2" cy="2569.6" r="8.2"/><circle cx="353.6" cy="2551.2" r="8.2"/><circle cx="360.3" cy="2562.9" r="8.2"/><circle cx="372.0" cy="2561.2" r="8.2"/><circle cx="387.1" cy="2567.9" r="8.2"/><circle cx="315.1" cy="2571.3" r="8.2"/><circle cx="328.5" cy="2578.0" r="8.2"/><circle cx="306.7" cy="2586.3" r="8.2"/><circle cx="340.2" cy="2586.3" r="8.2"/><circle cx="360.3" cy="2588.0" r="8.2"/><circle cx="377.1" cy="2584.7" r="8.2"/><circle cx="415.6" cy="2588.0" r="8.2"/><circle cx="459.1" cy="2588.0" r="8.2"/><circle cx="321.8" cy="2573.3" r="8.2"/><circle cx="345.2" cy="2571.7" r="8.2"/><circle cx="367.0" cy="2570.0" r="8.2"/><circle cx="387.1" cy="2570.8" r="8.2"/><circle cx="306.7" cy="2586.7" r="8.2"/><circle cx="328.5" cy="2580.0" r="8.2"/><circle cx="341.9" cy="2588.4" r="8.2"/><circle cx="362.0" cy="2590.0" r="8.2"/><circle cx="377.1" cy="2585.0" r="8.2"/><circle cx="310.1" cy="2598.5" r="8.2"/><circle cx="323.5" cy="2598.5" r="8.2"/><circle cx="367.0" cy="2603.5" r="8.2"/><circle cx="387.1" cy="2606.8" r="8.2"/><circle cx="316.8" cy="2610.2" r="8.2"/><circle cx="308.4" cy="2618.6" r="8.2"/><circle cx="340.2" cy="2621.9" r="8.2"/><circle cx="351.9" cy="2620.2" r="8.2"/><circle cx="377.1" cy="2618.6" r="8.2"/><circle cx="315.1" cy="2632.0" r="8.2"/><circle cx="325.2" cy="2628.6" r="8.2"/><circle cx="362.0" cy="2628.6" r="8.2"/><circle cx="373.7" cy="2635.3" r="8.2"/><circle cx="383.8" cy="2637.0" r="8.2"/><circle cx="393.8" cy="2637.0" r="8.2"/><circle cx="402.2" cy="2642.0" r="8.2"/><circle cx="413.9" cy="2646.2" r="8.2"/><circle cx="348.6" cy="2645.3" r="8.2"/><circle cx="360.3" cy="2648.7" r="8.2"/><circle cx="373.7" cy="2657.1" r="8.2"/><circle cx="368.7" cy="2662.1" r="8.2"/><circle cx="417.2" cy="2590.1" r="8.2"/><circle cx="435.7" cy="2595.1" r="8.2"/><circle cx="413.9" cy="2610.2" r="8.2"/><circle cx="405.5" cy="2612.7" r="8.2"/><circle cx="435.7" cy="2576.7" r="8.2"/><circle cx="445.7" cy="2578.4" r="8.2"/><circle cx="459.1" cy="2591.8" r="8.2"/><circle cx="472.5" cy="2573.3" r="8.2"/><circle cx="500.9" cy="2578.4" r="8.2"/><circle cx="576.3" cy="2575.0" r="8.2"/><circle cx="479.2" cy="2601.8" r="8.2"/><circle cx="480.9" cy="2606.8" r="8.2"/><circle cx="532.8" cy="2601.8" r="8.2"/><circle cx="544.5" cy="2599.3" r="8.2"/><circle cx="572.9" cy="2629.4" r="8.2"/><circle cx="567.9" cy="2644.5" r="8.2"/><circle cx="588.0" cy="2639.5" r="8.2"/><circle cx="460.8" cy="2628.6" r="8.2"/><circle cx="472.5" cy="2631.1" r="8.2"/><circle cx="447.4" cy="2637.0" r="8.2"/><circle cx="454.1" cy="2643.7" r="8.2"/><circle cx="440.7" cy="2652.0" r="8.2"/><circle cx="432.3" cy="2656.2" r="8.2"/><circle cx="485.9" cy="2645.3" r="8.2"/><circle cx="492.6" cy="2648.7" r="8.2"/><circle cx="507.6" cy="2640.3" r="8.2"/><circle cx="510.2" cy="2645.3" r="8.2"/><circle cx="310.1" cy="2665.4" r="8.2"/><circle cx="318.5" cy="2675.5" r="8.2"/><circle cx="328.5" cy="2668.8" r="8.2"/><circle cx="333.5" cy="2658.7" r="8.2"/><circle cx="357.0" cy="2678.8" r="8.2"/><circle cx="375.4" cy="2674.6" r="8.2"/><circle cx="373.7" cy="2690.5" r="8.2"/><circle cx="398.0" cy="2677.1" r="8.2"/><circle cx="390.5" cy="2693.9" r="8.2"/><circle cx="398.8" cy="2700.6" r="8.2"/><circle cx="427.3" cy="2674.6" r="8.2"/><circle cx="421.4" cy="2686.4" r="8.2"/><circle cx="437.3" cy="2693.9" r="8.2"/><circle cx="426.4" cy="2704.8" r="8.2"/><circle cx="439.8" cy="2703.9" r="8.2"/><circle cx="456.6" cy="2665.4" r="8.2"/><circle cx="456.6" cy="2678.8" r="8.2"/><circle cx="470.8" cy="2693.9" r="8.2"/><circle cx="473.3" cy="2701.4" r="8.2"/><circle cx="455.7" cy="2716.5" r="8.2"/><circle cx="467.5" cy="2714.0" r="8.2"/><circle cx="497.6" cy="2693.9" r="8.2"/><circle cx="522.7" cy="2671.3" r="8.2"/><circle cx="531.9" cy="2688.0" r="8.2"/><circle cx="566.2" cy="2666.3" r="8.2"/><circle cx="561.2" cy="2675.5" r="8.2"/><circle cx="557.0" cy="2688.9" r="8.2"/><circle cx="552.9" cy="2703.9" r="8.2"/><circle cx="308.4" cy="2695.6" r="8.2"/><circle cx="325.2" cy="2693.1" r="8.2"/><circle cx="311.8" cy="2710.6" r="8.2"/><circle cx="323.5" cy="2715.7" r="8.2"/><circle cx="327.7" cy="2724.0" r="8.2"/><circle cx="343.6" cy="2700.6" r="8.2"/><circle cx="346.9" cy="2695.6" r="8.2"/><circle cx="350.3" cy="2736.6" r="8.2"/><circle cx="367.9" cy="2744.1" r="8.2"/><circle cx="380.4" cy="2738.3" r="8.2"/><circle cx="397.1" cy="2730.7" r="8.2"/><circle cx="397.1" cy="2739.1" r="8.2"/><circle cx="493.4" cy="2732.4" r="8.2"/><circle cx="489.2" cy="2749.1" r="8.2"/><circle cx="465.0" cy="2759.2" r="8.2"/><circle cx="530.3" cy="2742.4" r="8.2"/><circle cx="550.3" cy="2742.4" r="8.2"/><circle cx="557.0" cy="2757.5" r="8.2"/><circle cx="577.1" cy="2724.9" r="8.2"/><circle cx="343.6" cy="2770.9" r="8.2"/><circle cx="338.6" cy="2783.5" r="8.2"/><circle cx="372.9" cy="2787.7" r="8.2"/><circle cx="418.1" cy="2797.7" r="8.2"/><circle cx="465.0" cy="2801.9" r="8.2"/><circle cx="508.5" cy="2812.8" r="8.2"/><circle cx="358.6" cy="2832.8" r="8.2"/><circle cx="307.6" cy="2852.9" r="8.2"/><circle cx="944.2" cy="2342.8" r="8.2"/><circle cx="590.2" cy="2422.7" r="8.2"/><circle cx="789.0" cy="2443.8" r="8.2"/><circle cx="587.5" cy="2469.0" r="8.2"/><circle cx="627.0" cy="2479.6" r="8.2"/><circle cx="661.0" cy="2496.3" r="8.2"/><circle cx="664.1" cy="2522.5" r="8.2"/><circle cx="750.9" cy="2489.5" r="8.2"/><circle cx="783.5" cy="2484.3" r="8.2"/><circle cx="993.5" cy="2504.4" r="8.2"/><circle cx="698.1" cy="2542.9" r="8.2"/><circle cx="686.9" cy="2558.9" r="8.2"/><circle cx="702.5" cy="2559.6" r="8.2"/><circle cx="715.1" cy="2575.9" r="8.2"/><circle cx="580.0" cy="2574.2" r="8.2"/><circle cx="633.8" cy="2592.9" r="8.2"/><circle cx="629.4" cy="2597.0" r="8.2"/><circle cx="635.5" cy="2609.3" r="8.2"/><circle cx="643.0" cy="2627.0" r="8.2"/><circle cx="648.1" cy="2625.3" r="8.2"/><circle cx="790.3" cy="2565.0" r="8.2"/><circle cx="804.6" cy="2558.9" r="8.2"/><circle cx="807.4" cy="2583.4" r="8.2"/><circle cx="771.6" cy="2600.4" r="8.2"/><circle cx="838.7" cy="2599.0" r="8.2"/><circle cx="908.5" cy="2578.6" r="8.2"/><circle cx="955.4" cy="2588.8" r="8.2"/><circle cx="876.1" cy="2612.7" r="8.2"/><circle cx="782.5" cy="2632.1" r="8.2"/><circle cx="591.9" cy="2639.6" r="8.2"/><circle cx="621.5" cy="2644.3" r="8.2"/><circle cx="649.8" cy="2648.4" r="8.2"/><circle cx="696.4" cy="2642.3" r="8.2"/><circle cx="696.4" cy="2663.7" r="8.2"/><circle cx="580.0" cy="2628.7" r="8.2"/><circle cx="654.2" cy="2678.0" r="8.2"/><circle cx="661.0" cy="2702.9" r="8.2"/><circle cx="779.1" cy="2673.9" r="8.2"/><circle cx="868.6" cy="2670.5" r="8.2"/><circle cx="898.2" cy="2666.1" r="8.2"/><circle cx="877.1" cy="2695.0" r="8.2"/><circle cx="722.3" cy="2709.7" r="8.2"/><circle cx="763.8" cy="2705.9" r="8.2"/><circle cx="580.0" cy="2725.0" r="8.2"/><circle cx="619.8" cy="2722.3" r="8.2"/><circle cx="680.7" cy="2744.7" r="8.2"/><circle cx="796.5" cy="2738.6" r="8.2"/><circle cx="804.6" cy="2751.2" r="8.2"/><circle cx="792.7" cy="2756.3" r="8.2"/><circle cx="843.1" cy="2745.4" r="8.2"/><circle cx="614.0" cy="2777.7" r="8.2"/><circle cx="705.3" cy="2773.3" r="8.2"/><circle cx="747.8" cy="2780.1" r="8.2"/><circle cx="1360.7" cy="2529.2" r="8.2"/><circle cx="1192.9" cy="2572.0" r="8.2"/><circle cx="1060.3" cy="2605.8" r="8.2"/><circle cx="1268.4" cy="2623.6" r="8.2"/><circle cx="1013.8" cy="2645.4" r="8.2"/><circle cx="1086.1" cy="2674.5" r="8.2"/><circle cx="1165.3" cy="2669.7" r="8.2"/><circle cx="1455.8" cy="2649.0" r="8.2"/><circle cx="1499.4" cy="2681.7" r="8.2"/><circle cx="1548.4" cy="2680.3" r="8.2"/><circle cx="1576.0" cy="2703.1" r="8.2"/><circle cx="1181.2" cy="2716.6" r="8.2"/><circle cx="1231.0" cy="2741.6" r="8.2"/><circle cx="1282.6" cy="2754.4" r="8.2"/><circle cx="1557.9" cy="2741.6" r="8.2"/><circle cx="1357.4" cy="2828.8" r="8.2"/><circle cx="1691.5" cy="2841.2" r="8.2"/></g>
<line x1="306" y1="2591.5" x2="1693.5" y2="2711.5" stroke="#404040" stroke-width="7" stroke-linecap="round"/>
<text transform="translate(152.5,2188.6) scale(0.8215,1)" font-size="71.2" font-weight="bold" fill="#111">12</text>
<text transform="translate(152.5,2389.0) scale(0.8277,1)" font-size="70.7" font-weight="bold" fill="#111">10</text>
<text transform="translate(178.5,2589.0) scale(0.9197,1)" font-size="70.7" font-weight="bold" fill="#111">8</text>
<text transform="translate(178.5,2789.5) scale(0.9128,1)" font-size="71.2" font-weight="bold" fill="#111">6</text>
<text transform="translate(178.5,2990.6) scale(0.9128,1)" font-size="71.2" font-weight="bold" fill="#111">4</text>
<text transform="translate(301.0,3024.0) scale(1.0133,1)" font-size="63.2" font-weight="bold" fill="#111">0</text>
<text transform="translate(564.5,3024.0) scale(1.0133,1)" font-size="63.2" font-weight="bold" fill="#111">0.2</text>
<text transform="translate(848.0,3024.0) scale(1.0133,1)" font-size="63.2" font-weight="bold" fill="#111">0.4</text>
<text transform="translate(1132.0,3024.0) scale(1.0133,1)" font-size="63.2" font-weight="bold" fill="#111">0.6</text>
<text transform="translate(1417.0,3024.0) scale(1.0133,1)" font-size="63.2" font-weight="bold" fill="#111">0.8</text>
<text transform="translate(1700.0,3024.0) scale(1.0133,1)" font-size="63.2" font-weight="bold" fill="#111">1.0</text>
<text transform="translate(884.0,3113.0) scale(0.9015,1)" font-size="68.7" font-weight="bold" fill="#111">lnETD</text>
<text transform="translate(125.3,2667.0) rotate(-90) scale(0.8927,1)" font-size="68.1" font-weight="bold" fill="#111">lnGDP</text>
<text transform="translate(40.0,2210.0) scale(0.7277,1)" font-size="106.5" font-weight="normal" fill="#111">(c)</text>
<polyline points="1905.5,2165.8 1905.5,2964 3399,2964" fill="none" stroke="#111" stroke-width="3"/>
<line x1="1905.5" y1="2165.8" x2="1920.5" y2="2165.8" stroke="#111" stroke-width="3.2"/>
<line x1="1905.5" y1="2366.5" x2="1920.5" y2="2366.5" stroke="#111" stroke-width="3.2"/>
<line x1="1905.5" y1="2566.5" x2="1920.5" y2="2566.5" stroke="#111" stroke-width="3.2"/>
<line x1="1905.5" y1="2766" x2="1920.5" y2="2766" stroke="#111" stroke-width="3.2"/>
<line x1="1977" y1="2964" x2="1977" y2="2950" stroke="#111" stroke-width="3"/>
<line x1="2262" y1="2964" x2="2262" y2="2950" stroke="#111" stroke-width="3"/>
<line x1="2546" y1="2964" x2="2546" y2="2950" stroke="#111" stroke-width="3"/>
<line x1="2830" y1="2964" x2="2830" y2="2950" stroke="#111" stroke-width="3"/>
<line x1="3114" y1="2964" x2="3114" y2="2950" stroke="#111" stroke-width="3"/>
<line x1="3398" y1="2964" x2="3398" y2="2950" stroke="#111" stroke-width="3"/>
<g fill="#b5b5b5"><circle cx="2030.3" cy="2333.1" r="8.2"/><circle cx="1987.6" cy="2355.6" r="8.2"/><circle cx="2029.0" cy="2369.1" r="8.2"/><circle cx="2147.8" cy="2382.0" r="8.2"/><circle cx="1993.5" cy="2384.5" r="8.2"/><circle cx="2003.5" cy="2381.2" r="8.2"/><circle cx="1997.7" cy="2408.5" r="8.2"/><circle cx="1990.1" cy="2417.2" r="8.2"/><circle cx="2021.6" cy="2408.5" r="8.2"/><circle cx="2082.7" cy="2414.7" r="8.2"/><circle cx="2137.1" cy="2409.7" r="8.2"/><circle cx="2116.5" cy="2425.6" r="8.2"/><circle cx="2010.2" cy="2430.6" r="8.2"/><circle cx="1994.3" cy="2440.6" r="8.2"/><circle cx="2001.9" cy="2443.1" r="8.2"/><circle cx="2040.4" cy="2434.8" r="8.2"/><circle cx="2051.2" cy="2438.6" r="8.2"/><circle cx="2148.3" cy="2451.5" r="8.2"/><circle cx="2258.8" cy="2454.0" r="8.2"/><circle cx="1981.8" cy="2461.6" r="8.2"/><circle cx="1991.8" cy="2463.2" r="8.2"/><circle cx="2016.1" cy="2464.9" r="8.2"/><circle cx="2045.7" cy="2464.9" r="8.2"/><circle cx="2068.5" cy="2473.3" r="8.2"/><circle cx="2105.7" cy="2462.4" r="8.2"/><circle cx="2101.5" cy="2471.6" r="8.2"/><circle cx="2111.5" cy="2470.8" r="8.2"/><circle cx="2130.8" cy="2465.7" r="8.2"/><circle cx="1990.1" cy="2484.2" r="8.2"/><circle cx="2001.9" cy="2483.3" r="8.2"/><circle cx="2020.3" cy="2474.1" r="8.2"/><circle cx="2035.3" cy="2477.5" r="8.2"/><circle cx="2052.1" cy="2485.0" r="8.2"/><circle cx="2085.6" cy="2482.5" r="8.2"/><circle cx="2057.1" cy="2494.2" r="8.2"/><circle cx="1996.8" cy="2497.6" r="8.2"/><circle cx="2010.2" cy="2494.2" r="8.2"/><circle cx="2025.3" cy="2490.9" r="8.2"/><circle cx="2038.7" cy="2492.5" r="8.2"/><circle cx="2075.5" cy="2497.6" r="8.2"/><circle cx="2083.9" cy="2494.2" r="8.2"/><circle cx="2135.8" cy="2490.0" r="8.2"/><circle cx="2154.2" cy="2485.0" r="8.2"/><circle cx="2166.8" cy="2485.8" r="8.2"/><circle cx="2140.8" cy="2500.1" r="8.2"/><circle cx="2201.1" cy="2494.2" r="8.2"/><circle cx="2211.1" cy="2504.3" r="8.2"/><circle cx="2247.1" cy="2490.0" r="8.2"/><circle cx="2256.3" cy="2483.3" r="8.2"/><circle cx="1979.3" cy="2515.1" r="8.2"/><circle cx="1990.1" cy="2516.0" r="8.2"/><circle cx="2007.7" cy="2505.9" r="8.2"/><circle cx="2030.3" cy="2512.6" r="8.2"/><circle cx="2045.4" cy="2509.3" r="8.2"/><circle cx="2060.5" cy="2511.8" r="8.2"/><circle cx="2077.2" cy="2516.0" r="8.2"/><circle cx="2082.2" cy="2511.0" r="8.2"/><circle cx="2097.3" cy="2519.3" r="8.2"/><circle cx="2104.8" cy="2515.1" r="8.2"/><circle cx="2123.2" cy="2521.8" r="8.2"/><circle cx="2150.9" cy="2516.0" r="8.2"/><circle cx="2162.6" cy="2513.5" r="8.2"/><circle cx="1989.3" cy="2534.4" r="8.2"/><circle cx="2000.2" cy="2532.7" r="8.2"/><circle cx="2018.6" cy="2532.7" r="8.2"/><circle cx="2033.7" cy="2539.4" r="8.2"/><circle cx="2045.4" cy="2531.0" r="8.2"/><circle cx="2125.7" cy="2541.1" r="8.2"/><circle cx="2134.1" cy="2537.7" r="8.2"/><circle cx="2144.2" cy="2533.5" r="8.2"/><circle cx="2127.4" cy="2551.1" r="8.2"/><circle cx="2140.8" cy="2546.1" r="8.2"/><circle cx="2163.4" cy="2545.3" r="8.2"/><circle cx="2206.1" cy="2531.0" r="8.2"/><circle cx="2216.2" cy="2536.1" r="8.2"/><circle cx="2237.9" cy="2538.6" r="8.2"/><circle cx="2259.7" cy="2532.7" r="8.2"/><circle cx="2199.4" cy="2543.6" r="8.2"/><circle cx="2222.0" cy="2551.1" r="8.2"/><circle cx="2191.0" cy="2553.6" r="8.2"/><circle cx="2095.6" cy="2552.8" r="8.2"/><circle cx="2154.2" cy="2561.2" r="8.2"/><circle cx="2179.3" cy="2561.2" r="8.2"/><circle cx="1979.3" cy="2566.2" r="8.2"/><circle cx="1993.5" cy="2576.2" r="8.2"/><circle cx="1983.4" cy="2581.3" r="8.2"/><circle cx="2008.6" cy="2576.2" r="8.2"/><circle cx="2021.9" cy="2571.2" r="8.2"/><circle cx="2027.0" cy="2581.3" r="8.2"/><circle cx="2043.7" cy="2571.2" r="8.2"/><circle cx="2047.1" cy="2582.9" r="8.2"/><circle cx="2060.5" cy="2571.2" r="8.2"/><circle cx="2072.2" cy="2572.9" r="8.2"/><circle cx="2088.9" cy="2576.2" r="8.2"/><circle cx="2100.6" cy="2574.6" r="8.2"/><circle cx="2115.7" cy="2561.2" r="8.2"/><circle cx="2142.5" cy="2579.6" r="8.2"/><circle cx="2158.4" cy="2577.9" r="8.2"/><circle cx="2226.2" cy="2572.9" r="8.2"/><circle cx="2244.6" cy="2582.9" r="8.2"/><circle cx="2212.8" cy="2584.6" r="8.2"/><circle cx="1978.4" cy="2594.7" r="8.2"/><circle cx="1995.2" cy="2594.7" r="8.2"/><circle cx="2015.2" cy="2598.0" r="8.2"/><circle cx="2037.0" cy="2596.3" r="8.2"/><circle cx="2055.4" cy="2589.6" r="8.2"/><circle cx="2067.1" cy="2598.0" r="8.2"/><circle cx="2095.6" cy="2591.3" r="8.2"/><circle cx="2110.7" cy="2588.0" r="8.2"/><circle cx="2124.1" cy="2588.0" r="8.2"/><circle cx="2204.4" cy="2598.0" r="8.2"/><circle cx="2231.2" cy="2598.0" r="8.2"/><circle cx="2013.6" cy="2590.0" r="8.2"/><circle cx="2037.0" cy="2598.4" r="8.2"/><circle cx="2050.4" cy="2591.7" r="8.2"/><circle cx="2065.5" cy="2599.2" r="8.2"/><circle cx="2105.7" cy="2599.2" r="8.2"/><circle cx="2125.7" cy="2603.4" r="8.2"/><circle cx="2129.1" cy="2610.9" r="8.2"/><circle cx="2169.3" cy="2607.6" r="8.2"/><circle cx="2205.3" cy="2602.6" r="8.2"/><circle cx="2236.2" cy="2616.8" r="8.2"/><circle cx="2200.3" cy="2625.2" r="8.2"/><circle cx="2242.1" cy="2636.9" r="8.2"/><circle cx="2222.0" cy="2649.4" r="8.2"/><circle cx="1978.4" cy="2615.1" r="8.2"/><circle cx="1986.8" cy="2611.8" r="8.2"/><circle cx="2001.9" cy="2615.1" r="8.2"/><circle cx="1996.8" cy="2625.2" r="8.2"/><circle cx="2011.9" cy="2624.3" r="8.2"/><circle cx="2017.8" cy="2606.7" r="8.2"/><circle cx="2030.3" cy="2613.4" r="8.2"/><circle cx="2042.0" cy="2612.6" r="8.2"/><circle cx="2032.0" cy="2629.3" r="8.2"/><circle cx="2037.0" cy="2627.7" r="8.2"/><circle cx="2067.1" cy="2621.8" r="8.2"/><circle cx="2058.8" cy="2632.7" r="8.2"/><circle cx="2065.5" cy="2639.4" r="8.2"/><circle cx="2090.6" cy="2632.7" r="8.2"/><circle cx="2087.2" cy="2647.8" r="8.2"/><circle cx="2105.7" cy="2647.8" r="8.2"/><circle cx="2140.0" cy="2641.1" r="8.2"/><circle cx="2160.9" cy="2651.9" r="8.2"/><circle cx="1980.9" cy="2631.0" r="8.2"/><circle cx="1983.4" cy="2639.4" r="8.2"/><circle cx="1997.7" cy="2650.3" r="8.2"/><circle cx="1991.0" cy="2672.0" r="8.2"/><circle cx="2009.4" cy="2666.2" r="8.2"/><circle cx="2011.9" cy="2682.9" r="8.2"/><circle cx="2047.1" cy="2666.2" r="8.2"/><circle cx="2047.1" cy="2675.4" r="8.2"/><circle cx="2124.1" cy="2672.9" r="8.2"/><circle cx="2135.0" cy="2667.0" r="8.2"/><circle cx="2150.0" cy="2667.0" r="8.2"/><circle cx="2175.1" cy="2672.0" r="8.2"/><circle cx="2219.5" cy="2690.5" r="8.2"/><circle cx="1980.9" cy="2690.5" r="8.2"/><circle cx="1987.6" cy="2690.5" r="8.2"/><circle cx="1977.6" cy="2701.3" r="8.2"/><circle cx="1976.7" cy="2708.9" r="8.2"/><circle cx="2011.9" cy="2722.3" r="8.2"/><circle cx="2051.7" cy="2717.2" r="8.2"/><circle cx="2108.7" cy="2719.3" r="8.2"/><circle cx="1982.6" cy="2738.2" r="8.2"/><circle cx="2043.4" cy="2753.2" r="8.2"/><circle cx="2062.1" cy="2755.7" r="8.2"/><circle cx="2069.7" cy="2759.1" r="8.2"/><circle cx="2135.8" cy="2753.2" r="8.2"/><circle cx="1976.7" cy="2774.2" r="8.2"/><circle cx="2042.0" cy="2886.3" r="8.2"/><circle cx="2178.5" cy="2886.3" r="8.2"/><circle cx="2259.5" cy="2454.6" r="8.2"/><circle cx="2296.4" cy="2470.0" r="8.2"/><circle cx="2256.2" cy="2482.5" r="8.2"/><circle cx="2247.0" cy="2489.5" r="8.2"/><circle cx="2458.2" cy="2495.6" r="8.2"/><circle cx="2312.0" cy="2523.5" r="8.2"/><circle cx="2260.9" cy="2532.8" r="8.2"/><circle cx="2288.8" cy="2543.1" r="8.2"/><circle cx="2315.9" cy="2540.6" r="8.2"/><circle cx="2329.8" cy="2546.7" r="8.2"/><circle cx="2355.8" cy="2551.7" r="8.2"/><circle cx="2367.0" cy="2534.2" r="8.2"/><circle cx="2371.7" cy="2541.1" r="8.2"/><circle cx="2613.0" cy="2524.4" r="8.2"/><circle cx="2664.1" cy="2530.2" r="8.2"/><circle cx="2729.1" cy="2552.3" r="8.2"/><circle cx="2290.8" cy="2571.8" r="8.2"/><circle cx="2332.9" cy="2578.8" r="8.2"/><circle cx="2350.2" cy="2590.0" r="8.2"/><circle cx="2245.6" cy="2583.0" r="8.2"/><circle cx="2432.5" cy="2573.8" r="8.2"/><circle cx="2452.6" cy="2569.6" r="8.2"/><circle cx="2473.8" cy="2566.2" r="8.2"/><circle cx="2537.7" cy="2576.8" r="8.2"/><circle cx="2577.6" cy="2586.0" r="8.2"/><circle cx="2449.3" cy="2593.3" r="8.2"/><circle cx="2476.6" cy="2600.3" r="8.2"/><circle cx="2301.4" cy="2609.5" r="8.2"/><circle cx="2319.0" cy="2605.3" r="8.2"/><circle cx="2240.0" cy="2616.5" r="8.2"/><circle cx="2365.6" cy="2619.3" r="8.2"/><circle cx="2375.3" cy="2620.1" r="8.2"/><circle cx="2365.6" cy="2624.8" r="8.2"/><circle cx="2420.0" cy="2619.8" r="8.2"/><circle cx="2440.9" cy="2616.5" r="8.2"/><circle cx="2459.0" cy="2623.4" r="8.2"/><circle cx="2545.5" cy="2627.6" r="8.2"/><circle cx="2624.5" cy="2620.1" r="8.2"/><circle cx="2682.2" cy="2629.0" r="8.2"/><circle cx="2512.6" cy="2638.2" r="8.2"/><circle cx="2507.9" cy="2655.0" r="8.2"/><circle cx="2243.3" cy="2637.4" r="8.2"/><circle cx="2323.1" cy="2635.2" r="8.2"/><circle cx="2283.2" cy="2648.0" r="8.2"/><circle cx="2304.2" cy="2661.1" r="8.2"/><circle cx="2329.8" cy="2673.7" r="8.2"/><circle cx="2391.5" cy="2665.8" r="8.2"/><circle cx="2461.8" cy="2696.8" r="8.2"/><circle cx="2465.4" cy="2715.0" r="8.2"/><circle cx="2473.8" cy="2714.1" r="8.2"/><circle cx="2546.4" cy="2704.4" r="8.2"/><circle cx="2417.5" cy="2720.3" r="8.2"/><circle cx="2384.0" cy="2737.8" r="8.2"/><circle cx="2567.8" cy="2756.8" r="8.2"/><circle cx="3029.8" cy="2556.2" r="8.2"/><circle cx="2861.8" cy="2600.5" r="8.2"/><circle cx="3124.7" cy="2612.0" r="8.2"/><circle cx="2899.8" cy="2639.9" r="8.2"/><circle cx="2755.1" cy="2672.7" r="8.2"/><circle cx="2849.9" cy="2677.9" r="8.2"/><circle cx="2834.6" cy="2686.6" r="8.2"/><circle cx="2937.1" cy="2691.5" r="8.2"/><circle cx="2951.7" cy="2700.6" r="8.2"/><circle cx="3217.4" cy="2670.2" r="8.2"/><circle cx="3168.6" cy="2709.3" r="8.2"/><circle cx="3245.0" cy="2729.8" r="8.2"/><circle cx="3227.2" cy="2751.5" r="8.2"/><circle cx="3026.4" cy="2887.4" r="8.2"/></g>
<line x1="1976" y1="2546" x2="3361.5" y2="2748" stroke="#404040" stroke-width="7" stroke-linecap="round"/>
<text transform="translate(1838.0,2183.2) scale(0.8145,1)" font-size="71.2" font-weight="bold" fill="#111">12</text>
<text transform="translate(1838.0,2383.7) scale(0.8206,1)" font-size="70.7" font-weight="bold" fill="#111">10</text>
<text transform="translate(1863.5,2584.0) scale(0.9197,1)" font-size="70.7" font-weight="bold" fill="#111">8</text>
<text transform="translate(1863.5,2784.0) scale(0.9128,1)" font-size="71.2" font-weight="bold" fill="#111">6</text>
<text transform="translate(1863.5,2985.0) scale(0.9128,1)" font-size="71.2" font-weight="bold" fill="#111">4</text>
<text transform="translate(1969.0,3022.0) scale(1.0133,1)" font-size="63.2" font-weight="bold" fill="#111">0</text>
<text transform="translate(2232.0,3022.0) scale(1.0133,1)" font-size="63.2" font-weight="bold" fill="#111">0.2</text>
<text transform="translate(2516.0,3022.0) scale(1.0133,1)" font-size="63.2" font-weight="bold" fill="#111">0.4</text>
<text transform="translate(2800.0,3022.0) scale(1.0133,1)" font-size="63.2" font-weight="bold" fill="#111">0.6</text>
<text transform="translate(3084.0,3022.0) scale(1.0133,1)" font-size="63.2" font-weight="bold" fill="#111">0.8</text>
<text transform="translate(3368.0,3022.0) scale(1.0133,1)" font-size="63.2" font-weight="bold" fill="#111">1.0</text>
<text transform="translate(2549.0,3112.0) scale(0.9066,1)" font-size="70.2" font-weight="bold" fill="#111">lnETD</text>
<text transform="translate(1828.3,2646.0) rotate(-90) scale(0.8899,1)" font-size="66.7" font-weight="bold" fill="#111">lnCE</text>
<text transform="translate(1678.0,2210.0) scale(0.7336,1)" font-size="106.5" font-weight="normal" fill="#111">(d)</text>
</svg></body></html>
